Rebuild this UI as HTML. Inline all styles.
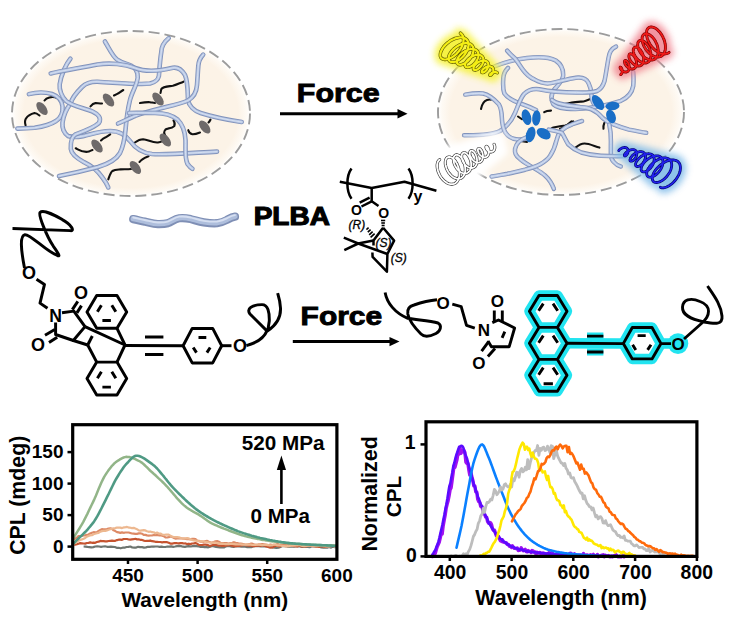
<!DOCTYPE html>
<html><head><meta charset="utf-8">
<style>
html,body{margin:0;padding:0;background:#fff;overflow:hidden;width:731px;height:621px;}
svg{display:block;}
text{font-family:"Liberation Sans",sans-serif;}
.b{font-weight:bold;}
</style></head>
<body>
<svg width="731" height="621" viewBox="0 0 731 621">
<defs>
 <radialGradient id="eg" cx="50%" cy="50%" r="50%">
  <stop offset="0" stop-color="#fcf3e6"/>
  <stop offset="0.9" stop-color="#fcf3e7"/>
  <stop offset="0.97" stop-color="#fefaf4"/>
  <stop offset="1" stop-color="#ffffff"/>
 </radialGradient>
 <filter id="blur4" x="-50%" y="-50%" width="200%" height="200%"><feGaussianBlur stdDeviation="3.5"/></filter>
 <filter id="blur06" x="-10%" y="-10%" width="120%" height="120%"><feGaussianBlur stdDeviation="0.7"/></filter>
 <filter id="blur6" x="-50%" y="-50%" width="200%" height="200%"><feGaussianBlur stdDeviation="6"/></filter>
</defs>

<!-- ============ TOP ELLIPSES ============ -->
<ellipse cx="131" cy="113.5" rx="119" ry="82.5" fill="url(#eg)"/>
<ellipse cx="131" cy="113.5" rx="119" ry="82.5" fill="none" stroke="#9c9c9c" stroke-width="1.9" stroke-dasharray="11 5" filter="url(#blur06)"/>
<ellipse cx="561" cy="112" rx="123" ry="83" fill="url(#eg)"/>
<ellipse cx="561" cy="112" rx="123" ry="83" fill="none" stroke="#9c9c9c" stroke-width="1.9" stroke-dasharray="11 5" filter="url(#blur06)"/>
<g>
 <g fill="none" stroke-linecap="round" stroke-linejoin="round">
  <g stroke="#111" stroke-width="2.1">
   <path d="M57.6,98.2 C54,96.5 51,97 49.4,97.4 C47,98 45.5,99 44.5,100.5 M39.5,115.5 C37,113.5 35.5,113 34.6,113 C31,114 28,115.5 26.4,117.9 C24.8,120 24.8,123 25.6,125.3"/>
   <path d="M90.5,106.4 C92,104.5 94,103.2 95.4,103.1 C97,103 99,103.5 102,103.5 M114,95.5 C116,94.5 117,94 118.4,93.3 C120,92.2 121.5,91 123.3,90"/>
   <path d="M75.7,148.3 C79,150 83,153 88.8,151.6 C90,151 91,150.5 92.5,150 M101,140.5 C102.5,139 104,138 105.2,137.6 C107,136.5 108.5,135.5 110.2,134.3"/>
   <path d="M140,103 C143,102.5 147,102 150,102.2 C152,102.5 153.5,103 155,103 M160.5,93 C161,91 161,89.8 161.3,89.1 C163,86.5 168,86.5 172.8,85.8 C176,85 180,83 183.5,81.7"/>
   <path d="M134.9,142.5 C137,141 140,139.3 143.1,139.3 C148,139.5 152,143 157.9,142.5 C160,142.2 161.5,141.8 162,141 M165.3,136 C164.5,134 163.5,132.5 164.5,131 C165,129.6 166.5,128.8 167.8,128.6 C170,128.2 173,127.5 174.3,126.1 C175,124.5 174.5,122 173.5,120.4"/>
   <path d="M188.3,130.2 C189,132.5 190.5,134 192.4,134.3 C195,134.5 197.5,133.5 200,132.5 M208.5,122.5 C209.5,121.5 210,120.5 210.5,119.6"/>
   <path d="M108.3,179.3 C109.5,176 110.5,172.5 112.4,171 C115,169.3 118,169.6 120.6,169.4 C124,169.2 127,169.4 131,169 M139.5,162 C140.5,161 141,160.3 142,159.6 C144,158 146.5,157 148.5,156.3"/>
  </g>
  <g fill="#6e6a6a" stroke="none">
   <ellipse cx="42" cy="108.5" rx="4.2" ry="7.6" transform="rotate(-38 42 108.5)"/>
   <ellipse cx="108.5" cy="100" rx="4.2" ry="7.6" transform="rotate(-38 108.5 100)"/>
   <ellipse cx="97" cy="146" rx="4.2" ry="7.6" transform="rotate(-38 97 146)"/>
   <ellipse cx="158" cy="99" rx="4.2" ry="7.6" transform="rotate(-38 158 99)"/>
   <ellipse cx="165.3" cy="140" rx="4.2" ry="7.6" transform="rotate(-38 165.3 140)"/>
   <ellipse cx="204.7" cy="127" rx="4.2" ry="7.6" transform="rotate(-38 204.7 127)"/>
   <ellipse cx="135.4" cy="167.5" rx="4.2" ry="7.6" transform="rotate(-38 135.4 167.5)"/>
  </g>
  <g fill="none" stroke-linecap="round" stroke-linejoin="round"><path d="M28.9,94.1 C35,92.5 45,92 52,94 C58,96 62,101 62.5,106.4 C63,112 61,118 56,121 C50,125 40,127 34.6,127.8 C28,128.5 22,128.6 17.4,128.6" stroke="#8092bb" stroke-width="4.6"/><path d="M28.9,94.1 C35,92.5 45,92 52,94 C58,96 62,101 62.5,106.4 C63,112 61,118 56,121 C50,125 40,127 34.6,127.8 C28,128.5 22,128.6 17.4,128.6" stroke="#b8c7e4" stroke-width="2.8"/><path d="M28.9,94.1 C35,92.5 45,92 52,94 C58,96 62,101 62.5,106.4 C63,112 61,118 56,121 C50,125 40,127 34.6,127.8 C28,128.5 22,128.6 17.4,128.6" stroke="#dde6f5" stroke-width="0.8"/><path d="M168.7,38.2 C164,42 161.5,46 161.3,52 C160,60 159.5,68 158.9,76 C158,80 156,82 150,83.5 C140,85 120,83 97.5,81.7 C90,81.5 86,83 82,87 C76,93 72,98 70.8,103.1 C67,108 63.5,115 62.5,122.8 C62,128 64,133 68,136 C73,138 78,137 83.9,136 C92,134 100,131 110,131 C120,131 125,135 130,141 C135,148 142,153 152,154 C165,155 190,153 217,151.6" stroke="#8092bb" stroke-width="4.6"/><path d="M168.7,38.2 C164,42 161.5,46 161.3,52 C160,60 159.5,68 158.9,76 C158,80 156,82 150,83.5 C140,85 120,83 97.5,81.7 C90,81.5 86,83 82,87 C76,93 72,98 70.8,103.1 C67,108 63.5,115 62.5,122.8 C62,128 64,133 68,136 C73,138 78,137 83.9,136 C92,134 100,131 110,131 C120,131 125,135 130,141 C135,148 142,153 152,154 C165,155 190,153 217,151.6" stroke="#b8c7e4" stroke-width="2.8"/><path d="M168.7,38.2 C164,42 161.5,46 161.3,52 C160,60 159.5,68 158.9,76 C158,80 156,82 150,83.5 C140,85 120,83 97.5,81.7 C90,81.5 86,83 82,87 C76,93 72,98 70.8,103.1 C67,108 63.5,115 62.5,122.8 C62,128 64,133 68,136 C73,138 78,137 83.9,136 C92,134 100,131 110,131 C120,131 125,135 130,141 C135,148 142,153 152,154 C165,155 190,153 217,151.6" stroke="#dde6f5" stroke-width="0.8"/><path d="M70.4,58.7 C66,64 61,75 59.7,84.2 C59,90 62,97 66,101 C72,106 84,108 92.1,111.3 C98,114 102,118 99,122.8 C95,127 82,132 75.7,134.3 C71,137 70.5,143 70.8,149.1 C71.5,155 78,159 84,162.2 C92,166 98,171 102.5,177.6 C105,181 107,184 108.3,187.5" stroke="#8092bb" stroke-width="4.6"/><path d="M70.4,58.7 C66,64 61,75 59.7,84.2 C59,90 62,97 66,101 C72,106 84,108 92.1,111.3 C98,114 102,118 99,122.8 C95,127 82,132 75.7,134.3 C71,137 70.5,143 70.8,149.1 C71.5,155 78,159 84,162.2 C92,166 98,171 102.5,177.6 C105,181 107,184 108.3,187.5" stroke="#b8c7e4" stroke-width="2.8"/><path d="M70.4,58.7 C66,64 61,75 59.7,84.2 C59,90 62,97 66,101 C72,106 84,108 92.1,111.3 C98,114 102,118 99,122.8 C95,127 82,132 75.7,134.3 C71,137 70.5,143 70.8,149.1 C71.5,155 78,159 84,162.2 C92,166 98,171 102.5,177.6 C105,181 107,184 108.3,187.5" stroke="#dde6f5" stroke-width="0.8"/><path d="M104.9,41.5 C110,50 113,57 117.2,59.6 C122,63 127,63.7 131,65.5 C136,68 138,72 137.7,77.6 C137,85 132,92 130,100 C128,108 126.5,118 125.5,130 C124.7,138 123.5,146 120,153 C116,160 108,164 98,167 C85,170.5 72,173.5 59,176" stroke="#8092bb" stroke-width="4.6"/><path d="M104.9,41.5 C110,50 113,57 117.2,59.6 C122,63 127,63.7 131,65.5 C136,68 138,72 137.7,77.6 C137,85 132,92 130,100 C128,108 126.5,118 125.5,130 C124.7,138 123.5,146 120,153 C116,160 108,164 98,167 C85,170.5 72,173.5 59,176" stroke="#b8c7e4" stroke-width="2.8"/><path d="M104.9,41.5 C110,50 113,57 117.2,59.6 C122,63 127,63.7 131,65.5 C136,68 138,72 137.7,77.6 C137,85 132,92 130,100 C128,108 126.5,118 125.5,130 C124.7,138 123.5,146 120,153 C116,160 108,164 98,167 C85,170.5 72,173.5 59,176" stroke="#dde6f5" stroke-width="0.8"/><path d="M50.7,73.5 C60,71 80,68 97.5,64.5 C110,62.5 125,64 135,68 C145,72 160,71 172.8,67.8 C178,67 182,70 185,75 C188,82 187.6,92 188,100 C189,106 194,111 200.6,113 C210,116 225,119.5 241.7,122" stroke="#8092bb" stroke-width="4.6"/><path d="M50.7,73.5 C60,71 80,68 97.5,64.5 C110,62.5 125,64 135,68 C145,72 160,71 172.8,67.8 C178,67 182,70 185,75 C188,82 187.6,92 188,100 C189,106 194,111 200.6,113 C210,116 225,119.5 241.7,122" stroke="#b8c7e4" stroke-width="2.8"/><path d="M50.7,73.5 C60,71 80,68 97.5,64.5 C110,62.5 125,64 135,68 C145,72 160,71 172.8,67.8 C178,67 182,70 185,75 C188,82 187.6,92 188,100 C189,106 194,111 200.6,113 C210,116 225,119.5 241.7,122" stroke="#dde6f5" stroke-width="0.8"/><path d="M203.2,54.6 C200,58 198.5,62 198.3,66 C197.8,72 197.5,79 197,85 C196.5,92 194,97 188,100.5 C180,104 170,106 162,108 C152,110.5 142,113 135,116 C130,118 124,121 118,123.5" stroke="#8092bb" stroke-width="4.6"/><path d="M203.2,54.6 C200,58 198.5,62 198.3,66 C197.8,72 197.5,79 197,85 C196.5,92 194,97 188,100.5 C180,104 170,106 162,108 C152,110.5 142,113 135,116 C130,118 124,121 118,123.5" stroke="#b8c7e4" stroke-width="2.8"/><path d="M203.2,54.6 C200,58 198.5,62 198.3,66 C197.8,72 197.5,79 197,85 C196.5,92 194,97 188,100.5 C180,104 170,106 162,108 C152,110.5 142,113 135,116 C130,118 124,121 118,123.5" stroke="#dde6f5" stroke-width="0.8"/><path d="M129,113 C135,112.5 146,113 155,113 C163,113 172,115 177.6,119.6 C182,124 185,130 185.5,140 C185.8,150 184.5,158 187.5,163.9 C189,166 191,168 192.4,168.8" stroke="#8092bb" stroke-width="4.6"/><path d="M129,113 C135,112.5 146,113 155,113 C163,113 172,115 177.6,119.6 C182,124 185,130 185.5,140 C185.8,150 184.5,158 187.5,163.9 C189,166 191,168 192.4,168.8" stroke="#b8c7e4" stroke-width="2.8"/><path d="M129,113 C135,112.5 146,113 155,113 C163,113 172,115 177.6,119.6 C182,124 185,130 185.5,140 C185.8,150 184.5,158 187.5,163.9 C189,166 191,168 192.4,168.8" stroke="#dde6f5" stroke-width="0.8"/></g>
 </g>
</g>

<g>
 <g fill="none" stroke-linecap="round" stroke-linejoin="round">
  <g stroke="#111" stroke-width="2.1">
   <path d="M481,109 C482,104 484,101 487,100 C488.5,99.5 490,99.5 491,99.6"/>
   <path d="M554,101.6 C558,103.5 561,104.5 565,104 C570,103 576,101.5 581,101.6 C586,101.8 590,99 593,97.5"/>
   <path d="M544.2,112.2 C546,111 548,110.6 551,110.6"/>
   <path d="M518,116.5 C519.5,117.5 521,118.5 522,119.2"/>
   <path d="M552,127.9 C556,127 560,126 565.1,125.5 C568,125 571,123 573.3,121.3"/>
   <path d="M575.6,147.6 C578,145.5 581,143.5 584.6,143.5 C589,143.5 594,146 599.4,147.6"/>
   <path d="M604.3,123 C603.5,125 603.2,127 603.5,128.7"/>
   <path d="M571.5,121.3 C569,123 567.5,124.5 566.6,126.3 C564,127.5 562,128.2 560,128.7"/>
   <path d="M520.8,141 C523,141.5 525,141.8 527,142"/>
  </g>
 </g>
<g fill="none" stroke-linecap="round" stroke-linejoin="round"><path d="M494.9,66.3 C505,62 515,59.5 527,58 C540,56.5 550,57.5 555.7,60.5 C561,64 563.5,70 563.1,76.1 C562.5,81 559,84 555,88.5 C551.5,93 550.5,99 553.2,104 C556,107.5 565,109 575.4,109 C590,108.5 605,106 620.9,100.8 C628,97.5 632,93 633.2,86 C633.8,80 633.5,76 633.2,72" stroke="#8092bb" stroke-width="4.5"/><path d="M494.9,66.3 C505,62 515,59.5 527,58 C540,56.5 550,57.5 555.7,60.5 C561,64 563.5,70 563.1,76.1 C562.5,81 559,84 555,88.5 C551.5,93 550.5,99 553.2,104 C556,107.5 565,109 575.4,109 C590,108.5 605,106 620.9,100.8 C628,97.5 632,93 633.2,86 C633.8,80 633.5,76 633.2,72" stroke="#b8c7e4" stroke-width="2.8"/><path d="M494.9,66.3 C505,62 515,59.5 527,58 C540,56.5 550,57.5 555.7,60.5 C561,64 563.5,70 563.1,76.1 C562.5,81 559,84 555,88.5 C551.5,93 550.5,99 553.2,104 C556,107.5 565,109 575.4,109 C590,108.5 605,106 620.9,100.8 C628,97.5 632,93 633.2,86 C633.8,80 633.5,76 633.2,72" stroke="#dde6f5" stroke-width="0.8"/><path d="M507.2,50.7 C510,54 512,56 514.6,58 C518,62 520,66 522.8,69.6 C526,74 530,77.5 534.3,79.4 C538,81.5 543,83.5 547.5,83.5 C552,83.5 556,81.8 560.6,81 C566,80 572,78 578,77.6 C583,77.3 586.5,79 588.5,83 C590.5,87 591.3,91 591.3,94.2 C591.5,98 592,101 594,104" stroke="#8092bb" stroke-width="4.5"/><path d="M507.2,50.7 C510,54 512,56 514.6,58 C518,62 520,66 522.8,69.6 C526,74 530,77.5 534.3,79.4 C538,81.5 543,83.5 547.5,83.5 C552,83.5 556,81.8 560.6,81 C566,80 572,78 578,77.6 C583,77.3 586.5,79 588.5,83 C590.5,87 591.3,91 591.3,94.2 C591.5,98 592,101 594,104" stroke="#b8c7e4" stroke-width="2.8"/><path d="M507.2,50.7 C510,54 512,56 514.6,58 C518,62 520,66 522.8,69.6 C526,74 530,77.5 534.3,79.4 C538,81.5 543,83.5 547.5,83.5 C552,83.5 556,81.8 560.6,81 C566,80 572,78 578,77.6 C583,77.3 586.5,79 588.5,83 C590.5,87 591.3,91 591.3,94.2 C591.5,98 592,101 594,104" stroke="#dde6f5" stroke-width="0.8"/><path d="M508,67.9 C505,71 503.5,74 503.3,78 C503,83 502.5,88 504.3,93.3 C507,97.5 511,100 519.6,103.2 C526,105.5 532,108 536,110" stroke="#8092bb" stroke-width="4.5"/><path d="M508,67.9 C505,71 503.5,74 503.3,78 C503,83 502.5,88 504.3,93.3 C507,97.5 511,100 519.6,103.2 C526,105.5 532,108 536,110" stroke="#b8c7e4" stroke-width="2.8"/><path d="M508,67.9 C505,71 503.5,74 503.3,78 C503,83 502.5,88 504.3,93.3 C507,97.5 511,100 519.6,103.2 C526,105.5 532,108 536,110" stroke="#dde6f5" stroke-width="0.8"/><path d="M616,46.6 C611,49 609.5,52 608.5,58 C607,66 606,74 604.5,81 C603,86 601,89 597,91 C592,92.5 584,92.8 576.6,92.5 C565,92.5 550,91.5 539.3,89.3 C533,88.5 528,90 524,94 C520,99 518,106 515,113 C512,120 508,126 500,131 C492,135 480,135.5 464.1,135.3" stroke="#8092bb" stroke-width="4.5"/><path d="M616,46.6 C611,49 609.5,52 608.5,58 C607,66 606,74 604.5,81 C603,86 601,89 597,91 C592,92.5 584,92.8 576.6,92.5 C565,92.5 550,91.5 539.3,89.3 C533,88.5 528,90 524,94 C520,99 518,106 515,113 C512,120 508,126 500,131 C492,135 480,135.5 464.1,135.3" stroke="#b8c7e4" stroke-width="2.8"/><path d="M616,46.6 C611,49 609.5,52 608.5,58 C607,66 606,74 604.5,81 C603,86 601,89 597,91 C592,92.5 584,92.8 576.6,92.5 C565,92.5 550,91.5 539.3,89.3 C533,88.5 528,90 524,94 C520,99 518,106 515,113 C512,120 508,126 500,131 C492,135 480,135.5 464.1,135.3" stroke="#dde6f5" stroke-width="0.8"/><path d="M465.3,94.6 C472,93.5 478,93 483,93.5 C488,94.5 494,99 498.8,104.2 C501,108 501.6,112 501.8,117 C502,122 502.5,127 505,132 C508,137 512,139 518,139.5 C522,139.7 526,139 530,137.5" stroke="#8092bb" stroke-width="4.5"/><path d="M465.3,94.6 C472,93.5 478,93 483,93.5 C488,94.5 494,99 498.8,104.2 C501,108 501.6,112 501.8,117 C502,122 502.5,127 505,132 C508,137 512,139 518,139.5 C522,139.7 526,139 530,137.5" stroke="#b8c7e4" stroke-width="2.8"/><path d="M465.3,94.6 C472,93.5 478,93 483,93.5 C488,94.5 494,99 498.8,104.2 C501,108 501.6,112 501.8,117 C502,122 502.5,127 505,132 C508,137 512,139 518,139.5 C522,139.7 526,139 530,137.5" stroke="#dde6f5" stroke-width="0.8"/><path d="M527,137 C520,139.5 516,143 515,149.2 C514.5,153 516,156 519.7,158.7 C523,162 528,164.5 532,166.9 C537,170 541,172 545,175.5 C549,179 552,184 553.9,188.8" stroke="#8092bb" stroke-width="4.5"/><path d="M527,137 C520,139.5 516,143 515,149.2 C514.5,153 516,156 519.7,158.7 C523,162 528,164.5 532,166.9 C537,170 541,172 545,175.5 C549,179 552,184 553.9,188.8" stroke="#b8c7e4" stroke-width="2.8"/><path d="M527,137 C520,139.5 516,143 515,149.2 C514.5,153 516,156 519.7,158.7 C523,162 528,164.5 532,166.9 C537,170 541,172 545,175.5 C549,179 552,184 553.9,188.8" stroke="#dde6f5" stroke-width="0.8"/><path d="M491.6,176.5 C498,175.5 503,174.5 507.4,173.8 C514,172.5 520,171 525.1,169.7 C531,168 536,166.5 540.2,164.2 C545,161.5 548,159 550,156 C553,151.5 555,147 556.6,140 C558,133 563,127.5 571.7,124.6 C575,123.3 578,122 582,121" stroke="#8092bb" stroke-width="4.5"/><path d="M491.6,176.5 C498,175.5 503,174.5 507.4,173.8 C514,172.5 520,171 525.1,169.7 C531,168 536,166.5 540.2,164.2 C545,161.5 548,159 550,156 C553,151.5 555,147 556.6,140 C558,133 563,127.5 571.7,124.6 C575,123.3 578,122 582,121" stroke="#b8c7e4" stroke-width="2.8"/><path d="M491.6,176.5 C498,175.5 503,174.5 507.4,173.8 C514,172.5 520,171 525.1,169.7 C531,168 536,166.5 540.2,164.2 C545,161.5 548,159 550,156 C553,151.5 555,147 556.6,140 C558,133 563,127.5 571.7,124.6 C575,123.3 578,122 582,121" stroke="#dde6f5" stroke-width="0.8"/><path d="M552,100 C554,101.5 556,102.7 558.5,103.3 C565,105 572,106 580,107 C588,107.5 595,109 602.7,118 C607,122 610,123 614.2,124.6 C620,127 625,128.5 629,129.6 C636,131 641,132 646.2,132.8" stroke="#8092bb" stroke-width="4.5"/><path d="M552,100 C554,101.5 556,102.7 558.5,103.3 C565,105 572,106 580,107 C588,107.5 595,109 602.7,118 C607,122 610,123 614.2,124.6 C620,127 625,128.5 629,129.6 C636,131 641,132 646.2,132.8" stroke="#b8c7e4" stroke-width="2.8"/><path d="M552,100 C554,101.5 556,102.7 558.5,103.3 C565,105 572,106 580,107 C588,107.5 595,109 602.7,118 C607,122 610,123 614.2,124.6 C620,127 625,128.5 629,129.6 C636,131 641,132 646.2,132.8" stroke="#dde6f5" stroke-width="0.8"/><path d="M609.3,124.6 C610.5,130 611,135 610.9,141 C610.9,146 610.8,150 610.9,154.2 C611,158 612,160.5 614.2,162.4 C616,164.5 618,165.8 620.8,166.5" stroke="#8092bb" stroke-width="4.5"/><path d="M609.3,124.6 C610.5,130 611,135 610.9,141 C610.9,146 610.8,150 610.9,154.2 C611,158 612,160.5 614.2,162.4 C616,164.5 618,165.8 620.8,166.5" stroke="#b8c7e4" stroke-width="2.8"/><path d="M609.3,124.6 C610.5,130 611,135 610.9,141 C610.9,146 610.8,150 610.9,154.2 C611,158 612,160.5 614.2,162.4 C616,164.5 618,165.8 620.8,166.5" stroke="#dde6f5" stroke-width="0.8"/><path d="M548.7,129.6 C553,130.5 558,131.5 561.8,132.8 C564,136 565.5,140 568.2,144.3 C572,148 576,150.5 581.3,152.5 C588,154.5 594,155.5 601,155.8 C610,156.2 620,156.5 630.6,155.8" stroke="#8092bb" stroke-width="4.5"/><path d="M548.7,129.6 C553,130.5 558,131.5 561.8,132.8 C564,136 565.5,140 568.2,144.3 C572,148 576,150.5 581.3,152.5 C588,154.5 594,155.5 601,155.8 C610,156.2 620,156.5 630.6,155.8" stroke="#b8c7e4" stroke-width="2.8"/><path d="M548.7,129.6 C553,130.5 558,131.5 561.8,132.8 C564,136 565.5,140 568.2,144.3 C572,148 576,150.5 581.3,152.5 C588,154.5 594,155.5 601,155.8 C610,156.2 620,156.5 630.6,155.8" stroke="#dde6f5" stroke-width="0.8"/></g><g fill="#1a6ec6">
<ellipse cx="526.5" cy="117.2" rx="4.6" ry="8" transform="rotate(-15 526.5 117.2)"/>
<ellipse cx="536.4" cy="118" rx="4.2" ry="7.8" transform="rotate(5 536.4 118)"/>
<ellipse cx="530.6" cy="134.5" rx="4.6" ry="8" transform="rotate(15 530.6 134.5)"/>
<ellipse cx="543.7" cy="133.7" rx="7.6" ry="5" transform="rotate(30 543.7 133.7)"/>
<ellipse cx="598" cy="102.5" rx="4.6" ry="8.5" transform="rotate(-35 598 102.5)"/>
<ellipse cx="612.5" cy="106" rx="7" ry="4.3" transform="rotate(-5 612.5 106)"/>
<ellipse cx="611" cy="116.5" rx="4.6" ry="7" transform="rotate(-20 611 116.5)"/>
</g>
</g>

<g opacity="0.95" filter="url(#blur4)"><path d="M502.5,71.4 L458.0,26.9 L436.3,61.0 L495.5,82.3Z" fill="#f6f23a"/><path d="M497.3,72.8L497.1,72.7L496.9,72.6L496.7,72.4L496.5,72.3L496.2,72.3L495.9,72.2L495.7,72.1L495.4,72.1L495.1,72.1L494.8,72.1L494.5,72.1L494.2,72.2L493.9,72.2L493.6,72.3L493.3,72.4L493.0,72.5L492.7,72.6L492.4,72.7L492.1,72.8L491.8,73.0L491.6,73.1L491.3,73.3L491.1,73.5L490.9,73.6L490.7,73.8L490.5,74.0L490.3,74.1L490.2,74.3L490.1,74.5L490.0,74.6L489.9,74.7L489.9,74.9L489.9,75.0L489.8,75.1L489.9,75.2L489.9,75.2L490.0,75.3L490.0,75.3L490.1,75.3L490.3,75.3L490.4,75.2L490.5,75.2L490.7,75.1L490.9,75.0L491.1,74.8L491.2,74.7L491.4,74.5L491.6,74.3L491.8,74.0L492.0,73.8L492.2,73.5L492.4,73.3L492.6,73.0L492.7,72.6L492.9,72.3L493.0,72.0L493.1,71.6L493.2,71.3L493.3,70.9L493.3,70.6L493.4,70.2L493.4,69.9L493.3,69.5L493.3,69.2L493.2,68.9L493.1,68.5L493.0,68.2L492.8,68.0L492.6,67.7L492.4,67.4L492.1,67.2L491.8,67.0L491.5,66.8L491.2,66.7L490.9,66.6L490.5,66.5L490.1,66.4L489.7,66.4L489.3,66.4L488.8,66.4L488.4,66.4L487.9,66.5L487.5,66.6L487.0,66.8L486.6,66.9L486.1,67.1L485.7,67.3L485.3,67.6L484.9,67.8L484.5,68.1L484.1,68.4L483.7,68.6L483.4,68.9L483.1,69.2L482.8,69.6L482.5,69.9L482.3,70.2L482.1,70.5L481.9,70.8L481.8,71.0L481.7,71.3L481.7,71.5L481.7,71.8L481.7,72.0L481.7,72.2L481.8,72.3L481.9,72.4L482.1,72.5L482.3,72.6L482.5,72.6L482.7,72.6L482.9,72.6L483.2,72.5L483.5,72.4L483.8,72.3L484.1,72.1L484.5,71.9L484.8,71.7L485.2,71.4L485.5,71.1L485.8,70.7L486.2,70.4L486.5,70.0L486.8,69.6L487.1,69.1L487.3,68.7L487.6,68.2L487.8,67.7L488.0,67.2L488.1,66.7L488.2,66.2L488.3,65.7L488.4,65.3L488.4,64.8L488.3,64.3L488.3,63.9L488.2,63.4L488.0,63.0L487.8,62.6L487.6,62.3L487.3,61.9L487.0,61.6L486.6,61.4L486.2,61.1L485.8,61.0L485.3,60.8L484.8,60.7L484.3,60.6L483.8,60.6L483.2,60.6L482.7,60.7L482.1,60.8L481.5,60.9L480.9,61.1L480.3,61.3L479.7,61.5L479.1,61.8L478.5,62.1L477.9,62.5L477.4,62.8L476.9,63.2L476.4,63.6L475.9,64.1L475.5,64.5L475.1,64.9L474.7,65.4L474.4,65.8L474.1,66.3L473.9,66.7L473.7,67.1L473.6,67.5L473.5,67.9L473.4,68.3L473.4,68.6L473.5,68.9L473.6,69.2L473.7,69.5L473.9,69.7L474.1,69.8L474.4,69.9L474.7,70.0L475.0,70.0L475.4,70.0L475.8,69.9L476.2,69.8L476.7,69.7L477.2,69.4L477.6,69.2L478.1,68.9L478.6,68.5L479.1,68.1L479.6,67.7L480.0,67.3L480.5,66.8L480.9,66.2L481.3,65.7L481.7,65.1L482.1,64.5L482.4,63.9L482.7,63.2L482.9,62.6L483.1,62.0L483.3,61.3L483.4,60.7L483.4,60.1L483.4,59.5L483.3,58.9L483.2,58.4L483.1,57.8L482.8,57.3L482.6,56.9L482.2,56.5L481.8,56.1L481.4,55.8L480.9,55.5L480.4,55.2L479.9,55.0L479.3,54.9L478.6,54.8L478.0,54.8L477.3,54.8L476.6,54.9L475.8,55.1L475.1,55.2L474.3,55.5L473.6,55.8L472.9,56.1L472.1,56.5L471.4,56.9L470.7,57.3L470.0,57.8L469.4,58.3L468.7,58.9L468.2,59.4L467.6,60.0L467.1,60.6L466.7,61.1L466.3,61.7L466.0,62.3L465.7,62.9L465.5,63.4L465.3,64.0L465.2,64.5L465.1,65.0L465.2,65.4L465.2,65.8L465.4,66.2L465.6,66.5L465.8,66.8L466.1,67.0L466.5,67.2L466.9,67.3L467.3,67.4L467.8,67.4L468.3,67.3L468.9,67.2L469.5,67.0L470.1,66.8L470.7,66.5L471.3,66.1L472.0,65.7L472.6,65.3L473.2,64.8L473.8,64.2L474.4,63.6L475.0,63.0L475.6,62.3L476.1,61.6L476.5,60.9L477.0,60.1L477.4,59.3L477.7,58.6L478.0,57.8L478.2,57.0L478.3,56.3L478.4,55.5L478.4,54.8L478.4,54.1L478.3,53.4L478.1,52.7L477.9,52.1L477.6,51.6L477.2,51.1L476.8,50.6L476.3,50.2L475.7,49.8L475.1,49.5L474.4,49.3L473.7,49.1L473.0,49.0L472.2,49.0L471.4,49.0L470.5,49.1L469.7,49.3L468.8,49.5L467.9,49.8L467.0,50.2L466.1,50.6L465.2,51.0L464.4,51.6L463.5,52.1L462.7,52.7L461.9,53.3L461.2,54.0L460.5,54.7L459.8,55.4L459.2,56.1L458.7,56.8L458.2,57.5L457.8,58.3L457.5,59.0L457.2,59.7L457.0,60.3L456.9,61.0L456.9,61.6L456.9,62.2L457.0,62.7L457.1,63.2L457.4,63.6L457.7,63.9L458.1,64.2L458.5,64.5L459.0,64.6L459.6,64.7L460.2,64.8L460.8,64.7L461.5,64.6L462.2,64.4L462.9,64.2L463.7,63.8L464.5,63.4L465.2,63.0L466.0,62.4L466.8,61.9L467.6,61.2L468.3,60.5L469.0,59.8L469.7,59.0L470.3,58.2L470.9,57.3L471.5,56.4L472.0,55.5L472.4,54.6L472.8,53.7L473.0,52.8L473.3,51.9L473.4,51.0L473.5,50.1L473.5,49.3L473.4,48.5L473.2,47.7L473.0,47.0L472.6,46.3L472.2,45.7L471.7,45.1L471.2,44.6L470.5,44.2L469.9,43.9L469.1,43.6L468.3,43.4L467.4,43.3L466.5,43.2L465.6,43.2L464.6,43.4L463.6,43.5L462.6,43.8L461.5,44.1L460.5,44.6L459.4,45.0L458.4,45.6L457.4,46.2L456.4,46.8L455.5,47.5L454.6,48.3L453.7,49.1L452.9,49.9L452.1,50.7L451.4,51.6L450.8,52.4L450.2,53.3L449.7,54.1L449.3,55.0L449.0,55.8L448.8,56.6L448.6,57.4L448.6,58.1L448.6,58.8L448.7,59.5L448.9,60.1L449.2,60.6L449.5,61.0L450.0,61.4L450.5,61.7L451.1,61.9L451.7,62.1L452.4,62.2L453.2,62.1L454.0,62.0L454.8,61.8L455.7,61.6L456.6,61.2L457.5,60.8L458.4,60.2L459.4,59.7L460.3,59.0L461.2,58.3L462.1,57.5L462.9,56.6L463.8,55.7L464.5,54.8L465.3,53.8L465.9,52.8L466.5,51.8L467.1,50.7L467.5,49.7L467.9,48.6L468.2,47.6L468.4,46.5L468.5,45.5L468.5,44.6L468.5,43.6L468.3,42.7L468.0,41.9L467.7,41.1L467.3,40.4L466.7,39.7L466.1,39.1L465.4,38.6L464.7,38.2L463.8,37.9L462.9,37.6L461.9,37.5L460.9,37.4L459.8,37.4L458.7,37.6L457.6,37.8L456.4,38.1L455.2,38.4L454.1,38.9L452.9,39.4L451.7,40.0L450.5,40.7L449.4,41.5L448.3,42.3L447.3,43.1L446.3,44.0L445.3,45.0L444.4,45.9L443.6,46.9L442.9,47.9L442.2,48.9L441.7,49.9L441.2,50.9L440.8,51.9L440.5,52.9L440.4,53.8L440.3,54.6L440.3,55.4L440.4,56.2L440.6,56.9L440.9,57.5L441.3,58.1L441.8,58.5L442.4,58.9L443.1,59.2L443.8,59.4L444.6,59.5L445.5,59.5L446.4,59.4L447.4,59.2L448.4,59.0L449.4,58.6L450.5,58.1L451.5,57.6L452.6,56.9L453.7,56.2L454.7,55.4L455.8,54.5L456.8,53.6L457.7,52.6L458.7,51.5L459.5,50.4L460.3,49.3L461.0,48.1L461.7,46.9L462.2,45.7L462.7,44.5L463.1,43.3L463.3,42.2L463.5,41.0L463.6,39.9L463.5,38.8L463.4,37.8L463.1,36.8L462.8,35.9L462.3,35.1L461.8,34.4L461.1,33.7L460.4,33.1" fill="none" stroke="#f6f23a" stroke-width="11"/></g>
<g opacity="0.8" filter="url(#blur4)"><path d="M620.4,80.1 L675.0,52.7 L648.7,21.2 L612.1,70.1Z" fill="#f07a88"/><path d="M620.7,74.6L620.9,74.5L621.1,74.3L621.2,74.1L621.4,74.0L621.5,73.7L621.7,73.5L621.8,73.3L621.9,73.0L622.0,72.8L622.1,72.5L622.1,72.2L622.2,71.9L622.2,71.6L622.2,71.3L622.2,71.0L622.2,70.7L622.2,70.4L622.1,70.1L622.1,69.8L622.0,69.5L621.9,69.2L621.8,68.9L621.7,68.7L621.6,68.4L621.5,68.2L621.4,68.0L621.2,67.8L621.1,67.6L621.0,67.5L620.9,67.4L620.7,67.3L620.6,67.2L620.5,67.1L620.4,67.1L620.3,67.1L620.3,67.1L620.2,67.2L620.1,67.2L620.1,67.3L620.1,67.5L620.1,67.6L620.1,67.8L620.2,67.9L620.2,68.1L620.3,68.3L620.4,68.6L620.5,68.8L620.7,69.0L620.8,69.3L621.0,69.5L621.2,69.8L621.5,70.0L621.7,70.3L622.0,70.5L622.2,70.8L622.5,71.0L622.8,71.2L623.2,71.4L623.5,71.5L623.8,71.7L624.2,71.8L624.5,71.9L624.9,72.0L625.2,72.0L625.6,72.1L625.9,72.0L626.3,72.0L626.6,71.9L626.9,71.8L627.2,71.7L627.5,71.5L627.8,71.3L628.0,71.1L628.3,70.8L628.5,70.5L628.7,70.2L628.9,69.8L629.0,69.5L629.1,69.1L629.2,68.7L629.3,68.2L629.3,67.8L629.3,67.3L629.3,66.9L629.3,66.4L629.2,65.9L629.1,65.5L629.0,65.0L628.9,64.6L628.7,64.1L628.6,63.7L628.4,63.3L628.2,62.9L627.9,62.5L627.7,62.1L627.5,61.8L627.2,61.5L627.0,61.3L626.7,61.0L626.5,60.8L626.2,60.7L626.0,60.6L625.8,60.5L625.5,60.5L625.3,60.5L625.2,60.5L625.0,60.6L624.8,60.7L624.7,60.8L624.6,61.0L624.6,61.3L624.5,61.5L624.5,61.8L624.5,62.1L624.6,62.4L624.7,62.8L624.8,63.2L624.9,63.6L625.1,64.0L625.3,64.4L625.6,64.8L625.8,65.2L626.1,65.6L626.4,66.0L626.8,66.4L627.2,66.8L627.6,67.1L628.0,67.5L628.4,67.8L628.9,68.1L629.3,68.3L629.8,68.5L630.3,68.7L630.8,68.9L631.2,69.0L631.7,69.0L632.2,69.0L632.6,69.0L633.1,68.9L633.5,68.8L633.9,68.6L634.3,68.4L634.6,68.2L635.0,67.9L635.3,67.5L635.6,67.1L635.8,66.7L636.0,66.2L636.2,65.7L636.3,65.2L636.4,64.6L636.5,64.1L636.5,63.5L636.5,62.9L636.5,62.2L636.4,61.6L636.3,61.0L636.1,60.4L635.9,59.7L635.7,59.1L635.5,58.5L635.2,57.9L634.9,57.4L634.6,56.9L634.2,56.4L633.9,55.9L633.5,55.5L633.1,55.1L632.8,54.8L632.4,54.5L632.0,54.2L631.7,54.0L631.3,53.9L630.9,53.8L630.6,53.8L630.3,53.8L630.0,53.9L629.8,54.0L629.5,54.2L629.3,54.4L629.2,54.7L629.1,55.0L629.0,55.4L628.9,55.8L628.9,56.2L628.9,56.7L629.0,57.2L629.1,57.7L629.3,58.2L629.5,58.8L629.8,59.4L630.0,59.9L630.4,60.5L630.7,61.1L631.2,61.7L631.6,62.2L632.1,62.7L632.6,63.2L633.1,63.7L633.6,64.1L634.2,64.6L634.8,64.9L635.4,65.2L636.0,65.5L636.6,65.7L637.2,65.9L637.8,66.0L638.4,66.0L638.9,66.0L639.5,65.9L640.0,65.8L640.5,65.6L641.0,65.4L641.5,65.1L641.9,64.7L642.3,64.3L642.6,63.8L642.9,63.3L643.2,62.7L643.4,62.1L643.5,61.4L643.7,60.7L643.7,60.0L643.7,59.2L643.7,58.5L643.6,57.7L643.5,56.9L643.3,56.1L643.1,55.3L642.9,54.5L642.6,53.8L642.2,53.0L641.9,52.3L641.5,51.6L641.0,50.9L640.6,50.3L640.1,49.7L639.6,49.2L639.1,48.7L638.6,48.3L638.1,47.9L637.6,47.6L637.1,47.4L636.7,47.2L636.2,47.1L635.8,47.1L635.3,47.1L635.0,47.2L634.6,47.4L634.3,47.6L634.0,47.9L633.8,48.2L633.6,48.7L633.4,49.1L633.3,49.6L633.3,50.2L633.3,50.8L633.4,51.5L633.5,52.1L633.7,52.8L633.9,53.5L634.2,54.3L634.5,55.0L634.9,55.7L635.3,56.5L635.8,57.2L636.3,57.9L636.9,58.6L637.5,59.2L638.1,59.9L638.8,60.4L639.4,61.0L640.1,61.4L640.9,61.9L641.6,62.2L642.3,62.5L643.0,62.8L643.8,62.9L644.5,63.0L645.2,63.0L645.8,63.0L646.5,62.8L647.1,62.6L647.7,62.3L648.2,62.0L648.8,61.6L649.2,61.1L649.6,60.5L650.0,59.9L650.3,59.2L650.6,58.5L650.7,57.7L650.9,56.9L651.0,56.0L651.0,55.1L650.9,54.2L650.8,53.2L650.7,52.3L650.4,51.3L650.2,50.4L649.9,49.4L649.5,48.5L649.1,47.6L648.6,46.7L648.1,45.9L647.6,45.1L647.0,44.3L646.4,43.6L645.8,43.0L645.2,42.4L644.6,41.9L644.0,41.4L643.3,41.1L642.7,40.8L642.1,40.6L641.5,40.4L641.0,40.4L640.4,40.4L639.9,40.5L639.5,40.7L639.1,41.0L638.7,41.4L638.4,41.8L638.1,42.3L637.9,42.8L637.8,43.5L637.7,44.1L637.7,44.9L637.7,45.7L637.8,46.5L638.0,47.3L638.3,48.2L638.6,49.1L638.9,50.0L639.4,50.9L639.9,51.8L640.4,52.7L641.0,53.5L641.7,54.4L642.3,55.2L643.1,55.9L643.8,56.7L644.6,57.3L645.4,57.9L646.3,58.4L647.1,58.9L648.0,59.3L648.8,59.6L649.7,59.8L650.5,60.0L651.3,60.0L652.1,60.0L652.9,59.9L653.6,59.7L654.3,59.4L655.0,59.0L655.6,58.5L656.1,57.9L656.6,57.3L657.0,56.6L657.4,55.8L657.7,55.0L657.9,54.1L658.1,53.1L658.2,52.1L658.2,51.1L658.2,50.0L658.0,48.9L657.8,47.8L657.6,46.7L657.3,45.5L656.9,44.4L656.4,43.3L655.9,42.3L655.4,41.2L654.8,40.2L654.2,39.3L653.5,38.4L652.8,37.6L652.1,36.8L651.3,36.1L650.6,35.5L649.8,35.0L649.1,34.5L648.3,34.2L647.6,33.9L646.9,33.7L646.2,33.7L645.6,33.7L645.0,33.8L644.4,34.0L643.9,34.4L643.4,34.8L643.0,35.3L642.7,35.8L642.4,36.5L642.2,37.2L642.1,38.0L642.1,38.9L642.1,39.8L642.2,40.7L642.4,41.7L642.6,42.7L643.0,43.8L643.4,44.9L643.8,45.9L644.4,47.0L645.0,48.0L645.6,49.1L646.4,50.1L647.1,51.0L648.0,51.9L648.8,52.8L649.7,53.6L650.7,54.3L651.6,55.0L652.6,55.5L653.6,56.0L654.5,56.4L655.5,56.7L656.5,56.9L657.4,57.0L658.3,57.0L659.2,56.9L660.1,56.7L660.9,56.4L661.6,56.0L662.3,55.4L663.0,54.8L663.5,54.1L664.1,53.3L664.5,52.5L664.8,51.5L665.1,50.5L665.3,49.4L665.4,48.3L665.4,47.1L665.4,45.9L665.3,44.6L665.0,43.4L664.8,42.1L664.4,40.8L664.0,39.5L663.4,38.3L662.9,37.0L662.2,35.8L661.6,34.7L660.8,33.6L660.1,32.5L659.3,31.6L658.4,30.7L657.6,29.9L656.7,29.2L655.8,28.5L654.9,28.0L654.1,27.6L653.2,27.3L652.4,27.1L651.6,27.0L650.8,27.0L650.1,27.1L649.4,27.3L648.8,27.7L648.2,28.1L647.7,28.7L647.3,29.3L647.0,30.1L646.7,30.9L646.6,31.8L646.5,32.8L646.5,33.8L646.5,34.9L646.7,36.0L647.0,37.2L647.3,38.4L647.7,39.6L648.2,40.9L648.8,42.1L649.5,43.3L650.2,44.5L651.0,45.7L651.9,46.8L652.8,47.9L653.8,48.9L654.8,49.8L655.8,50.7L656.9,51.4L658.0,52.1L659.1,52.7L660.2,53.2L661.3,53.6L662.4,53.8L663.5,54.0L664.5,54.0L665.5,53.9L666.5,53.7L667.4,53.4L668.3,53.0L669.1,52.4" fill="none" stroke="#f07a88" stroke-width="11"/></g>
<g opacity="0.85" filter="url(#blur4)"><path d="M613.9,152.6 L663.4,193.5 L681.8,157.9 L619.8,141.1Z" fill="#7ab8e8"/><path d="M618.8,150.7L618.8,150.7L618.8,150.7L618.8,150.7L618.8,150.6L618.8,150.5L618.8,150.5L618.9,150.4L618.9,150.3L619.0,150.2L619.1,150.0L619.3,149.9L619.4,149.7L619.6,149.6L619.8,149.4L619.9,149.3L620.2,149.1L620.4,148.9L620.6,148.8L620.9,148.6L621.2,148.5L621.5,148.3L621.8,148.2L622.1,148.0L622.4,147.9L622.7,147.8L623.1,147.7L623.4,147.6L623.7,147.6L624.1,147.5L624.4,147.5L624.8,147.5L625.1,147.5L625.4,147.6L625.7,147.6L626.0,147.7L626.3,147.8L626.6,148.0L626.8,148.1L627.0,148.3L627.2,148.5L627.4,148.7L627.6,149.0L627.8,149.2L627.9,149.5L628.0,149.8L628.1,150.1L628.1,150.4L628.1,150.7L628.1,151.0L628.1,151.4L628.1,151.7L628.0,152.1L627.9,152.4L627.8,152.7L627.7,153.1L627.5,153.4L627.4,153.7L627.2,154.0L627.0,154.3L626.8,154.6L626.6,154.8L626.4,155.0L626.2,155.2L626.0,155.4L625.8,155.6L625.6,155.7L625.4,155.8L625.2,155.9L625.1,155.9L624.9,155.9L624.8,155.9L624.7,155.9L624.6,155.8L624.5,155.7L624.4,155.6L624.4,155.5L624.4,155.3L624.4,155.1L624.5,154.9L624.6,154.6L624.7,154.4L624.8,154.1L625.0,153.8L625.2,153.5L625.5,153.2L625.7,152.9L626.0,152.6L626.3,152.3L626.7,152.0L627.1,151.7L627.5,151.4L627.9,151.1L628.3,150.9L628.7,150.6L629.2,150.4L629.7,150.2L630.1,150.0L630.6,149.9L631.1,149.8L631.6,149.7L632.0,149.6L632.5,149.6L633.0,149.6L633.4,149.6L633.8,149.7L634.2,149.8L634.6,150.0L635.0,150.1L635.3,150.4L635.6,150.6L635.9,150.9L636.1,151.2L636.3,151.5L636.5,151.9L636.6,152.3L636.7,152.7L636.8,153.1L636.8,153.6L636.8,154.0L636.7,154.5L636.7,155.0L636.5,155.5L636.4,156.0L636.2,156.4L636.0,156.9L635.8,157.4L635.5,157.8L635.2,158.3L634.9,158.7L634.6,159.1L634.3,159.4L633.9,159.8L633.6,160.1L633.3,160.4L632.9,160.6L632.6,160.8L632.2,161.0L631.9,161.1L631.6,161.2L631.3,161.2L631.0,161.2L630.8,161.2L630.6,161.1L630.4,161.0L630.2,160.8L630.1,160.7L630.0,160.4L630.0,160.2L630.0,159.9L630.0,159.5L630.1,159.2L630.2,158.8L630.4,158.4L630.6,158.0L630.8,157.5L631.1,157.1L631.5,156.7L631.8,156.2L632.2,155.8L632.7,155.3L633.1,154.9L633.7,154.5L634.2,154.1L634.7,153.7L635.3,153.3L635.9,153.0L636.5,152.7L637.1,152.4L637.7,152.2L638.3,152.0L639.0,151.8L639.6,151.7L640.2,151.7L640.8,151.7L641.3,151.7L641.9,151.8L642.4,151.9L642.9,152.1L643.3,152.3L643.7,152.6L644.1,152.9L644.4,153.2L644.7,153.6L645.0,154.1L645.2,154.5L645.3,155.0L645.4,155.6L645.5,156.1L645.5,156.7L645.5,157.3L645.4,157.9L645.2,158.5L645.0,159.1L644.8,159.8L644.6,160.4L644.3,161.0L643.9,161.6L643.5,162.2L643.1,162.7L642.7,163.3L642.3,163.8L641.8,164.3L641.3,164.7L640.8,165.1L640.4,165.5L639.9,165.8L639.4,166.0L638.9,166.2L638.5,166.4L638.0,166.5L637.6,166.5L637.2,166.5L636.9,166.5L636.6,166.4L636.3,166.2L636.0,166.0L635.8,165.7L635.7,165.4L635.6,165.1L635.6,164.7L635.6,164.3L635.6,163.8L635.7,163.3L635.9,162.8L636.1,162.2L636.4,161.6L636.8,161.1L637.2,160.5L637.6,159.9L638.1,159.3L638.6,158.7L639.2,158.1L639.8,157.6L640.4,157.0L641.1,156.5L641.8,156.0L642.5,155.6L643.3,155.2L644.0,154.8L644.8,154.5L645.5,154.3L646.3,154.0L647.0,153.9L647.8,153.8L648.5,153.7L649.2,153.8L649.8,153.8L650.5,154.0L651.1,154.2L651.6,154.4L652.1,154.7L652.6,155.1L653.0,155.5L653.3,156.0L653.6,156.5L653.9,157.1L654.0,157.7L654.2,158.3L654.2,159.0L654.2,159.7L654.1,160.5L654.0,161.2L653.8,162.0L653.6,162.7L653.3,163.5L653.0,164.3L652.6,165.0L652.1,165.8L651.6,166.5L651.1,167.2L650.6,167.8L650.0,168.5L649.4,169.0L648.8,169.6L648.2,170.1L647.5,170.5L646.9,170.9L646.3,171.2L645.7,171.5L645.1,171.7L644.5,171.8L644.0,171.9L643.5,171.9L643.0,171.8L642.6,171.7L642.2,171.5L641.9,171.2L641.6,170.9L641.4,170.5L641.2,170.1L641.1,169.6L641.1,169.0L641.2,168.5L641.3,167.8L641.4,167.2L641.7,166.5L642.0,165.8L642.4,165.1L642.8,164.4L643.3,163.6L643.9,162.9L644.5,162.2L645.1,161.5L645.9,160.8L646.6,160.1L647.4,159.4L648.2,158.8L649.1,158.3L649.9,157.8L650.8,157.3L651.7,156.9L652.6,156.6L653.5,156.3L654.4,156.1L655.3,155.9L656.1,155.8L657.0,155.8L657.7,155.9L658.5,156.0L659.2,156.2L659.9,156.5L660.5,156.9L661.0,157.3L661.5,157.8L661.9,158.3L662.3,158.9L662.5,159.6L662.8,160.3L662.9,161.1L663.0,161.9L662.9,162.7L662.9,163.5L662.7,164.4L662.5,165.3L662.2,166.2L661.8,167.1L661.4,168.1L660.9,169.0L660.4,169.8L659.8,170.7L659.2,171.5L658.5,172.3L657.8,173.1L657.1,173.8L656.3,174.4L655.6,175.0L654.8,175.5L654.0,176.0L653.3,176.4L652.5,176.7L651.8,176.9L651.1,177.1L650.4,177.2L649.8,177.2L649.2,177.1L648.7,177.0L648.2,176.7L647.8,176.4L647.4,176.1L647.1,175.6L646.9,175.1L646.8,174.5L646.7,173.9L646.7,173.2L646.8,172.5L647.0,171.7L647.2,170.9L647.5,170.1L647.9,169.2L648.4,168.3L649.0,167.5L649.6,166.6L650.3,165.7L651.0,164.9L651.9,164.0L652.7,163.2L653.6,162.4L654.6,161.7L655.5,161.0L656.5,160.4L657.6,159.8L658.6,159.3L659.6,158.9L660.7,158.5L661.7,158.3L662.7,158.0L663.7,157.9L664.7,157.9L665.6,157.9L666.5,158.1L667.3,158.3L668.1,158.6L668.8,159.0L669.4,159.4L670.0,160.0L670.5,160.6L670.9,161.3L671.2,162.0L671.5,162.8L671.6,163.7L671.7,164.6L671.7,165.6L671.6,166.6L671.4,167.6L671.2,168.6L670.8,169.7L670.4,170.7L669.9,171.8L669.4,172.8L668.7,173.8L668.0,174.8L667.3,175.8L666.5,176.7L665.7,177.6L664.9,178.4L664.0,179.2L663.1,179.9L662.2,180.5L661.3,181.0L660.3,181.5L659.5,181.9L658.6,182.2L657.7,182.4L656.9,182.5L656.2,182.5L655.5,182.4L654.8,182.3L654.2,182.0L653.7,181.7L653.2,181.3L652.9,180.8L652.6,180.2L652.4,179.5L652.3,178.8L652.2,178.0L652.3,177.2L652.5,176.3L652.7,175.4L653.1,174.4L653.5,173.4L654.0,172.4L654.6,171.4L655.3,170.4L656.1,169.3L656.9,168.3L657.8,167.4L658.8,166.4L659.8,165.5L660.8,164.6L661.9,163.8L663.1,163.1L664.2,162.4L665.4,161.8L666.6,161.3L667.8,160.8L668.9,160.5L670.1,160.2L671.2,160.0L672.3,160.0L673.4,160.0L674.4,160.1L675.3,160.3L676.2,160.6L677.0,161.0L677.8,161.5L678.4,162.1L679.0,162.8L679.5,163.6L679.9,164.4L680.1,165.3L680.3,166.3L680.4,167.3L680.4,168.4L680.3,169.5L680.2,170.6L679.9,171.8L679.5,173.0L679.0,174.2L678.5,175.4L677.8,176.6L677.1,177.7L676.3,178.9L675.5,180.0L674.6,181.0L673.7,182.0L672.7,183.0L671.7,183.9L670.6,184.7L669.6,185.4L668.5,186.0L667.5,186.6L666.5,187.0L665.4,187.4L664.5,187.6L663.5,187.8L662.6,187.8L661.8,187.8L661.0,187.6L660.3,187.3" fill="none" stroke="#7ab8e8" stroke-width="11"/></g>
<g opacity="1.0" filter="url(#blur4)"><path d="M497.1,133.5 L431.0,155.2 L452.2,194.9 L507.0,152.0Z" fill="#ffffff"/><path d="M494.0,144.2L494.0,144.2L494.0,144.2L494.0,144.2L494.1,144.2L494.1,144.3L494.2,144.4L494.2,144.5L494.3,144.6L494.3,144.7L494.4,144.8L494.5,145.0L494.5,145.2L494.6,145.4L494.6,145.6L494.7,145.9L494.7,146.1L494.8,146.4L494.8,146.7L494.8,146.9L494.8,147.2L494.8,147.5L494.8,147.9L494.7,148.2L494.7,148.5L494.6,148.8L494.5,149.1L494.4,149.4L494.3,149.7L494.2,150.0L494.0,150.2L493.9,150.5L493.7,150.7L493.5,150.9L493.3,151.1L493.0,151.3L492.8,151.5L492.5,151.6L492.3,151.7L492.0,151.8L491.7,151.9L491.4,151.9L491.1,151.9L490.8,151.9L490.5,151.9L490.2,151.8L489.9,151.7L489.6,151.6L489.3,151.5L489.0,151.3L488.7,151.1L488.4,150.9L488.1,150.7L487.8,150.5L487.6,150.3L487.4,150.0L487.1,149.7L486.9,149.5L486.7,149.2L486.6,148.9L486.4,148.6L486.3,148.4L486.2,148.1L486.1,147.9L486.1,147.6L486.0,147.4L486.0,147.2L486.0,147.0L486.0,146.8L486.1,146.7L486.1,146.5L486.2,146.4L486.3,146.4L486.4,146.3L486.5,146.3L486.6,146.4L486.8,146.4L486.9,146.5L487.1,146.6L487.2,146.8L487.4,147.0L487.6,147.2L487.7,147.4L487.9,147.7L488.0,148.0L488.2,148.3L488.3,148.7L488.5,149.0L488.6,149.4L488.7,149.8L488.7,150.3L488.8,150.7L488.8,151.1L488.9,151.6L488.9,152.0L488.8,152.5L488.8,152.9L488.7,153.4L488.6,153.8L488.5,154.2L488.3,154.6L488.1,155.0L487.9,155.4L487.7,155.7L487.4,156.0L487.2,156.3L486.9,156.6L486.6,156.8L486.2,156.9L485.9,157.1L485.5,157.2L485.1,157.3L484.7,157.3L484.3,157.3L483.9,157.2L483.5,157.2L483.1,157.0L482.7,156.9L482.3,156.7L481.9,156.5L481.5,156.2L481.1,155.9L480.7,155.6L480.4,155.3L480.0,154.9L479.7,154.5L479.4,154.1L479.1,153.7L478.9,153.3L478.7,152.9L478.5,152.5L478.3,152.1L478.2,151.7L478.0,151.3L478.0,150.9L477.9,150.5L477.9,150.2L477.9,149.8L477.9,149.5L478.0,149.3L478.1,149.0L478.2,148.9L478.4,148.7L478.5,148.6L478.7,148.5L478.9,148.5L479.1,148.5L479.4,148.5L479.6,148.6L479.9,148.8L480.2,148.9L480.4,149.2L480.7,149.4L480.9,149.8L481.2,150.1L481.5,150.5L481.7,150.9L481.9,151.4L482.1,151.9L482.3,152.4L482.5,152.9L482.6,153.5L482.8,154.1L482.8,154.7L482.9,155.2L482.9,155.8L482.9,156.4L482.9,157.0L482.8,157.6L482.7,158.2L482.6,158.7L482.4,159.2L482.2,159.7L482.0,160.2L481.7,160.7L481.4,161.1L481.1,161.4L480.7,161.7L480.4,162.0L479.9,162.2L479.5,162.4L479.1,162.6L478.6,162.6L478.1,162.7L477.6,162.7L477.1,162.6L476.6,162.5L476.1,162.3L475.6,162.1L475.0,161.8L474.5,161.5L474.1,161.2L473.6,160.8L473.1,160.3L472.7,159.9L472.3,159.4L471.9,158.9L471.5,158.4L471.2,157.8L470.9,157.3L470.6,156.7L470.4,156.1L470.2,155.6L470.0,155.0L469.9,154.5L469.8,154.0L469.8,153.5L469.8,153.0L469.8,152.6L469.9,152.2L470.0,151.8L470.1,151.5L470.3,151.2L470.5,151.0L470.8,150.8L471.0,150.7L471.3,150.6L471.6,150.6L471.9,150.6L472.3,150.7L472.6,150.9L473.0,151.1L473.4,151.4L473.7,151.7L474.1,152.1L474.5,152.5L474.8,153.0L475.1,153.5L475.5,154.1L475.8,154.7L476.0,155.3L476.3,156.0L476.5,156.7L476.7,157.4L476.8,158.1L476.9,158.8L477.0,159.6L477.1,160.3L477.0,161.0L477.0,161.7L476.9,162.5L476.8,163.1L476.6,163.8L476.4,164.4L476.1,165.0L475.8,165.5L475.5,166.0L475.1,166.5L474.6,166.9L474.2,167.2L473.7,167.5L473.2,167.7L472.7,167.9L472.1,168.0L471.5,168.1L470.9,168.0L470.3,167.9L469.7,167.8L469.1,167.6L468.5,167.3L467.9,167.0L467.3,166.6L466.7,166.2L466.1,165.7L465.6,165.1L465.0,164.6L464.5,164.0L464.1,163.3L463.6,162.7L463.2,162.0L462.9,161.3L462.6,160.6L462.3,159.9L462.1,159.2L461.9,158.5L461.7,157.8L461.7,157.2L461.6,156.5L461.6,155.9L461.7,155.4L461.8,154.8L461.9,154.4L462.1,154.0L462.3,153.6L462.6,153.3L462.9,153.0L463.3,152.9L463.6,152.8L464.0,152.7L464.4,152.7L464.9,152.8L465.3,153.0L465.8,153.2L466.3,153.5L466.7,153.9L467.2,154.3L467.7,154.8L468.1,155.4L468.5,156.0L468.9,156.7L469.3,157.4L469.7,158.1L470.0,158.9L470.3,159.7L470.6,160.6L470.8,161.4L471.0,162.3L471.1,163.2L471.1,164.1L471.2,165.0L471.1,165.8L471.1,166.7L470.9,167.5L470.7,168.3L470.5,169.0L470.2,169.7L469.9,170.4L469.5,171.0L469.1,171.5L468.6,172.0L468.1,172.4L467.5,172.8L466.9,173.1L466.3,173.3L465.7,173.4L465.0,173.4L464.3,173.4L463.6,173.3L462.9,173.1L462.2,172.9L461.5,172.6L460.7,172.2L460.0,171.7L459.4,171.2L458.7,170.6L458.0,170.0L457.4,169.3L456.8,168.6L456.3,167.8L455.8,167.0L455.3,166.2L454.9,165.4L454.5,164.5L454.2,163.7L454.0,162.9L453.7,162.0L453.6,161.2L453.5,160.4L453.4,159.6L453.5,158.9L453.5,158.2L453.7,157.6L453.8,157.0L454.1,156.5L454.4,156.0L454.7,155.6L455.1,155.3L455.5,155.1L455.9,154.9L456.4,154.8L456.9,154.8L457.4,154.9L458.0,155.1L458.5,155.3L459.1,155.7L459.7,156.1L460.2,156.6L460.8,157.1L461.3,157.8L461.9,158.4L462.4,159.2L462.9,160.0L463.3,160.9L463.7,161.8L464.1,162.7L464.4,163.7L464.7,164.7L464.9,165.7L465.1,166.7L465.2,167.8L465.3,168.8L465.3,169.8L465.2,170.8L465.1,171.7L464.9,172.7L464.7,173.5L464.4,174.4L464.0,175.1L463.6,175.9L463.1,176.5L462.6,177.1L462.0,177.6L461.4,178.0L460.7,178.3L460.0,178.6L459.3,178.7L458.5,178.8L457.7,178.8L456.9,178.7L456.1,178.5L455.3,178.2L454.5,177.9L453.7,177.4L452.9,176.9L452.1,176.3L451.3,175.6L450.6,174.9L449.9,174.1L449.2,173.3L448.6,172.4L448.0,171.5L447.4,170.5L447.0,169.6L446.5,168.6L446.2,167.6L445.9,166.6L445.6,165.6L445.4,164.7L445.3,163.7L445.3,162.8L445.3,162.0L445.4,161.1L445.5,160.4L445.7,159.7L446.0,159.1L446.3,158.5L446.7,158.0L447.1,157.6L447.6,157.3L448.1,157.1L448.7,157.0L449.3,157.0L449.9,157.0L450.5,157.2L451.2,157.4L451.9,157.8L452.5,158.2L453.2,158.8L453.9,159.4L454.5,160.1L455.2,160.8L455.8,161.7L456.3,162.6L456.9,163.6L457.4,164.6L457.8,165.7L458.2,166.8L458.6,167.9L458.9,169.0L459.1,170.2L459.3,171.4L459.4,172.6L459.4,173.7L459.4,174.8L459.3,175.9L459.1,177.0L458.8,178.0L458.5,179.0L458.1,179.9L457.7,180.7L457.2,181.4L456.6,182.1L456.0,182.7L455.3,183.2L454.5,183.6L453.8,183.9L453.0,184.1L452.1,184.2L451.2,184.2L450.3,184.1L449.4,183.9L448.5,183.6L447.6,183.2L446.7,182.7L445.8,182.1L444.9,181.5L444.0,180.7L443.2,179.9L442.4,179.0L441.6,178.1L440.9,177.1L440.2,176.0L439.6,175.0L439.1,173.8L438.6,172.7L438.1,171.6L437.8,170.4L437.5,169.3L437.3,168.2L437.2,167.1L437.1,166.1L437.1,165.1L437.2,164.1L437.4,163.3L437.6,162.4L437.9,161.7L438.3,161.0L438.7,160.5L439.2,160.0L439.7,159.6" fill="none" stroke="#ffffff" stroke-width="18"/></g>
<g filter="url(#blur4)"><path d="M497.1,133.5 L431.0,155.2 L452.2,194.9 L507.0,152.0Z" fill="#fff"/><path d="M494.0,144.2L494.0,144.2L494.0,144.2L494.0,144.2L494.1,144.2L494.1,144.3L494.2,144.4L494.2,144.5L494.3,144.6L494.3,144.7L494.4,144.8L494.5,145.0L494.5,145.2L494.6,145.4L494.6,145.6L494.7,145.9L494.7,146.1L494.8,146.4L494.8,146.7L494.8,146.9L494.8,147.2L494.8,147.5L494.8,147.9L494.7,148.2L494.7,148.5L494.6,148.8L494.5,149.1L494.4,149.4L494.3,149.7L494.2,150.0L494.0,150.2L493.9,150.5L493.7,150.7L493.5,150.9L493.3,151.1L493.0,151.3L492.8,151.5L492.5,151.6L492.3,151.7L492.0,151.8L491.7,151.9L491.4,151.9L491.1,151.9L490.8,151.9L490.5,151.9L490.2,151.8L489.9,151.7L489.6,151.6L489.3,151.5L489.0,151.3L488.7,151.1L488.4,150.9L488.1,150.7L487.8,150.5L487.6,150.3L487.4,150.0L487.1,149.7L486.9,149.5L486.7,149.2L486.6,148.9L486.4,148.6L486.3,148.4L486.2,148.1L486.1,147.9L486.1,147.6L486.0,147.4L486.0,147.2L486.0,147.0L486.0,146.8L486.1,146.7L486.1,146.5L486.2,146.4L486.3,146.4L486.4,146.3L486.5,146.3L486.6,146.4L486.8,146.4L486.9,146.5L487.1,146.6L487.2,146.8L487.4,147.0L487.6,147.2L487.7,147.4L487.9,147.7L488.0,148.0L488.2,148.3L488.3,148.7L488.5,149.0L488.6,149.4L488.7,149.8L488.7,150.3L488.8,150.7L488.8,151.1L488.9,151.6L488.9,152.0L488.8,152.5L488.8,152.9L488.7,153.4L488.6,153.8L488.5,154.2L488.3,154.6L488.1,155.0L487.9,155.4L487.7,155.7L487.4,156.0L487.2,156.3L486.9,156.6L486.6,156.8L486.2,156.9L485.9,157.1L485.5,157.2L485.1,157.3L484.7,157.3L484.3,157.3L483.9,157.2L483.5,157.2L483.1,157.0L482.7,156.9L482.3,156.7L481.9,156.5L481.5,156.2L481.1,155.9L480.7,155.6L480.4,155.3L480.0,154.9L479.7,154.5L479.4,154.1L479.1,153.7L478.9,153.3L478.7,152.9L478.5,152.5L478.3,152.1L478.2,151.7L478.0,151.3L478.0,150.9L477.9,150.5L477.9,150.2L477.9,149.8L477.9,149.5L478.0,149.3L478.1,149.0L478.2,148.9L478.4,148.7L478.5,148.6L478.7,148.5L478.9,148.5L479.1,148.5L479.4,148.5L479.6,148.6L479.9,148.8L480.2,148.9L480.4,149.2L480.7,149.4L480.9,149.8L481.2,150.1L481.5,150.5L481.7,150.9L481.9,151.4L482.1,151.9L482.3,152.4L482.5,152.9L482.6,153.5L482.8,154.1L482.8,154.7L482.9,155.2L482.9,155.8L482.9,156.4L482.9,157.0L482.8,157.6L482.7,158.2L482.6,158.7L482.4,159.2L482.2,159.7L482.0,160.2L481.7,160.7L481.4,161.1L481.1,161.4L480.7,161.7L480.4,162.0L479.9,162.2L479.5,162.4L479.1,162.6L478.6,162.6L478.1,162.7L477.6,162.7L477.1,162.6L476.6,162.5L476.1,162.3L475.6,162.1L475.0,161.8L474.5,161.5L474.1,161.2L473.6,160.8L473.1,160.3L472.7,159.9L472.3,159.4L471.9,158.9L471.5,158.4L471.2,157.8L470.9,157.3L470.6,156.7L470.4,156.1L470.2,155.6L470.0,155.0L469.9,154.5L469.8,154.0L469.8,153.5L469.8,153.0L469.8,152.6L469.9,152.2L470.0,151.8L470.1,151.5L470.3,151.2L470.5,151.0L470.8,150.8L471.0,150.7L471.3,150.6L471.6,150.6L471.9,150.6L472.3,150.7L472.6,150.9L473.0,151.1L473.4,151.4L473.7,151.7L474.1,152.1L474.5,152.5L474.8,153.0L475.1,153.5L475.5,154.1L475.8,154.7L476.0,155.3L476.3,156.0L476.5,156.7L476.7,157.4L476.8,158.1L476.9,158.8L477.0,159.6L477.1,160.3L477.0,161.0L477.0,161.7L476.9,162.5L476.8,163.1L476.6,163.8L476.4,164.4L476.1,165.0L475.8,165.5L475.5,166.0L475.1,166.5L474.6,166.9L474.2,167.2L473.7,167.5L473.2,167.7L472.7,167.9L472.1,168.0L471.5,168.1L470.9,168.0L470.3,167.9L469.7,167.8L469.1,167.6L468.5,167.3L467.9,167.0L467.3,166.6L466.7,166.2L466.1,165.7L465.6,165.1L465.0,164.6L464.5,164.0L464.1,163.3L463.6,162.7L463.2,162.0L462.9,161.3L462.6,160.6L462.3,159.9L462.1,159.2L461.9,158.5L461.7,157.8L461.7,157.2L461.6,156.5L461.6,155.9L461.7,155.4L461.8,154.8L461.9,154.4L462.1,154.0L462.3,153.6L462.6,153.3L462.9,153.0L463.3,152.9L463.6,152.8L464.0,152.7L464.4,152.7L464.9,152.8L465.3,153.0L465.8,153.2L466.3,153.5L466.7,153.9L467.2,154.3L467.7,154.8L468.1,155.4L468.5,156.0L468.9,156.7L469.3,157.4L469.7,158.1L470.0,158.9L470.3,159.7L470.6,160.6L470.8,161.4L471.0,162.3L471.1,163.2L471.1,164.1L471.2,165.0L471.1,165.8L471.1,166.7L470.9,167.5L470.7,168.3L470.5,169.0L470.2,169.7L469.9,170.4L469.5,171.0L469.1,171.5L468.6,172.0L468.1,172.4L467.5,172.8L466.9,173.1L466.3,173.3L465.7,173.4L465.0,173.4L464.3,173.4L463.6,173.3L462.9,173.1L462.2,172.9L461.5,172.6L460.7,172.2L460.0,171.7L459.4,171.2L458.7,170.6L458.0,170.0L457.4,169.3L456.8,168.6L456.3,167.8L455.8,167.0L455.3,166.2L454.9,165.4L454.5,164.5L454.2,163.7L454.0,162.9L453.7,162.0L453.6,161.2L453.5,160.4L453.4,159.6L453.5,158.9L453.5,158.2L453.7,157.6L453.8,157.0L454.1,156.5L454.4,156.0L454.7,155.6L455.1,155.3L455.5,155.1L455.9,154.9L456.4,154.8L456.9,154.8L457.4,154.9L458.0,155.1L458.5,155.3L459.1,155.7L459.7,156.1L460.2,156.6L460.8,157.1L461.3,157.8L461.9,158.4L462.4,159.2L462.9,160.0L463.3,160.9L463.7,161.8L464.1,162.7L464.4,163.7L464.7,164.7L464.9,165.7L465.1,166.7L465.2,167.8L465.3,168.8L465.3,169.8L465.2,170.8L465.1,171.7L464.9,172.7L464.7,173.5L464.4,174.4L464.0,175.1L463.6,175.9L463.1,176.5L462.6,177.1L462.0,177.6L461.4,178.0L460.7,178.3L460.0,178.6L459.3,178.7L458.5,178.8L457.7,178.8L456.9,178.7L456.1,178.5L455.3,178.2L454.5,177.9L453.7,177.4L452.9,176.9L452.1,176.3L451.3,175.6L450.6,174.9L449.9,174.1L449.2,173.3L448.6,172.4L448.0,171.5L447.4,170.5L447.0,169.6L446.5,168.6L446.2,167.6L445.9,166.6L445.6,165.6L445.4,164.7L445.3,163.7L445.3,162.8L445.3,162.0L445.4,161.1L445.5,160.4L445.7,159.7L446.0,159.1L446.3,158.5L446.7,158.0L447.1,157.6L447.6,157.3L448.1,157.1L448.7,157.0L449.3,157.0L449.9,157.0L450.5,157.2L451.2,157.4L451.9,157.8L452.5,158.2L453.2,158.8L453.9,159.4L454.5,160.1L455.2,160.8L455.8,161.7L456.3,162.6L456.9,163.6L457.4,164.6L457.8,165.7L458.2,166.8L458.6,167.9L458.9,169.0L459.1,170.2L459.3,171.4L459.4,172.6L459.4,173.7L459.4,174.8L459.3,175.9L459.1,177.0L458.8,178.0L458.5,179.0L458.1,179.9L457.7,180.7L457.2,181.4L456.6,182.1L456.0,182.7L455.3,183.2L454.5,183.6L453.8,183.9L453.0,184.1L452.1,184.2L451.2,184.2L450.3,184.1L449.4,183.9L448.5,183.6L447.6,183.2L446.7,182.7L445.8,182.1L444.9,181.5L444.0,180.7L443.2,179.9L442.4,179.0L441.6,178.1L440.9,177.1L440.2,176.0L439.6,175.0L439.1,173.8L438.6,172.7L438.1,171.6L437.8,170.4L437.5,169.3L437.3,168.2L437.2,167.1L437.1,166.1L437.1,165.1L437.2,164.1L437.4,163.3L437.6,162.4L437.9,161.7L438.3,161.0L438.7,160.5L439.2,160.0L439.7,159.6" fill="none" stroke="#fff" stroke-width="18"/></g>
<path d="M497.3,72.8L497.1,72.7L496.9,72.6L496.7,72.4L496.5,72.3L496.2,72.3L495.9,72.2L495.7,72.1L495.4,72.1L495.1,72.1L494.8,72.1L494.5,72.1L494.2,72.2L493.9,72.2L493.6,72.3L493.3,72.4L493.0,72.5L492.7,72.6L492.4,72.7L492.1,72.8L491.8,73.0L491.6,73.1L491.3,73.3L491.1,73.5L490.9,73.6L490.7,73.8L490.5,74.0L490.3,74.1L490.2,74.3L490.1,74.5L490.0,74.6L489.9,74.7L489.9,74.9L489.9,75.0L489.8,75.1L489.9,75.2L489.9,75.2L490.0,75.3L490.0,75.3L490.1,75.3L490.3,75.3L490.4,75.2L490.5,75.2L490.7,75.1L490.9,75.0L491.1,74.8L491.2,74.7L491.4,74.5L491.6,74.3L491.8,74.0L492.0,73.8L492.2,73.5L492.4,73.3L492.6,73.0L492.7,72.6L492.9,72.3L493.0,72.0L493.1,71.6L493.2,71.3L493.3,70.9L493.3,70.6L493.4,70.2L493.4,69.9L493.3,69.5L493.3,69.2L493.2,68.9L493.1,68.5L493.0,68.2L492.8,68.0L492.6,67.7L492.4,67.4L492.1,67.2L491.8,67.0L491.5,66.8L491.2,66.7L490.9,66.6L490.5,66.5L490.1,66.4L489.7,66.4L489.3,66.4L488.8,66.4L488.4,66.4L487.9,66.5L487.5,66.6L487.0,66.8L486.6,66.9L486.1,67.1L485.7,67.3L485.3,67.6L484.9,67.8L484.5,68.1L484.1,68.4L483.7,68.6L483.4,68.9L483.1,69.2L482.8,69.6L482.5,69.9L482.3,70.2L482.1,70.5L481.9,70.8L481.8,71.0L481.7,71.3L481.7,71.5L481.7,71.8L481.7,72.0L481.7,72.2L481.8,72.3L481.9,72.4L482.1,72.5L482.3,72.6L482.5,72.6L482.7,72.6L482.9,72.6L483.2,72.5L483.5,72.4L483.8,72.3L484.1,72.1L484.5,71.9L484.8,71.7L485.2,71.4L485.5,71.1L485.8,70.7L486.2,70.4L486.5,70.0L486.8,69.6L487.1,69.1L487.3,68.7L487.6,68.2L487.8,67.7L488.0,67.2L488.1,66.7L488.2,66.2L488.3,65.7L488.4,65.3L488.4,64.8L488.3,64.3L488.3,63.9L488.2,63.4L488.0,63.0L487.8,62.6L487.6,62.3L487.3,61.9L487.0,61.6L486.6,61.4L486.2,61.1L485.8,61.0L485.3,60.8L484.8,60.7L484.3,60.6L483.8,60.6L483.2,60.6L482.7,60.7L482.1,60.8L481.5,60.9L480.9,61.1L480.3,61.3L479.7,61.5L479.1,61.8L478.5,62.1L477.9,62.5L477.4,62.8L476.9,63.2L476.4,63.6L475.9,64.1L475.5,64.5L475.1,64.9L474.7,65.4L474.4,65.8L474.1,66.3L473.9,66.7L473.7,67.1L473.6,67.5L473.5,67.9L473.4,68.3L473.4,68.6L473.5,68.9L473.6,69.2L473.7,69.5L473.9,69.7L474.1,69.8L474.4,69.9L474.7,70.0L475.0,70.0L475.4,70.0L475.8,69.9L476.2,69.8L476.7,69.7L477.2,69.4L477.6,69.2L478.1,68.9L478.6,68.5L479.1,68.1L479.6,67.7L480.0,67.3L480.5,66.8L480.9,66.2L481.3,65.7L481.7,65.1L482.1,64.5L482.4,63.9L482.7,63.2L482.9,62.6L483.1,62.0L483.3,61.3L483.4,60.7L483.4,60.1L483.4,59.5L483.3,58.9L483.2,58.4L483.1,57.8L482.8,57.3L482.6,56.9L482.2,56.5L481.8,56.1L481.4,55.8L480.9,55.5L480.4,55.2L479.9,55.0L479.3,54.9L478.6,54.8L478.0,54.8L477.3,54.8L476.6,54.9L475.8,55.1L475.1,55.2L474.3,55.5L473.6,55.8L472.9,56.1L472.1,56.5L471.4,56.9L470.7,57.3L470.0,57.8L469.4,58.3L468.7,58.9L468.2,59.4L467.6,60.0L467.1,60.6L466.7,61.1L466.3,61.7L466.0,62.3L465.7,62.9L465.5,63.4L465.3,64.0L465.2,64.5L465.1,65.0L465.2,65.4L465.2,65.8L465.4,66.2L465.6,66.5L465.8,66.8L466.1,67.0L466.5,67.2L466.9,67.3L467.3,67.4L467.8,67.4L468.3,67.3L468.9,67.2L469.5,67.0L470.1,66.8L470.7,66.5L471.3,66.1L472.0,65.7L472.6,65.3L473.2,64.8L473.8,64.2L474.4,63.6L475.0,63.0L475.6,62.3L476.1,61.6L476.5,60.9L477.0,60.1L477.4,59.3L477.7,58.6L478.0,57.8L478.2,57.0L478.3,56.3L478.4,55.5L478.4,54.8L478.4,54.1L478.3,53.4L478.1,52.7L477.9,52.1L477.6,51.6L477.2,51.1L476.8,50.6L476.3,50.2L475.7,49.8L475.1,49.5L474.4,49.3L473.7,49.1L473.0,49.0L472.2,49.0L471.4,49.0L470.5,49.1L469.7,49.3L468.8,49.5L467.9,49.8L467.0,50.2L466.1,50.6L465.2,51.0L464.4,51.6L463.5,52.1L462.7,52.7L461.9,53.3L461.2,54.0L460.5,54.7L459.8,55.4L459.2,56.1L458.7,56.8L458.2,57.5L457.8,58.3L457.5,59.0L457.2,59.7L457.0,60.3L456.9,61.0L456.9,61.6L456.9,62.2L457.0,62.7L457.1,63.2L457.4,63.6L457.7,63.9L458.1,64.2L458.5,64.5L459.0,64.6L459.6,64.7L460.2,64.8L460.8,64.7L461.5,64.6L462.2,64.4L462.9,64.2L463.7,63.8L464.5,63.4L465.2,63.0L466.0,62.4L466.8,61.9L467.6,61.2L468.3,60.5L469.0,59.8L469.7,59.0L470.3,58.2L470.9,57.3L471.5,56.4L472.0,55.5L472.4,54.6L472.8,53.7L473.0,52.8L473.3,51.9L473.4,51.0L473.5,50.1L473.5,49.3L473.4,48.5L473.2,47.7L473.0,47.0L472.6,46.3L472.2,45.7L471.7,45.1L471.2,44.6L470.5,44.2L469.9,43.9L469.1,43.6L468.3,43.4L467.4,43.3L466.5,43.2L465.6,43.2L464.6,43.4L463.6,43.5L462.6,43.8L461.5,44.1L460.5,44.6L459.4,45.0L458.4,45.6L457.4,46.2L456.4,46.8L455.5,47.5L454.6,48.3L453.7,49.1L452.9,49.9L452.1,50.7L451.4,51.6L450.8,52.4L450.2,53.3L449.7,54.1L449.3,55.0L449.0,55.8L448.8,56.6L448.6,57.4L448.6,58.1L448.6,58.8L448.7,59.5L448.9,60.1L449.2,60.6L449.5,61.0L450.0,61.4L450.5,61.7L451.1,61.9L451.7,62.1L452.4,62.2L453.2,62.1L454.0,62.0L454.8,61.8L455.7,61.6L456.6,61.2L457.5,60.8L458.4,60.2L459.4,59.7L460.3,59.0L461.2,58.3L462.1,57.5L462.9,56.6L463.8,55.7L464.5,54.8L465.3,53.8L465.9,52.8L466.5,51.8L467.1,50.7L467.5,49.7L467.9,48.6L468.2,47.6L468.4,46.5L468.5,45.5L468.5,44.6L468.5,43.6L468.3,42.7L468.0,41.9L467.7,41.1L467.3,40.4L466.7,39.7L466.1,39.1L465.4,38.6L464.7,38.2L463.8,37.9L462.9,37.6L461.9,37.5L460.9,37.4L459.8,37.4L458.7,37.6L457.6,37.8L456.4,38.1L455.2,38.4L454.1,38.9L452.9,39.4L451.7,40.0L450.5,40.7L449.4,41.5L448.3,42.3L447.3,43.1L446.3,44.0L445.3,45.0L444.4,45.9L443.6,46.9L442.9,47.9L442.2,48.9L441.7,49.9L441.2,50.9L440.8,51.9L440.5,52.9L440.4,53.8L440.3,54.6L440.3,55.4L440.4,56.2L440.6,56.9L440.9,57.5L441.3,58.1L441.8,58.5L442.4,58.9L443.1,59.2L443.8,59.4L444.6,59.5L445.5,59.5L446.4,59.4L447.4,59.2L448.4,59.0L449.4,58.6L450.5,58.1L451.5,57.6L452.6,56.9L453.7,56.2L454.7,55.4L455.8,54.5L456.8,53.6L457.7,52.6L458.7,51.5L459.5,50.4L460.3,49.3L461.0,48.1L461.7,46.9L462.2,45.7L462.7,44.5L463.1,43.3L463.3,42.2L463.5,41.0L463.6,39.9L463.5,38.8L463.4,37.8L463.1,36.8L462.8,35.9L462.3,35.1L461.8,34.4L461.1,33.7L460.4,33.1" fill="none" stroke="#5a5400" stroke-width="3.4" stroke-linejoin="round" stroke-linecap="round"/>
<path d="M497.3,72.8L497.1,72.7L496.9,72.6L496.7,72.4L496.5,72.3L496.2,72.3L495.9,72.2L495.7,72.1L495.4,72.1L495.1,72.1L494.8,72.1L494.5,72.1L494.2,72.2L493.9,72.2L493.6,72.3L493.3,72.4L493.0,72.5L492.7,72.6L492.4,72.7L492.1,72.8L491.8,73.0L491.6,73.1L491.3,73.3L491.1,73.5L490.9,73.6L490.7,73.8L490.5,74.0L490.3,74.1L490.2,74.3L490.1,74.5L490.0,74.6L489.9,74.7L489.9,74.9L489.9,75.0L489.8,75.1L489.9,75.2L489.9,75.2L490.0,75.3L490.0,75.3L490.1,75.3L490.3,75.3L490.4,75.2L490.5,75.2L490.7,75.1L490.9,75.0L491.1,74.8L491.2,74.7L491.4,74.5L491.6,74.3L491.8,74.0L492.0,73.8L492.2,73.5L492.4,73.3L492.6,73.0L492.7,72.6L492.9,72.3L493.0,72.0L493.1,71.6L493.2,71.3L493.3,70.9L493.3,70.6L493.4,70.2L493.4,69.9L493.3,69.5L493.3,69.2L493.2,68.9L493.1,68.5L493.0,68.2L492.8,68.0L492.6,67.7L492.4,67.4L492.1,67.2L491.8,67.0L491.5,66.8L491.2,66.7L490.9,66.6L490.5,66.5L490.1,66.4L489.7,66.4L489.3,66.4L488.8,66.4L488.4,66.4L487.9,66.5L487.5,66.6L487.0,66.8L486.6,66.9L486.1,67.1L485.7,67.3L485.3,67.6L484.9,67.8L484.5,68.1L484.1,68.4L483.7,68.6L483.4,68.9L483.1,69.2L482.8,69.6L482.5,69.9L482.3,70.2L482.1,70.5L481.9,70.8L481.8,71.0L481.7,71.3L481.7,71.5L481.7,71.8L481.7,72.0L481.7,72.2L481.8,72.3L481.9,72.4L482.1,72.5L482.3,72.6L482.5,72.6L482.7,72.6L482.9,72.6L483.2,72.5L483.5,72.4L483.8,72.3L484.1,72.1L484.5,71.9L484.8,71.7L485.2,71.4L485.5,71.1L485.8,70.7L486.2,70.4L486.5,70.0L486.8,69.6L487.1,69.1L487.3,68.7L487.6,68.2L487.8,67.7L488.0,67.2L488.1,66.7L488.2,66.2L488.3,65.7L488.4,65.3L488.4,64.8L488.3,64.3L488.3,63.9L488.2,63.4L488.0,63.0L487.8,62.6L487.6,62.3L487.3,61.9L487.0,61.6L486.6,61.4L486.2,61.1L485.8,61.0L485.3,60.8L484.8,60.7L484.3,60.6L483.8,60.6L483.2,60.6L482.7,60.7L482.1,60.8L481.5,60.9L480.9,61.1L480.3,61.3L479.7,61.5L479.1,61.8L478.5,62.1L477.9,62.5L477.4,62.8L476.9,63.2L476.4,63.6L475.9,64.1L475.5,64.5L475.1,64.9L474.7,65.4L474.4,65.8L474.1,66.3L473.9,66.7L473.7,67.1L473.6,67.5L473.5,67.9L473.4,68.3L473.4,68.6L473.5,68.9L473.6,69.2L473.7,69.5L473.9,69.7L474.1,69.8L474.4,69.9L474.7,70.0L475.0,70.0L475.4,70.0L475.8,69.9L476.2,69.8L476.7,69.7L477.2,69.4L477.6,69.2L478.1,68.9L478.6,68.5L479.1,68.1L479.6,67.7L480.0,67.3L480.5,66.8L480.9,66.2L481.3,65.7L481.7,65.1L482.1,64.5L482.4,63.9L482.7,63.2L482.9,62.6L483.1,62.0L483.3,61.3L483.4,60.7L483.4,60.1L483.4,59.5L483.3,58.9L483.2,58.4L483.1,57.8L482.8,57.3L482.6,56.9L482.2,56.5L481.8,56.1L481.4,55.8L480.9,55.5L480.4,55.2L479.9,55.0L479.3,54.9L478.6,54.8L478.0,54.8L477.3,54.8L476.6,54.9L475.8,55.1L475.1,55.2L474.3,55.5L473.6,55.8L472.9,56.1L472.1,56.5L471.4,56.9L470.7,57.3L470.0,57.8L469.4,58.3L468.7,58.9L468.2,59.4L467.6,60.0L467.1,60.6L466.7,61.1L466.3,61.7L466.0,62.3L465.7,62.9L465.5,63.4L465.3,64.0L465.2,64.5L465.1,65.0L465.2,65.4L465.2,65.8L465.4,66.2L465.6,66.5L465.8,66.8L466.1,67.0L466.5,67.2L466.9,67.3L467.3,67.4L467.8,67.4L468.3,67.3L468.9,67.2L469.5,67.0L470.1,66.8L470.7,66.5L471.3,66.1L472.0,65.7L472.6,65.3L473.2,64.8L473.8,64.2L474.4,63.6L475.0,63.0L475.6,62.3L476.1,61.6L476.5,60.9L477.0,60.1L477.4,59.3L477.7,58.6L478.0,57.8L478.2,57.0L478.3,56.3L478.4,55.5L478.4,54.8L478.4,54.1L478.3,53.4L478.1,52.7L477.9,52.1L477.6,51.6L477.2,51.1L476.8,50.6L476.3,50.2L475.7,49.8L475.1,49.5L474.4,49.3L473.7,49.1L473.0,49.0L472.2,49.0L471.4,49.0L470.5,49.1L469.7,49.3L468.8,49.5L467.9,49.8L467.0,50.2L466.1,50.6L465.2,51.0L464.4,51.6L463.5,52.1L462.7,52.7L461.9,53.3L461.2,54.0L460.5,54.7L459.8,55.4L459.2,56.1L458.7,56.8L458.2,57.5L457.8,58.3L457.5,59.0L457.2,59.7L457.0,60.3L456.9,61.0L456.9,61.6L456.9,62.2L457.0,62.7L457.1,63.2L457.4,63.6L457.7,63.9L458.1,64.2L458.5,64.5L459.0,64.6L459.6,64.7L460.2,64.8L460.8,64.7L461.5,64.6L462.2,64.4L462.9,64.2L463.7,63.8L464.5,63.4L465.2,63.0L466.0,62.4L466.8,61.9L467.6,61.2L468.3,60.5L469.0,59.8L469.7,59.0L470.3,58.2L470.9,57.3L471.5,56.4L472.0,55.5L472.4,54.6L472.8,53.7L473.0,52.8L473.3,51.9L473.4,51.0L473.5,50.1L473.5,49.3L473.4,48.5L473.2,47.7L473.0,47.0L472.6,46.3L472.2,45.7L471.7,45.1L471.2,44.6L470.5,44.2L469.9,43.9L469.1,43.6L468.3,43.4L467.4,43.3L466.5,43.2L465.6,43.2L464.6,43.4L463.6,43.5L462.6,43.8L461.5,44.1L460.5,44.6L459.4,45.0L458.4,45.6L457.4,46.2L456.4,46.8L455.5,47.5L454.6,48.3L453.7,49.1L452.9,49.9L452.1,50.7L451.4,51.6L450.8,52.4L450.2,53.3L449.7,54.1L449.3,55.0L449.0,55.8L448.8,56.6L448.6,57.4L448.6,58.1L448.6,58.8L448.7,59.5L448.9,60.1L449.2,60.6L449.5,61.0L450.0,61.4L450.5,61.7L451.1,61.9L451.7,62.1L452.4,62.2L453.2,62.1L454.0,62.0L454.8,61.8L455.7,61.6L456.6,61.2L457.5,60.8L458.4,60.2L459.4,59.7L460.3,59.0L461.2,58.3L462.1,57.5L462.9,56.6L463.8,55.7L464.5,54.8L465.3,53.8L465.9,52.8L466.5,51.8L467.1,50.7L467.5,49.7L467.9,48.6L468.2,47.6L468.4,46.5L468.5,45.5L468.5,44.6L468.5,43.6L468.3,42.7L468.0,41.9L467.7,41.1L467.3,40.4L466.7,39.7L466.1,39.1L465.4,38.6L464.7,38.2L463.8,37.9L462.9,37.6L461.9,37.5L460.9,37.4L459.8,37.4L458.7,37.6L457.6,37.8L456.4,38.1L455.2,38.4L454.1,38.9L452.9,39.4L451.7,40.0L450.5,40.7L449.4,41.5L448.3,42.3L447.3,43.1L446.3,44.0L445.3,45.0L444.4,45.9L443.6,46.9L442.9,47.9L442.2,48.9L441.7,49.9L441.2,50.9L440.8,51.9L440.5,52.9L440.4,53.8L440.3,54.6L440.3,55.4L440.4,56.2L440.6,56.9L440.9,57.5L441.3,58.1L441.8,58.5L442.4,58.9L443.1,59.2L443.8,59.4L444.6,59.5L445.5,59.5L446.4,59.4L447.4,59.2L448.4,59.0L449.4,58.6L450.5,58.1L451.5,57.6L452.6,56.9L453.7,56.2L454.7,55.4L455.8,54.5L456.8,53.6L457.7,52.6L458.7,51.5L459.5,50.4L460.3,49.3L461.0,48.1L461.7,46.9L462.2,45.7L462.7,44.5L463.1,43.3L463.3,42.2L463.5,41.0L463.6,39.9L463.5,38.8L463.4,37.8L463.1,36.8L462.8,35.9L462.3,35.1L461.8,34.4L461.1,33.7L460.4,33.1" fill="none" stroke="#f4ee14" stroke-width="2.2" stroke-linejoin="round" stroke-linecap="round"/>
<path d="M620.7,74.6L620.9,74.5L621.1,74.3L621.2,74.1L621.4,74.0L621.5,73.7L621.7,73.5L621.8,73.3L621.9,73.0L622.0,72.8L622.1,72.5L622.1,72.2L622.2,71.9L622.2,71.6L622.2,71.3L622.2,71.0L622.2,70.7L622.2,70.4L622.1,70.1L622.1,69.8L622.0,69.5L621.9,69.2L621.8,68.9L621.7,68.7L621.6,68.4L621.5,68.2L621.4,68.0L621.2,67.8L621.1,67.6L621.0,67.5L620.9,67.4L620.7,67.3L620.6,67.2L620.5,67.1L620.4,67.1L620.3,67.1L620.3,67.1L620.2,67.2L620.1,67.2L620.1,67.3L620.1,67.5L620.1,67.6L620.1,67.8L620.2,67.9L620.2,68.1L620.3,68.3L620.4,68.6L620.5,68.8L620.7,69.0L620.8,69.3L621.0,69.5L621.2,69.8L621.5,70.0L621.7,70.3L622.0,70.5L622.2,70.8L622.5,71.0L622.8,71.2L623.2,71.4L623.5,71.5L623.8,71.7L624.2,71.8L624.5,71.9L624.9,72.0L625.2,72.0L625.6,72.1L625.9,72.0L626.3,72.0L626.6,71.9L626.9,71.8L627.2,71.7L627.5,71.5L627.8,71.3L628.0,71.1L628.3,70.8L628.5,70.5L628.7,70.2L628.9,69.8L629.0,69.5L629.1,69.1L629.2,68.7L629.3,68.2L629.3,67.8L629.3,67.3L629.3,66.9L629.3,66.4L629.2,65.9L629.1,65.5L629.0,65.0L628.9,64.6L628.7,64.1L628.6,63.7L628.4,63.3L628.2,62.9L627.9,62.5L627.7,62.1L627.5,61.8L627.2,61.5L627.0,61.3L626.7,61.0L626.5,60.8L626.2,60.7L626.0,60.6L625.8,60.5L625.5,60.5L625.3,60.5L625.2,60.5L625.0,60.6L624.8,60.7L624.7,60.8L624.6,61.0L624.6,61.3L624.5,61.5L624.5,61.8L624.5,62.1L624.6,62.4L624.7,62.8L624.8,63.2L624.9,63.6L625.1,64.0L625.3,64.4L625.6,64.8L625.8,65.2L626.1,65.6L626.4,66.0L626.8,66.4L627.2,66.8L627.6,67.1L628.0,67.5L628.4,67.8L628.9,68.1L629.3,68.3L629.8,68.5L630.3,68.7L630.8,68.9L631.2,69.0L631.7,69.0L632.2,69.0L632.6,69.0L633.1,68.9L633.5,68.8L633.9,68.6L634.3,68.4L634.6,68.2L635.0,67.9L635.3,67.5L635.6,67.1L635.8,66.7L636.0,66.2L636.2,65.7L636.3,65.2L636.4,64.6L636.5,64.1L636.5,63.5L636.5,62.9L636.5,62.2L636.4,61.6L636.3,61.0L636.1,60.4L635.9,59.7L635.7,59.1L635.5,58.5L635.2,57.9L634.9,57.4L634.6,56.9L634.2,56.4L633.9,55.9L633.5,55.5L633.1,55.1L632.8,54.8L632.4,54.5L632.0,54.2L631.7,54.0L631.3,53.9L630.9,53.8L630.6,53.8L630.3,53.8L630.0,53.9L629.8,54.0L629.5,54.2L629.3,54.4L629.2,54.7L629.1,55.0L629.0,55.4L628.9,55.8L628.9,56.2L628.9,56.7L629.0,57.2L629.1,57.7L629.3,58.2L629.5,58.8L629.8,59.4L630.0,59.9L630.4,60.5L630.7,61.1L631.2,61.7L631.6,62.2L632.1,62.7L632.6,63.2L633.1,63.7L633.6,64.1L634.2,64.6L634.8,64.9L635.4,65.2L636.0,65.5L636.6,65.7L637.2,65.9L637.8,66.0L638.4,66.0L638.9,66.0L639.5,65.9L640.0,65.8L640.5,65.6L641.0,65.4L641.5,65.1L641.9,64.7L642.3,64.3L642.6,63.8L642.9,63.3L643.2,62.7L643.4,62.1L643.5,61.4L643.7,60.7L643.7,60.0L643.7,59.2L643.7,58.5L643.6,57.7L643.5,56.9L643.3,56.1L643.1,55.3L642.9,54.5L642.6,53.8L642.2,53.0L641.9,52.3L641.5,51.6L641.0,50.9L640.6,50.3L640.1,49.7L639.6,49.2L639.1,48.7L638.6,48.3L638.1,47.9L637.6,47.6L637.1,47.4L636.7,47.2L636.2,47.1L635.8,47.1L635.3,47.1L635.0,47.2L634.6,47.4L634.3,47.6L634.0,47.9L633.8,48.2L633.6,48.7L633.4,49.1L633.3,49.6L633.3,50.2L633.3,50.8L633.4,51.5L633.5,52.1L633.7,52.8L633.9,53.5L634.2,54.3L634.5,55.0L634.9,55.7L635.3,56.5L635.8,57.2L636.3,57.9L636.9,58.6L637.5,59.2L638.1,59.9L638.8,60.4L639.4,61.0L640.1,61.4L640.9,61.9L641.6,62.2L642.3,62.5L643.0,62.8L643.8,62.9L644.5,63.0L645.2,63.0L645.8,63.0L646.5,62.8L647.1,62.6L647.7,62.3L648.2,62.0L648.8,61.6L649.2,61.1L649.6,60.5L650.0,59.9L650.3,59.2L650.6,58.5L650.7,57.7L650.9,56.9L651.0,56.0L651.0,55.1L650.9,54.2L650.8,53.2L650.7,52.3L650.4,51.3L650.2,50.4L649.9,49.4L649.5,48.5L649.1,47.6L648.6,46.7L648.1,45.9L647.6,45.1L647.0,44.3L646.4,43.6L645.8,43.0L645.2,42.4L644.6,41.9L644.0,41.4L643.3,41.1L642.7,40.8L642.1,40.6L641.5,40.4L641.0,40.4L640.4,40.4L639.9,40.5L639.5,40.7L639.1,41.0L638.7,41.4L638.4,41.8L638.1,42.3L637.9,42.8L637.8,43.5L637.7,44.1L637.7,44.9L637.7,45.7L637.8,46.5L638.0,47.3L638.3,48.2L638.6,49.1L638.9,50.0L639.4,50.9L639.9,51.8L640.4,52.7L641.0,53.5L641.7,54.4L642.3,55.2L643.1,55.9L643.8,56.7L644.6,57.3L645.4,57.9L646.3,58.4L647.1,58.9L648.0,59.3L648.8,59.6L649.7,59.8L650.5,60.0L651.3,60.0L652.1,60.0L652.9,59.9L653.6,59.7L654.3,59.4L655.0,59.0L655.6,58.5L656.1,57.9L656.6,57.3L657.0,56.6L657.4,55.8L657.7,55.0L657.9,54.1L658.1,53.1L658.2,52.1L658.2,51.1L658.2,50.0L658.0,48.9L657.8,47.8L657.6,46.7L657.3,45.5L656.9,44.4L656.4,43.3L655.9,42.3L655.4,41.2L654.8,40.2L654.2,39.3L653.5,38.4L652.8,37.6L652.1,36.8L651.3,36.1L650.6,35.5L649.8,35.0L649.1,34.5L648.3,34.2L647.6,33.9L646.9,33.7L646.2,33.7L645.6,33.7L645.0,33.8L644.4,34.0L643.9,34.4L643.4,34.8L643.0,35.3L642.7,35.8L642.4,36.5L642.2,37.2L642.1,38.0L642.1,38.9L642.1,39.8L642.2,40.7L642.4,41.7L642.6,42.7L643.0,43.8L643.4,44.9L643.8,45.9L644.4,47.0L645.0,48.0L645.6,49.1L646.4,50.1L647.1,51.0L648.0,51.9L648.8,52.8L649.7,53.6L650.7,54.3L651.6,55.0L652.6,55.5L653.6,56.0L654.5,56.4L655.5,56.7L656.5,56.9L657.4,57.0L658.3,57.0L659.2,56.9L660.1,56.7L660.9,56.4L661.6,56.0L662.3,55.4L663.0,54.8L663.5,54.1L664.1,53.3L664.5,52.5L664.8,51.5L665.1,50.5L665.3,49.4L665.4,48.3L665.4,47.1L665.4,45.9L665.3,44.6L665.0,43.4L664.8,42.1L664.4,40.8L664.0,39.5L663.4,38.3L662.9,37.0L662.2,35.8L661.6,34.7L660.8,33.6L660.1,32.5L659.3,31.6L658.4,30.7L657.6,29.9L656.7,29.2L655.8,28.5L654.9,28.0L654.1,27.6L653.2,27.3L652.4,27.1L651.6,27.0L650.8,27.0L650.1,27.1L649.4,27.3L648.8,27.7L648.2,28.1L647.7,28.7L647.3,29.3L647.0,30.1L646.7,30.9L646.6,31.8L646.5,32.8L646.5,33.8L646.5,34.9L646.7,36.0L647.0,37.2L647.3,38.4L647.7,39.6L648.2,40.9L648.8,42.1L649.5,43.3L650.2,44.5L651.0,45.7L651.9,46.8L652.8,47.9L653.8,48.9L654.8,49.8L655.8,50.7L656.9,51.4L658.0,52.1L659.1,52.7L660.2,53.2L661.3,53.6L662.4,53.8L663.5,54.0L664.5,54.0L665.5,53.9L666.5,53.7L667.4,53.4L668.3,53.0L669.1,52.4" fill="none" stroke="#7a0000" stroke-width="2.9" stroke-linejoin="round" stroke-linecap="round"/>
<path d="M620.7,74.6L620.9,74.5L621.1,74.3L621.2,74.1L621.4,74.0L621.5,73.7L621.7,73.5L621.8,73.3L621.9,73.0L622.0,72.8L622.1,72.5L622.1,72.2L622.2,71.9L622.2,71.6L622.2,71.3L622.2,71.0L622.2,70.7L622.2,70.4L622.1,70.1L622.1,69.8L622.0,69.5L621.9,69.2L621.8,68.9L621.7,68.7L621.6,68.4L621.5,68.2L621.4,68.0L621.2,67.8L621.1,67.6L621.0,67.5L620.9,67.4L620.7,67.3L620.6,67.2L620.5,67.1L620.4,67.1L620.3,67.1L620.3,67.1L620.2,67.2L620.1,67.2L620.1,67.3L620.1,67.5L620.1,67.6L620.1,67.8L620.2,67.9L620.2,68.1L620.3,68.3L620.4,68.6L620.5,68.8L620.7,69.0L620.8,69.3L621.0,69.5L621.2,69.8L621.5,70.0L621.7,70.3L622.0,70.5L622.2,70.8L622.5,71.0L622.8,71.2L623.2,71.4L623.5,71.5L623.8,71.7L624.2,71.8L624.5,71.9L624.9,72.0L625.2,72.0L625.6,72.1L625.9,72.0L626.3,72.0L626.6,71.9L626.9,71.8L627.2,71.7L627.5,71.5L627.8,71.3L628.0,71.1L628.3,70.8L628.5,70.5L628.7,70.2L628.9,69.8L629.0,69.5L629.1,69.1L629.2,68.7L629.3,68.2L629.3,67.8L629.3,67.3L629.3,66.9L629.3,66.4L629.2,65.9L629.1,65.5L629.0,65.0L628.9,64.6L628.7,64.1L628.6,63.7L628.4,63.3L628.2,62.9L627.9,62.5L627.7,62.1L627.5,61.8L627.2,61.5L627.0,61.3L626.7,61.0L626.5,60.8L626.2,60.7L626.0,60.6L625.8,60.5L625.5,60.5L625.3,60.5L625.2,60.5L625.0,60.6L624.8,60.7L624.7,60.8L624.6,61.0L624.6,61.3L624.5,61.5L624.5,61.8L624.5,62.1L624.6,62.4L624.7,62.8L624.8,63.2L624.9,63.6L625.1,64.0L625.3,64.4L625.6,64.8L625.8,65.2L626.1,65.6L626.4,66.0L626.8,66.4L627.2,66.8L627.6,67.1L628.0,67.5L628.4,67.8L628.9,68.1L629.3,68.3L629.8,68.5L630.3,68.7L630.8,68.9L631.2,69.0L631.7,69.0L632.2,69.0L632.6,69.0L633.1,68.9L633.5,68.8L633.9,68.6L634.3,68.4L634.6,68.2L635.0,67.9L635.3,67.5L635.6,67.1L635.8,66.7L636.0,66.2L636.2,65.7L636.3,65.2L636.4,64.6L636.5,64.1L636.5,63.5L636.5,62.9L636.5,62.2L636.4,61.6L636.3,61.0L636.1,60.4L635.9,59.7L635.7,59.1L635.5,58.5L635.2,57.9L634.9,57.4L634.6,56.9L634.2,56.4L633.9,55.9L633.5,55.5L633.1,55.1L632.8,54.8L632.4,54.5L632.0,54.2L631.7,54.0L631.3,53.9L630.9,53.8L630.6,53.8L630.3,53.8L630.0,53.9L629.8,54.0L629.5,54.2L629.3,54.4L629.2,54.7L629.1,55.0L629.0,55.4L628.9,55.8L628.9,56.2L628.9,56.7L629.0,57.2L629.1,57.7L629.3,58.2L629.5,58.8L629.8,59.4L630.0,59.9L630.4,60.5L630.7,61.1L631.2,61.7L631.6,62.2L632.1,62.7L632.6,63.2L633.1,63.7L633.6,64.1L634.2,64.6L634.8,64.9L635.4,65.2L636.0,65.5L636.6,65.7L637.2,65.9L637.8,66.0L638.4,66.0L638.9,66.0L639.5,65.9L640.0,65.8L640.5,65.6L641.0,65.4L641.5,65.1L641.9,64.7L642.3,64.3L642.6,63.8L642.9,63.3L643.2,62.7L643.4,62.1L643.5,61.4L643.7,60.7L643.7,60.0L643.7,59.2L643.7,58.5L643.6,57.7L643.5,56.9L643.3,56.1L643.1,55.3L642.9,54.5L642.6,53.8L642.2,53.0L641.9,52.3L641.5,51.6L641.0,50.9L640.6,50.3L640.1,49.7L639.6,49.2L639.1,48.7L638.6,48.3L638.1,47.9L637.6,47.6L637.1,47.4L636.7,47.2L636.2,47.1L635.8,47.1L635.3,47.1L635.0,47.2L634.6,47.4L634.3,47.6L634.0,47.9L633.8,48.2L633.6,48.7L633.4,49.1L633.3,49.6L633.3,50.2L633.3,50.8L633.4,51.5L633.5,52.1L633.7,52.8L633.9,53.5L634.2,54.3L634.5,55.0L634.9,55.7L635.3,56.5L635.8,57.2L636.3,57.9L636.9,58.6L637.5,59.2L638.1,59.9L638.8,60.4L639.4,61.0L640.1,61.4L640.9,61.9L641.6,62.2L642.3,62.5L643.0,62.8L643.8,62.9L644.5,63.0L645.2,63.0L645.8,63.0L646.5,62.8L647.1,62.6L647.7,62.3L648.2,62.0L648.8,61.6L649.2,61.1L649.6,60.5L650.0,59.9L650.3,59.2L650.6,58.5L650.7,57.7L650.9,56.9L651.0,56.0L651.0,55.1L650.9,54.2L650.8,53.2L650.7,52.3L650.4,51.3L650.2,50.4L649.9,49.4L649.5,48.5L649.1,47.6L648.6,46.7L648.1,45.9L647.6,45.1L647.0,44.3L646.4,43.6L645.8,43.0L645.2,42.4L644.6,41.9L644.0,41.4L643.3,41.1L642.7,40.8L642.1,40.6L641.5,40.4L641.0,40.4L640.4,40.4L639.9,40.5L639.5,40.7L639.1,41.0L638.7,41.4L638.4,41.8L638.1,42.3L637.9,42.8L637.8,43.5L637.7,44.1L637.7,44.9L637.7,45.7L637.8,46.5L638.0,47.3L638.3,48.2L638.6,49.1L638.9,50.0L639.4,50.9L639.9,51.8L640.4,52.7L641.0,53.5L641.7,54.4L642.3,55.2L643.1,55.9L643.8,56.7L644.6,57.3L645.4,57.9L646.3,58.4L647.1,58.9L648.0,59.3L648.8,59.6L649.7,59.8L650.5,60.0L651.3,60.0L652.1,60.0L652.9,59.9L653.6,59.7L654.3,59.4L655.0,59.0L655.6,58.5L656.1,57.9L656.6,57.3L657.0,56.6L657.4,55.8L657.7,55.0L657.9,54.1L658.1,53.1L658.2,52.1L658.2,51.1L658.2,50.0L658.0,48.9L657.8,47.8L657.6,46.7L657.3,45.5L656.9,44.4L656.4,43.3L655.9,42.3L655.4,41.2L654.8,40.2L654.2,39.3L653.5,38.4L652.8,37.6L652.1,36.8L651.3,36.1L650.6,35.5L649.8,35.0L649.1,34.5L648.3,34.2L647.6,33.9L646.9,33.7L646.2,33.7L645.6,33.7L645.0,33.8L644.4,34.0L643.9,34.4L643.4,34.8L643.0,35.3L642.7,35.8L642.4,36.5L642.2,37.2L642.1,38.0L642.1,38.9L642.1,39.8L642.2,40.7L642.4,41.7L642.6,42.7L643.0,43.8L643.4,44.9L643.8,45.9L644.4,47.0L645.0,48.0L645.6,49.1L646.4,50.1L647.1,51.0L648.0,51.9L648.8,52.8L649.7,53.6L650.7,54.3L651.6,55.0L652.6,55.5L653.6,56.0L654.5,56.4L655.5,56.7L656.5,56.9L657.4,57.0L658.3,57.0L659.2,56.9L660.1,56.7L660.9,56.4L661.6,56.0L662.3,55.4L663.0,54.8L663.5,54.1L664.1,53.3L664.5,52.5L664.8,51.5L665.1,50.5L665.3,49.4L665.4,48.3L665.4,47.1L665.4,45.9L665.3,44.6L665.0,43.4L664.8,42.1L664.4,40.8L664.0,39.5L663.4,38.3L662.9,37.0L662.2,35.8L661.6,34.7L660.8,33.6L660.1,32.5L659.3,31.6L658.4,30.7L657.6,29.9L656.7,29.2L655.8,28.5L654.9,28.0L654.1,27.6L653.2,27.3L652.4,27.1L651.6,27.0L650.8,27.0L650.1,27.1L649.4,27.3L648.8,27.7L648.2,28.1L647.7,28.7L647.3,29.3L647.0,30.1L646.7,30.9L646.6,31.8L646.5,32.8L646.5,33.8L646.5,34.9L646.7,36.0L647.0,37.2L647.3,38.4L647.7,39.6L648.2,40.9L648.8,42.1L649.5,43.3L650.2,44.5L651.0,45.7L651.9,46.8L652.8,47.9L653.8,48.9L654.8,49.8L655.8,50.7L656.9,51.4L658.0,52.1L659.1,52.7L660.2,53.2L661.3,53.6L662.4,53.8L663.5,54.0L664.5,54.0L665.5,53.9L666.5,53.7L667.4,53.4L668.3,53.0L669.1,52.4" fill="none" stroke="#f01a1a" stroke-width="1.7" stroke-linejoin="round" stroke-linecap="round"/>
<path d="M618.8,150.7L618.8,150.7L618.8,150.7L618.8,150.7L618.8,150.6L618.8,150.5L618.8,150.5L618.9,150.4L618.9,150.3L619.0,150.2L619.1,150.0L619.3,149.9L619.4,149.7L619.6,149.6L619.8,149.4L619.9,149.3L620.2,149.1L620.4,148.9L620.6,148.8L620.9,148.6L621.2,148.5L621.5,148.3L621.8,148.2L622.1,148.0L622.4,147.9L622.7,147.8L623.1,147.7L623.4,147.6L623.7,147.6L624.1,147.5L624.4,147.5L624.8,147.5L625.1,147.5L625.4,147.6L625.7,147.6L626.0,147.7L626.3,147.8L626.6,148.0L626.8,148.1L627.0,148.3L627.2,148.5L627.4,148.7L627.6,149.0L627.8,149.2L627.9,149.5L628.0,149.8L628.1,150.1L628.1,150.4L628.1,150.7L628.1,151.0L628.1,151.4L628.1,151.7L628.0,152.1L627.9,152.4L627.8,152.7L627.7,153.1L627.5,153.4L627.4,153.7L627.2,154.0L627.0,154.3L626.8,154.6L626.6,154.8L626.4,155.0L626.2,155.2L626.0,155.4L625.8,155.6L625.6,155.7L625.4,155.8L625.2,155.9L625.1,155.9L624.9,155.9L624.8,155.9L624.7,155.9L624.6,155.8L624.5,155.7L624.4,155.6L624.4,155.5L624.4,155.3L624.4,155.1L624.5,154.9L624.6,154.6L624.7,154.4L624.8,154.1L625.0,153.8L625.2,153.5L625.5,153.2L625.7,152.9L626.0,152.6L626.3,152.3L626.7,152.0L627.1,151.7L627.5,151.4L627.9,151.1L628.3,150.9L628.7,150.6L629.2,150.4L629.7,150.2L630.1,150.0L630.6,149.9L631.1,149.8L631.6,149.7L632.0,149.6L632.5,149.6L633.0,149.6L633.4,149.6L633.8,149.7L634.2,149.8L634.6,150.0L635.0,150.1L635.3,150.4L635.6,150.6L635.9,150.9L636.1,151.2L636.3,151.5L636.5,151.9L636.6,152.3L636.7,152.7L636.8,153.1L636.8,153.6L636.8,154.0L636.7,154.5L636.7,155.0L636.5,155.5L636.4,156.0L636.2,156.4L636.0,156.9L635.8,157.4L635.5,157.8L635.2,158.3L634.9,158.7L634.6,159.1L634.3,159.4L633.9,159.8L633.6,160.1L633.3,160.4L632.9,160.6L632.6,160.8L632.2,161.0L631.9,161.1L631.6,161.2L631.3,161.2L631.0,161.2L630.8,161.2L630.6,161.1L630.4,161.0L630.2,160.8L630.1,160.7L630.0,160.4L630.0,160.2L630.0,159.9L630.0,159.5L630.1,159.2L630.2,158.8L630.4,158.4L630.6,158.0L630.8,157.5L631.1,157.1L631.5,156.7L631.8,156.2L632.2,155.8L632.7,155.3L633.1,154.9L633.7,154.5L634.2,154.1L634.7,153.7L635.3,153.3L635.9,153.0L636.5,152.7L637.1,152.4L637.7,152.2L638.3,152.0L639.0,151.8L639.6,151.7L640.2,151.7L640.8,151.7L641.3,151.7L641.9,151.8L642.4,151.9L642.9,152.1L643.3,152.3L643.7,152.6L644.1,152.9L644.4,153.2L644.7,153.6L645.0,154.1L645.2,154.5L645.3,155.0L645.4,155.6L645.5,156.1L645.5,156.7L645.5,157.3L645.4,157.9L645.2,158.5L645.0,159.1L644.8,159.8L644.6,160.4L644.3,161.0L643.9,161.6L643.5,162.2L643.1,162.7L642.7,163.3L642.3,163.8L641.8,164.3L641.3,164.7L640.8,165.1L640.4,165.5L639.9,165.8L639.4,166.0L638.9,166.2L638.5,166.4L638.0,166.5L637.6,166.5L637.2,166.5L636.9,166.5L636.6,166.4L636.3,166.2L636.0,166.0L635.8,165.7L635.7,165.4L635.6,165.1L635.6,164.7L635.6,164.3L635.6,163.8L635.7,163.3L635.9,162.8L636.1,162.2L636.4,161.6L636.8,161.1L637.2,160.5L637.6,159.9L638.1,159.3L638.6,158.7L639.2,158.1L639.8,157.6L640.4,157.0L641.1,156.5L641.8,156.0L642.5,155.6L643.3,155.2L644.0,154.8L644.8,154.5L645.5,154.3L646.3,154.0L647.0,153.9L647.8,153.8L648.5,153.7L649.2,153.8L649.8,153.8L650.5,154.0L651.1,154.2L651.6,154.4L652.1,154.7L652.6,155.1L653.0,155.5L653.3,156.0L653.6,156.5L653.9,157.1L654.0,157.7L654.2,158.3L654.2,159.0L654.2,159.7L654.1,160.5L654.0,161.2L653.8,162.0L653.6,162.7L653.3,163.5L653.0,164.3L652.6,165.0L652.1,165.8L651.6,166.5L651.1,167.2L650.6,167.8L650.0,168.5L649.4,169.0L648.8,169.6L648.2,170.1L647.5,170.5L646.9,170.9L646.3,171.2L645.7,171.5L645.1,171.7L644.5,171.8L644.0,171.9L643.5,171.9L643.0,171.8L642.6,171.7L642.2,171.5L641.9,171.2L641.6,170.9L641.4,170.5L641.2,170.1L641.1,169.6L641.1,169.0L641.2,168.5L641.3,167.8L641.4,167.2L641.7,166.5L642.0,165.8L642.4,165.1L642.8,164.4L643.3,163.6L643.9,162.9L644.5,162.2L645.1,161.5L645.9,160.8L646.6,160.1L647.4,159.4L648.2,158.8L649.1,158.3L649.9,157.8L650.8,157.3L651.7,156.9L652.6,156.6L653.5,156.3L654.4,156.1L655.3,155.9L656.1,155.8L657.0,155.8L657.7,155.9L658.5,156.0L659.2,156.2L659.9,156.5L660.5,156.9L661.0,157.3L661.5,157.8L661.9,158.3L662.3,158.9L662.5,159.6L662.8,160.3L662.9,161.1L663.0,161.9L662.9,162.7L662.9,163.5L662.7,164.4L662.5,165.3L662.2,166.2L661.8,167.1L661.4,168.1L660.9,169.0L660.4,169.8L659.8,170.7L659.2,171.5L658.5,172.3L657.8,173.1L657.1,173.8L656.3,174.4L655.6,175.0L654.8,175.5L654.0,176.0L653.3,176.4L652.5,176.7L651.8,176.9L651.1,177.1L650.4,177.2L649.8,177.2L649.2,177.1L648.7,177.0L648.2,176.7L647.8,176.4L647.4,176.1L647.1,175.6L646.9,175.1L646.8,174.5L646.7,173.9L646.7,173.2L646.8,172.5L647.0,171.7L647.2,170.9L647.5,170.1L647.9,169.2L648.4,168.3L649.0,167.5L649.6,166.6L650.3,165.7L651.0,164.9L651.9,164.0L652.7,163.2L653.6,162.4L654.6,161.7L655.5,161.0L656.5,160.4L657.6,159.8L658.6,159.3L659.6,158.9L660.7,158.5L661.7,158.3L662.7,158.0L663.7,157.9L664.7,157.9L665.6,157.9L666.5,158.1L667.3,158.3L668.1,158.6L668.8,159.0L669.4,159.4L670.0,160.0L670.5,160.6L670.9,161.3L671.2,162.0L671.5,162.8L671.6,163.7L671.7,164.6L671.7,165.6L671.6,166.6L671.4,167.6L671.2,168.6L670.8,169.7L670.4,170.7L669.9,171.8L669.4,172.8L668.7,173.8L668.0,174.8L667.3,175.8L666.5,176.7L665.7,177.6L664.9,178.4L664.0,179.2L663.1,179.9L662.2,180.5L661.3,181.0L660.3,181.5L659.5,181.9L658.6,182.2L657.7,182.4L656.9,182.5L656.2,182.5L655.5,182.4L654.8,182.3L654.2,182.0L653.7,181.7L653.2,181.3L652.9,180.8L652.6,180.2L652.4,179.5L652.3,178.8L652.2,178.0L652.3,177.2L652.5,176.3L652.7,175.4L653.1,174.4L653.5,173.4L654.0,172.4L654.6,171.4L655.3,170.4L656.1,169.3L656.9,168.3L657.8,167.4L658.8,166.4L659.8,165.5L660.8,164.6L661.9,163.8L663.1,163.1L664.2,162.4L665.4,161.8L666.6,161.3L667.8,160.8L668.9,160.5L670.1,160.2L671.2,160.0L672.3,160.0L673.4,160.0L674.4,160.1L675.3,160.3L676.2,160.6L677.0,161.0L677.8,161.5L678.4,162.1L679.0,162.8L679.5,163.6L679.9,164.4L680.1,165.3L680.3,166.3L680.4,167.3L680.4,168.4L680.3,169.5L680.2,170.6L679.9,171.8L679.5,173.0L679.0,174.2L678.5,175.4L677.8,176.6L677.1,177.7L676.3,178.9L675.5,180.0L674.6,181.0L673.7,182.0L672.7,183.0L671.7,183.9L670.6,184.7L669.6,185.4L668.5,186.0L667.5,186.6L666.5,187.0L665.4,187.4L664.5,187.6L663.5,187.8L662.6,187.8L661.8,187.8L661.0,187.6L660.3,187.3" fill="none" stroke="#00006a" stroke-width="2.8" stroke-linejoin="round" stroke-linecap="round"/>
<path d="M618.8,150.7L618.8,150.7L618.8,150.7L618.8,150.7L618.8,150.6L618.8,150.5L618.8,150.5L618.9,150.4L618.9,150.3L619.0,150.2L619.1,150.0L619.3,149.9L619.4,149.7L619.6,149.6L619.8,149.4L619.9,149.3L620.2,149.1L620.4,148.9L620.6,148.8L620.9,148.6L621.2,148.5L621.5,148.3L621.8,148.2L622.1,148.0L622.4,147.9L622.7,147.8L623.1,147.7L623.4,147.6L623.7,147.6L624.1,147.5L624.4,147.5L624.8,147.5L625.1,147.5L625.4,147.6L625.7,147.6L626.0,147.7L626.3,147.8L626.6,148.0L626.8,148.1L627.0,148.3L627.2,148.5L627.4,148.7L627.6,149.0L627.8,149.2L627.9,149.5L628.0,149.8L628.1,150.1L628.1,150.4L628.1,150.7L628.1,151.0L628.1,151.4L628.1,151.7L628.0,152.1L627.9,152.4L627.8,152.7L627.7,153.1L627.5,153.4L627.4,153.7L627.2,154.0L627.0,154.3L626.8,154.6L626.6,154.8L626.4,155.0L626.2,155.2L626.0,155.4L625.8,155.6L625.6,155.7L625.4,155.8L625.2,155.9L625.1,155.9L624.9,155.9L624.8,155.9L624.7,155.9L624.6,155.8L624.5,155.7L624.4,155.6L624.4,155.5L624.4,155.3L624.4,155.1L624.5,154.9L624.6,154.6L624.7,154.4L624.8,154.1L625.0,153.8L625.2,153.5L625.5,153.2L625.7,152.9L626.0,152.6L626.3,152.3L626.7,152.0L627.1,151.7L627.5,151.4L627.9,151.1L628.3,150.9L628.7,150.6L629.2,150.4L629.7,150.2L630.1,150.0L630.6,149.9L631.1,149.8L631.6,149.7L632.0,149.6L632.5,149.6L633.0,149.6L633.4,149.6L633.8,149.7L634.2,149.8L634.6,150.0L635.0,150.1L635.3,150.4L635.6,150.6L635.9,150.9L636.1,151.2L636.3,151.5L636.5,151.9L636.6,152.3L636.7,152.7L636.8,153.1L636.8,153.6L636.8,154.0L636.7,154.5L636.7,155.0L636.5,155.5L636.4,156.0L636.2,156.4L636.0,156.9L635.8,157.4L635.5,157.8L635.2,158.3L634.9,158.7L634.6,159.1L634.3,159.4L633.9,159.8L633.6,160.1L633.3,160.4L632.9,160.6L632.6,160.8L632.2,161.0L631.9,161.1L631.6,161.2L631.3,161.2L631.0,161.2L630.8,161.2L630.6,161.1L630.4,161.0L630.2,160.8L630.1,160.7L630.0,160.4L630.0,160.2L630.0,159.9L630.0,159.5L630.1,159.2L630.2,158.8L630.4,158.4L630.6,158.0L630.8,157.5L631.1,157.1L631.5,156.7L631.8,156.2L632.2,155.8L632.7,155.3L633.1,154.9L633.7,154.5L634.2,154.1L634.7,153.7L635.3,153.3L635.9,153.0L636.5,152.7L637.1,152.4L637.7,152.2L638.3,152.0L639.0,151.8L639.6,151.7L640.2,151.7L640.8,151.7L641.3,151.7L641.9,151.8L642.4,151.9L642.9,152.1L643.3,152.3L643.7,152.6L644.1,152.9L644.4,153.2L644.7,153.6L645.0,154.1L645.2,154.5L645.3,155.0L645.4,155.6L645.5,156.1L645.5,156.7L645.5,157.3L645.4,157.9L645.2,158.5L645.0,159.1L644.8,159.8L644.6,160.4L644.3,161.0L643.9,161.6L643.5,162.2L643.1,162.7L642.7,163.3L642.3,163.8L641.8,164.3L641.3,164.7L640.8,165.1L640.4,165.5L639.9,165.8L639.4,166.0L638.9,166.2L638.5,166.4L638.0,166.5L637.6,166.5L637.2,166.5L636.9,166.5L636.6,166.4L636.3,166.2L636.0,166.0L635.8,165.7L635.7,165.4L635.6,165.1L635.6,164.7L635.6,164.3L635.6,163.8L635.7,163.3L635.9,162.8L636.1,162.2L636.4,161.6L636.8,161.1L637.2,160.5L637.6,159.9L638.1,159.3L638.6,158.7L639.2,158.1L639.8,157.6L640.4,157.0L641.1,156.5L641.8,156.0L642.5,155.6L643.3,155.2L644.0,154.8L644.8,154.5L645.5,154.3L646.3,154.0L647.0,153.9L647.8,153.8L648.5,153.7L649.2,153.8L649.8,153.8L650.5,154.0L651.1,154.2L651.6,154.4L652.1,154.7L652.6,155.1L653.0,155.5L653.3,156.0L653.6,156.5L653.9,157.1L654.0,157.7L654.2,158.3L654.2,159.0L654.2,159.7L654.1,160.5L654.0,161.2L653.8,162.0L653.6,162.7L653.3,163.5L653.0,164.3L652.6,165.0L652.1,165.8L651.6,166.5L651.1,167.2L650.6,167.8L650.0,168.5L649.4,169.0L648.8,169.6L648.2,170.1L647.5,170.5L646.9,170.9L646.3,171.2L645.7,171.5L645.1,171.7L644.5,171.8L644.0,171.9L643.5,171.9L643.0,171.8L642.6,171.7L642.2,171.5L641.9,171.2L641.6,170.9L641.4,170.5L641.2,170.1L641.1,169.6L641.1,169.0L641.2,168.5L641.3,167.8L641.4,167.2L641.7,166.5L642.0,165.8L642.4,165.1L642.8,164.4L643.3,163.6L643.9,162.9L644.5,162.2L645.1,161.5L645.9,160.8L646.6,160.1L647.4,159.4L648.2,158.8L649.1,158.3L649.9,157.8L650.8,157.3L651.7,156.9L652.6,156.6L653.5,156.3L654.4,156.1L655.3,155.9L656.1,155.8L657.0,155.8L657.7,155.9L658.5,156.0L659.2,156.2L659.9,156.5L660.5,156.9L661.0,157.3L661.5,157.8L661.9,158.3L662.3,158.9L662.5,159.6L662.8,160.3L662.9,161.1L663.0,161.9L662.9,162.7L662.9,163.5L662.7,164.4L662.5,165.3L662.2,166.2L661.8,167.1L661.4,168.1L660.9,169.0L660.4,169.8L659.8,170.7L659.2,171.5L658.5,172.3L657.8,173.1L657.1,173.8L656.3,174.4L655.6,175.0L654.8,175.5L654.0,176.0L653.3,176.4L652.5,176.7L651.8,176.9L651.1,177.1L650.4,177.2L649.8,177.2L649.2,177.1L648.7,177.0L648.2,176.7L647.8,176.4L647.4,176.1L647.1,175.6L646.9,175.1L646.8,174.5L646.7,173.9L646.7,173.2L646.8,172.5L647.0,171.7L647.2,170.9L647.5,170.1L647.9,169.2L648.4,168.3L649.0,167.5L649.6,166.6L650.3,165.7L651.0,164.9L651.9,164.0L652.7,163.2L653.6,162.4L654.6,161.7L655.5,161.0L656.5,160.4L657.6,159.8L658.6,159.3L659.6,158.9L660.7,158.5L661.7,158.3L662.7,158.0L663.7,157.9L664.7,157.9L665.6,157.9L666.5,158.1L667.3,158.3L668.1,158.6L668.8,159.0L669.4,159.4L670.0,160.0L670.5,160.6L670.9,161.3L671.2,162.0L671.5,162.8L671.6,163.7L671.7,164.6L671.7,165.6L671.6,166.6L671.4,167.6L671.2,168.6L670.8,169.7L670.4,170.7L669.9,171.8L669.4,172.8L668.7,173.8L668.0,174.8L667.3,175.8L666.5,176.7L665.7,177.6L664.9,178.4L664.0,179.2L663.1,179.9L662.2,180.5L661.3,181.0L660.3,181.5L659.5,181.9L658.6,182.2L657.7,182.4L656.9,182.5L656.2,182.5L655.5,182.4L654.8,182.3L654.2,182.0L653.7,181.7L653.2,181.3L652.9,180.8L652.6,180.2L652.4,179.5L652.3,178.8L652.2,178.0L652.3,177.2L652.5,176.3L652.7,175.4L653.1,174.4L653.5,173.4L654.0,172.4L654.6,171.4L655.3,170.4L656.1,169.3L656.9,168.3L657.8,167.4L658.8,166.4L659.8,165.5L660.8,164.6L661.9,163.8L663.1,163.1L664.2,162.4L665.4,161.8L666.6,161.3L667.8,160.8L668.9,160.5L670.1,160.2L671.2,160.0L672.3,160.0L673.4,160.0L674.4,160.1L675.3,160.3L676.2,160.6L677.0,161.0L677.8,161.5L678.4,162.1L679.0,162.8L679.5,163.6L679.9,164.4L680.1,165.3L680.3,166.3L680.4,167.3L680.4,168.4L680.3,169.5L680.2,170.6L679.9,171.8L679.5,173.0L679.0,174.2L678.5,175.4L677.8,176.6L677.1,177.7L676.3,178.9L675.5,180.0L674.6,181.0L673.7,182.0L672.7,183.0L671.7,183.9L670.6,184.7L669.6,185.4L668.5,186.0L667.5,186.6L666.5,187.0L665.4,187.4L664.5,187.6L663.5,187.8L662.6,187.8L661.8,187.8L661.0,187.6L660.3,187.3" fill="none" stroke="#2222ee" stroke-width="1.6" stroke-linejoin="round" stroke-linecap="round"/>
<path d="M494.0,144.2L494.0,144.2L494.0,144.2L494.0,144.2L494.1,144.2L494.1,144.3L494.2,144.4L494.2,144.5L494.3,144.6L494.3,144.7L494.4,144.8L494.5,145.0L494.5,145.2L494.6,145.4L494.6,145.6L494.7,145.9L494.7,146.1L494.8,146.4L494.8,146.7L494.8,146.9L494.8,147.2L494.8,147.5L494.8,147.9L494.7,148.2L494.7,148.5L494.6,148.8L494.5,149.1L494.4,149.4L494.3,149.7L494.2,150.0L494.0,150.2L493.9,150.5L493.7,150.7L493.5,150.9L493.3,151.1L493.0,151.3L492.8,151.5L492.5,151.6L492.3,151.7L492.0,151.8L491.7,151.9L491.4,151.9L491.1,151.9L490.8,151.9L490.5,151.9L490.2,151.8L489.9,151.7L489.6,151.6L489.3,151.5L489.0,151.3L488.7,151.1L488.4,150.9L488.1,150.7L487.8,150.5L487.6,150.3L487.4,150.0L487.1,149.7L486.9,149.5L486.7,149.2L486.6,148.9L486.4,148.6L486.3,148.4L486.2,148.1L486.1,147.9L486.1,147.6L486.0,147.4L486.0,147.2L486.0,147.0L486.0,146.8L486.1,146.7L486.1,146.5L486.2,146.4L486.3,146.4L486.4,146.3L486.5,146.3L486.6,146.4L486.8,146.4L486.9,146.5L487.1,146.6L487.2,146.8L487.4,147.0L487.6,147.2L487.7,147.4L487.9,147.7L488.0,148.0L488.2,148.3L488.3,148.7L488.5,149.0L488.6,149.4L488.7,149.8L488.7,150.3L488.8,150.7L488.8,151.1L488.9,151.6L488.9,152.0L488.8,152.5L488.8,152.9L488.7,153.4L488.6,153.8L488.5,154.2L488.3,154.6L488.1,155.0L487.9,155.4L487.7,155.7L487.4,156.0L487.2,156.3L486.9,156.6L486.6,156.8L486.2,156.9L485.9,157.1L485.5,157.2L485.1,157.3L484.7,157.3L484.3,157.3L483.9,157.2L483.5,157.2L483.1,157.0L482.7,156.9L482.3,156.7L481.9,156.5L481.5,156.2L481.1,155.9L480.7,155.6L480.4,155.3L480.0,154.9L479.7,154.5L479.4,154.1L479.1,153.7L478.9,153.3L478.7,152.9L478.5,152.5L478.3,152.1L478.2,151.7L478.0,151.3L478.0,150.9L477.9,150.5L477.9,150.2L477.9,149.8L477.9,149.5L478.0,149.3L478.1,149.0L478.2,148.9L478.4,148.7L478.5,148.6L478.7,148.5L478.9,148.5L479.1,148.5L479.4,148.5L479.6,148.6L479.9,148.8L480.2,148.9L480.4,149.2L480.7,149.4L480.9,149.8L481.2,150.1L481.5,150.5L481.7,150.9L481.9,151.4L482.1,151.9L482.3,152.4L482.5,152.9L482.6,153.5L482.8,154.1L482.8,154.7L482.9,155.2L482.9,155.8L482.9,156.4L482.9,157.0L482.8,157.6L482.7,158.2L482.6,158.7L482.4,159.2L482.2,159.7L482.0,160.2L481.7,160.7L481.4,161.1L481.1,161.4L480.7,161.7L480.4,162.0L479.9,162.2L479.5,162.4L479.1,162.6L478.6,162.6L478.1,162.7L477.6,162.7L477.1,162.6L476.6,162.5L476.1,162.3L475.6,162.1L475.0,161.8L474.5,161.5L474.1,161.2L473.6,160.8L473.1,160.3L472.7,159.9L472.3,159.4L471.9,158.9L471.5,158.4L471.2,157.8L470.9,157.3L470.6,156.7L470.4,156.1L470.2,155.6L470.0,155.0L469.9,154.5L469.8,154.0L469.8,153.5L469.8,153.0L469.8,152.6L469.9,152.2L470.0,151.8L470.1,151.5L470.3,151.2L470.5,151.0L470.8,150.8L471.0,150.7L471.3,150.6L471.6,150.6L471.9,150.6L472.3,150.7L472.6,150.9L473.0,151.1L473.4,151.4L473.7,151.7L474.1,152.1L474.5,152.5L474.8,153.0L475.1,153.5L475.5,154.1L475.8,154.7L476.0,155.3L476.3,156.0L476.5,156.7L476.7,157.4L476.8,158.1L476.9,158.8L477.0,159.6L477.1,160.3L477.0,161.0L477.0,161.7L476.9,162.5L476.8,163.1L476.6,163.8L476.4,164.4L476.1,165.0L475.8,165.5L475.5,166.0L475.1,166.5L474.6,166.9L474.2,167.2L473.7,167.5L473.2,167.7L472.7,167.9L472.1,168.0L471.5,168.1L470.9,168.0L470.3,167.9L469.7,167.8L469.1,167.6L468.5,167.3L467.9,167.0L467.3,166.6L466.7,166.2L466.1,165.7L465.6,165.1L465.0,164.6L464.5,164.0L464.1,163.3L463.6,162.7L463.2,162.0L462.9,161.3L462.6,160.6L462.3,159.9L462.1,159.2L461.9,158.5L461.7,157.8L461.7,157.2L461.6,156.5L461.6,155.9L461.7,155.4L461.8,154.8L461.9,154.4L462.1,154.0L462.3,153.6L462.6,153.3L462.9,153.0L463.3,152.9L463.6,152.8L464.0,152.7L464.4,152.7L464.9,152.8L465.3,153.0L465.8,153.2L466.3,153.5L466.7,153.9L467.2,154.3L467.7,154.8L468.1,155.4L468.5,156.0L468.9,156.7L469.3,157.4L469.7,158.1L470.0,158.9L470.3,159.7L470.6,160.6L470.8,161.4L471.0,162.3L471.1,163.2L471.1,164.1L471.2,165.0L471.1,165.8L471.1,166.7L470.9,167.5L470.7,168.3L470.5,169.0L470.2,169.7L469.9,170.4L469.5,171.0L469.1,171.5L468.6,172.0L468.1,172.4L467.5,172.8L466.9,173.1L466.3,173.3L465.7,173.4L465.0,173.4L464.3,173.4L463.6,173.3L462.9,173.1L462.2,172.9L461.5,172.6L460.7,172.2L460.0,171.7L459.4,171.2L458.7,170.6L458.0,170.0L457.4,169.3L456.8,168.6L456.3,167.8L455.8,167.0L455.3,166.2L454.9,165.4L454.5,164.5L454.2,163.7L454.0,162.9L453.7,162.0L453.6,161.2L453.5,160.4L453.4,159.6L453.5,158.9L453.5,158.2L453.7,157.6L453.8,157.0L454.1,156.5L454.4,156.0L454.7,155.6L455.1,155.3L455.5,155.1L455.9,154.9L456.4,154.8L456.9,154.8L457.4,154.9L458.0,155.1L458.5,155.3L459.1,155.7L459.7,156.1L460.2,156.6L460.8,157.1L461.3,157.8L461.9,158.4L462.4,159.2L462.9,160.0L463.3,160.9L463.7,161.8L464.1,162.7L464.4,163.7L464.7,164.7L464.9,165.7L465.1,166.7L465.2,167.8L465.3,168.8L465.3,169.8L465.2,170.8L465.1,171.7L464.9,172.7L464.7,173.5L464.4,174.4L464.0,175.1L463.6,175.9L463.1,176.5L462.6,177.1L462.0,177.6L461.4,178.0L460.7,178.3L460.0,178.6L459.3,178.7L458.5,178.8L457.7,178.8L456.9,178.7L456.1,178.5L455.3,178.2L454.5,177.9L453.7,177.4L452.9,176.9L452.1,176.3L451.3,175.6L450.6,174.9L449.9,174.1L449.2,173.3L448.6,172.4L448.0,171.5L447.4,170.5L447.0,169.6L446.5,168.6L446.2,167.6L445.9,166.6L445.6,165.6L445.4,164.7L445.3,163.7L445.3,162.8L445.3,162.0L445.4,161.1L445.5,160.4L445.7,159.7L446.0,159.1L446.3,158.5L446.7,158.0L447.1,157.6L447.6,157.3L448.1,157.1L448.7,157.0L449.3,157.0L449.9,157.0L450.5,157.2L451.2,157.4L451.9,157.8L452.5,158.2L453.2,158.8L453.9,159.4L454.5,160.1L455.2,160.8L455.8,161.7L456.3,162.6L456.9,163.6L457.4,164.6L457.8,165.7L458.2,166.8L458.6,167.9L458.9,169.0L459.1,170.2L459.3,171.4L459.4,172.6L459.4,173.7L459.4,174.8L459.3,175.9L459.1,177.0L458.8,178.0L458.5,179.0L458.1,179.9L457.7,180.7L457.2,181.4L456.6,182.1L456.0,182.7L455.3,183.2L454.5,183.6L453.8,183.9L453.0,184.1L452.1,184.2L451.2,184.2L450.3,184.1L449.4,183.9L448.5,183.6L447.6,183.2L446.7,182.7L445.8,182.1L444.9,181.5L444.0,180.7L443.2,179.9L442.4,179.0L441.6,178.1L440.9,177.1L440.2,176.0L439.6,175.0L439.1,173.8L438.6,172.7L438.1,171.6L437.8,170.4L437.5,169.3L437.3,168.2L437.2,167.1L437.1,166.1L437.1,165.1L437.2,164.1L437.4,163.3L437.6,162.4L437.9,161.7L438.3,161.0L438.7,160.5L439.2,160.0L439.7,159.6" fill="none" stroke="#303030" stroke-width="3.0" stroke-linejoin="round" stroke-linecap="round"/>
<path d="M494.0,144.2L494.0,144.2L494.0,144.2L494.0,144.2L494.1,144.2L494.1,144.3L494.2,144.4L494.2,144.5L494.3,144.6L494.3,144.7L494.4,144.8L494.5,145.0L494.5,145.2L494.6,145.4L494.6,145.6L494.7,145.9L494.7,146.1L494.8,146.4L494.8,146.7L494.8,146.9L494.8,147.2L494.8,147.5L494.8,147.9L494.7,148.2L494.7,148.5L494.6,148.8L494.5,149.1L494.4,149.4L494.3,149.7L494.2,150.0L494.0,150.2L493.9,150.5L493.7,150.7L493.5,150.9L493.3,151.1L493.0,151.3L492.8,151.5L492.5,151.6L492.3,151.7L492.0,151.8L491.7,151.9L491.4,151.9L491.1,151.9L490.8,151.9L490.5,151.9L490.2,151.8L489.9,151.7L489.6,151.6L489.3,151.5L489.0,151.3L488.7,151.1L488.4,150.9L488.1,150.7L487.8,150.5L487.6,150.3L487.4,150.0L487.1,149.7L486.9,149.5L486.7,149.2L486.6,148.9L486.4,148.6L486.3,148.4L486.2,148.1L486.1,147.9L486.1,147.6L486.0,147.4L486.0,147.2L486.0,147.0L486.0,146.8L486.1,146.7L486.1,146.5L486.2,146.4L486.3,146.4L486.4,146.3L486.5,146.3L486.6,146.4L486.8,146.4L486.9,146.5L487.1,146.6L487.2,146.8L487.4,147.0L487.6,147.2L487.7,147.4L487.9,147.7L488.0,148.0L488.2,148.3L488.3,148.7L488.5,149.0L488.6,149.4L488.7,149.8L488.7,150.3L488.8,150.7L488.8,151.1L488.9,151.6L488.9,152.0L488.8,152.5L488.8,152.9L488.7,153.4L488.6,153.8L488.5,154.2L488.3,154.6L488.1,155.0L487.9,155.4L487.7,155.7L487.4,156.0L487.2,156.3L486.9,156.6L486.6,156.8L486.2,156.9L485.9,157.1L485.5,157.2L485.1,157.3L484.7,157.3L484.3,157.3L483.9,157.2L483.5,157.2L483.1,157.0L482.7,156.9L482.3,156.7L481.9,156.5L481.5,156.2L481.1,155.9L480.7,155.6L480.4,155.3L480.0,154.9L479.7,154.5L479.4,154.1L479.1,153.7L478.9,153.3L478.7,152.9L478.5,152.5L478.3,152.1L478.2,151.7L478.0,151.3L478.0,150.9L477.9,150.5L477.9,150.2L477.9,149.8L477.9,149.5L478.0,149.3L478.1,149.0L478.2,148.9L478.4,148.7L478.5,148.6L478.7,148.5L478.9,148.5L479.1,148.5L479.4,148.5L479.6,148.6L479.9,148.8L480.2,148.9L480.4,149.2L480.7,149.4L480.9,149.8L481.2,150.1L481.5,150.5L481.7,150.9L481.9,151.4L482.1,151.9L482.3,152.4L482.5,152.9L482.6,153.5L482.8,154.1L482.8,154.7L482.9,155.2L482.9,155.8L482.9,156.4L482.9,157.0L482.8,157.6L482.7,158.2L482.6,158.7L482.4,159.2L482.2,159.7L482.0,160.2L481.7,160.7L481.4,161.1L481.1,161.4L480.7,161.7L480.4,162.0L479.9,162.2L479.5,162.4L479.1,162.6L478.6,162.6L478.1,162.7L477.6,162.7L477.1,162.6L476.6,162.5L476.1,162.3L475.6,162.1L475.0,161.8L474.5,161.5L474.1,161.2L473.6,160.8L473.1,160.3L472.7,159.9L472.3,159.4L471.9,158.9L471.5,158.4L471.2,157.8L470.9,157.3L470.6,156.7L470.4,156.1L470.2,155.6L470.0,155.0L469.9,154.5L469.8,154.0L469.8,153.5L469.8,153.0L469.8,152.6L469.9,152.2L470.0,151.8L470.1,151.5L470.3,151.2L470.5,151.0L470.8,150.8L471.0,150.7L471.3,150.6L471.6,150.6L471.9,150.6L472.3,150.7L472.6,150.9L473.0,151.1L473.4,151.4L473.7,151.7L474.1,152.1L474.5,152.5L474.8,153.0L475.1,153.5L475.5,154.1L475.8,154.7L476.0,155.3L476.3,156.0L476.5,156.7L476.7,157.4L476.8,158.1L476.9,158.8L477.0,159.6L477.1,160.3L477.0,161.0L477.0,161.7L476.9,162.5L476.8,163.1L476.6,163.8L476.4,164.4L476.1,165.0L475.8,165.5L475.5,166.0L475.1,166.5L474.6,166.9L474.2,167.2L473.7,167.5L473.2,167.7L472.7,167.9L472.1,168.0L471.5,168.1L470.9,168.0L470.3,167.9L469.7,167.8L469.1,167.6L468.5,167.3L467.9,167.0L467.3,166.6L466.7,166.2L466.1,165.7L465.6,165.1L465.0,164.6L464.5,164.0L464.1,163.3L463.6,162.7L463.2,162.0L462.9,161.3L462.6,160.6L462.3,159.9L462.1,159.2L461.9,158.5L461.7,157.8L461.7,157.2L461.6,156.5L461.6,155.9L461.7,155.4L461.8,154.8L461.9,154.4L462.1,154.0L462.3,153.6L462.6,153.3L462.9,153.0L463.3,152.9L463.6,152.8L464.0,152.7L464.4,152.7L464.9,152.8L465.3,153.0L465.8,153.2L466.3,153.5L466.7,153.9L467.2,154.3L467.7,154.8L468.1,155.4L468.5,156.0L468.9,156.7L469.3,157.4L469.7,158.1L470.0,158.9L470.3,159.7L470.6,160.6L470.8,161.4L471.0,162.3L471.1,163.2L471.1,164.1L471.2,165.0L471.1,165.8L471.1,166.7L470.9,167.5L470.7,168.3L470.5,169.0L470.2,169.7L469.9,170.4L469.5,171.0L469.1,171.5L468.6,172.0L468.1,172.4L467.5,172.8L466.9,173.1L466.3,173.3L465.7,173.4L465.0,173.4L464.3,173.4L463.6,173.3L462.9,173.1L462.2,172.9L461.5,172.6L460.7,172.2L460.0,171.7L459.4,171.2L458.7,170.6L458.0,170.0L457.4,169.3L456.8,168.6L456.3,167.8L455.8,167.0L455.3,166.2L454.9,165.4L454.5,164.5L454.2,163.7L454.0,162.9L453.7,162.0L453.6,161.2L453.5,160.4L453.4,159.6L453.5,158.9L453.5,158.2L453.7,157.6L453.8,157.0L454.1,156.5L454.4,156.0L454.7,155.6L455.1,155.3L455.5,155.1L455.9,154.9L456.4,154.8L456.9,154.8L457.4,154.9L458.0,155.1L458.5,155.3L459.1,155.7L459.7,156.1L460.2,156.6L460.8,157.1L461.3,157.8L461.9,158.4L462.4,159.2L462.9,160.0L463.3,160.9L463.7,161.8L464.1,162.7L464.4,163.7L464.7,164.7L464.9,165.7L465.1,166.7L465.2,167.8L465.3,168.8L465.3,169.8L465.2,170.8L465.1,171.7L464.9,172.7L464.7,173.5L464.4,174.4L464.0,175.1L463.6,175.9L463.1,176.5L462.6,177.1L462.0,177.6L461.4,178.0L460.7,178.3L460.0,178.6L459.3,178.7L458.5,178.8L457.7,178.8L456.9,178.7L456.1,178.5L455.3,178.2L454.5,177.9L453.7,177.4L452.9,176.9L452.1,176.3L451.3,175.6L450.6,174.9L449.9,174.1L449.2,173.3L448.6,172.4L448.0,171.5L447.4,170.5L447.0,169.6L446.5,168.6L446.2,167.6L445.9,166.6L445.6,165.6L445.4,164.7L445.3,163.7L445.3,162.8L445.3,162.0L445.4,161.1L445.5,160.4L445.7,159.7L446.0,159.1L446.3,158.5L446.7,158.0L447.1,157.6L447.6,157.3L448.1,157.1L448.7,157.0L449.3,157.0L449.9,157.0L450.5,157.2L451.2,157.4L451.9,157.8L452.5,158.2L453.2,158.8L453.9,159.4L454.5,160.1L455.2,160.8L455.8,161.7L456.3,162.6L456.9,163.6L457.4,164.6L457.8,165.7L458.2,166.8L458.6,167.9L458.9,169.0L459.1,170.2L459.3,171.4L459.4,172.6L459.4,173.7L459.4,174.8L459.3,175.9L459.1,177.0L458.8,178.0L458.5,179.0L458.1,179.9L457.7,180.7L457.2,181.4L456.6,182.1L456.0,182.7L455.3,183.2L454.5,183.6L453.8,183.9L453.0,184.1L452.1,184.2L451.2,184.2L450.3,184.1L449.4,183.9L448.5,183.6L447.6,183.2L446.7,182.7L445.8,182.1L444.9,181.5L444.0,180.7L443.2,179.9L442.4,179.0L441.6,178.1L440.9,177.1L440.2,176.0L439.6,175.0L439.1,173.8L438.6,172.7L438.1,171.6L437.8,170.4L437.5,169.3L437.3,168.2L437.2,167.1L437.1,166.1L437.1,165.1L437.2,164.1L437.4,163.3L437.6,162.4L437.9,161.7L438.3,161.0L438.7,160.5L439.2,160.0L439.7,159.6" fill="none" stroke="#ffffff" stroke-width="1.8" stroke-linejoin="round" stroke-linecap="round"/>

<!-- Force arrow 1 -->
<text x="296.8" y="102.4" class="b" font-size="26" textLength="82.9" lengthAdjust="spacingAndGlyphs" stroke="#000" stroke-width="0.9">Force</text>
<line x1="280" y1="113.8" x2="400" y2="113.8" stroke="#000" stroke-width="3"/>
<path d="M407.5,113.8 L397.5,109 L397.5,118.6 Z" fill="#000"/>

<!-- PLBA -->
<g fill="none" stroke-linecap="round" stroke-linejoin="round" transform="translate(0,1)">
 <path d="M133.2,218.1 C138,219 141,220 144.7,220.6 C150,221.8 153,223 157.8,223.1 C162,223.2 165,223 167.7,222.2 C172,220.5 175,218 179.2,217.3 C183,216.8 187,217.3 190.7,218.1 C195,219.2 199,220.7 203.8,221.4 C208,222 213,222.6 217,222.2 C221,221.5 224,220.5 226.8,219 C229.5,217.5 232,216 235,215.7" stroke="#7f8fb5" stroke-width="8.2"/>
 <path d="M133.2,218.1 C138,219 141,220 144.7,220.6 C150,221.8 153,223 157.8,223.1 C162,223.2 165,223 167.7,222.2 C172,220.5 175,218 179.2,217.3 C183,216.8 187,217.3 190.7,218.1 C195,219.2 199,220.7 203.8,221.4 C208,222 213,222.6 217,222.2 C221,221.5 224,220.5 226.8,219 C229.5,217.5 232,216 235,215.7" stroke="#aebedc" stroke-width="5.2" transform="translate(0,-0.4)"/>
 <path d="M133.2,218.1 C138,219 141,220 144.7,220.6 C150,221.8 153,223 157.8,223.1 C162,223.2 165,223 167.7,222.2 C172,220.5 175,218 179.2,217.3 C183,216.8 187,217.3 190.7,218.1 C195,219.2 199,220.7 203.8,221.4 C208,222 213,222.6 217,222.2 C221,221.5 224,220.5 226.8,219 C229.5,217.5 232,216 235,215.7" stroke="#d6dff1" stroke-width="1.8" transform="translate(0,-1.6)"/>
</g>
<text x="253.7" y="225.3" class="b" font-size="25" textLength="76.2" lengthAdjust="spacingAndGlyphs" stroke="#000" stroke-width="1.1">PLBA</text>

<!-- PLBA structure -->
<g fill="none" stroke="#000" stroke-width="2.5" stroke-linejoin="round" stroke-linecap="butt">
 <path d="M339.8,181.8 L371.7,188 L404.5,181.8 L436.4,190.7"/>
 <path d="M351.5,168.5 C346,176 346,191 351.5,198.7"/>
 <path d="M408.5,168.5 C414,176 414,191 408.5,198.7"/>
 <path d="M371.7,188 L371.7,201.3 L378.5,206"/>
 <path d="M371.7,201.3 L361.5,206.5"/>
 <path d="M369.6,197.6 L359.7,202.7"/>
 <path d="M383.1,227.7 L394.1,240.6 L387.4,254 L386.9,271.7 L372.6,256.9 L372.4,252.5"/>
 <path d="M383.1,227.7 L373.5,240.6 L373.5,245.4"/>
 <path d="M343.8,237.7 L358.2,243.5 L344.3,250.2"/>
 <path d="M358.2,243.5 L373.5,240.6"/>
 <path d="M358.2,243.5 L387.4,254"/>
</g>
<g stroke="#000" stroke-width="1.6">
 <line x1="381" y1="220.5" x2="385.2" y2="220.5"/>
 <line x1="381.3" y1="223" x2="384.9" y2="223"/>
 <line x1="381.6" y1="225.5" x2="384.6" y2="225.5"/>
 <line x1="366.4" y1="229.6" x2="368.6" y2="227.6"/>
 <line x1="367.8" y1="232.2" x2="370.6" y2="229.6"/>
 <line x1="369.2" y1="234.8" x2="372.6" y2="231.6"/>
 <line x1="370.6" y1="237.4" x2="374.6" y2="233.6"/>
</g>
<text x="356.4" y="215" font-size="14" class="b" text-anchor="middle">O</text>
<text x="383.6" y="218.3" font-size="14" class="b" text-anchor="middle">O</text>
<text x="418" y="201.5" font-size="16" class="b" text-anchor="middle">y</text>
<text x="348.5" y="229.2" font-size="12" font-style="italic" stroke="#000" stroke-width="0.3">(R)</text>
<text x="375.4" y="246.5" font-size="12" font-style="italic" stroke="#000" stroke-width="0.3">(S)</text>
<text x="390.8" y="262.1" font-size="12" font-style="italic" stroke="#000" stroke-width="0.3">(S)</text>

<!-- ============ MOLECULE 1 ============ -->
<g fill="none" stroke="#000" stroke-width="2.95" stroke-linejoin="round">
 <path d="M12.5,228.5 L70.3,230.6 C75,231.5 71.6,224.7 62.3,219.6 C53.4,214.3 42.7,209.8 40,212.5 C38.3,215.1 46.3,235.6 53.4,246.3 C57.8,252.5 61.4,257.8 56.9,255.2 C46.3,251.6 30.2,233.8 24.9,234.7 C19.6,235.6 21,249.8 24.5,268"/>
 <path d="M36.5,279.2 L44.5,284.4 L40,303.1 L47.5,308.3"/>
 <path d="M62,312.8 L73.8,311.1 L85,326.6"/>
 <path d="M72.3,309.6 L77.8,301.4"/>
 <path d="M76.9,312.9 L81.5,305.6"/>
 <path d="M55.6,322.5 L55.6,334.5 L73.3,340.5"/>
 <path d="M57.2,337.2 L49,342.6"/>
 <path d="M54.8,329.5 L45,335.2"/>
 <path d="M85,326.6 L73.3,340.5 L87.7,345"/>
 <path d="M85,326.6 L125,345"/>
 <path d="M87.7,345 L92.3,336"/>
 <path d="M87.7,345 L96.7,362.1 M125,345 L117,362.1 M125,345 L117,328.3"/>
 <path d="M96.7,295.5 L117,295.5 L126.7,311.9 L117,328.3 L96.7,328.3 L87,311.9 Z"/>
 <path d="M96.7,362.1 L117,362.1 L126.7,378.6 L117,395 L96.7,395 L87,378.6 Z"/>
 <path d="M101.4,305.2 L97.4,311.8 M111.8,305.2 L115.8,311.8 M102.4,320.5 L110.9,320.5"/>
 <path d="M97.4,378.3 L101.4,371.7 M111.8,371.7 L115.8,378.3 M102.4,387.1 L110.9,387.1"/>
 <path d="M125,345.5 L183.1,345.7"/>
 <path d="M145,337 L163.4,337 M145,354.4 L163.4,354.4"/>
 <path d="M183.1,345.7 L192.2,328.4 L212.7,328.4 L221.7,345.7 L212.7,362.9 L192.2,362.9 Z"/>
 <path d="M198.5,337.5 L206.3,337.5 M193.2,347.5 L196.5,352.6 M210.2,347.5 L206.9,352.6"/>
 <path d="M221.7,345.7 L231.5,345.7"/>
 <path d="M246.4,345.7 C255.4,343.2 263.6,339.1 266.9,330.9 L250,314 C246,309 252,304.6 262,304.6 C268,304.6 269.5,312 269.3,321 L267.7,330.9 C275,326 281,318 280.5,308 C280,300 278.5,296 277.6,293.1"/>
</g>

<g font-weight="bold" text-anchor="middle" font-size="18">
<text x="29.1" y="279.3">O</text>
<text x="81" y="299.2">O</text>
<text x="38.1" y="350.8">O</text>
<text x="240" y="352.1">O</text>
<text x="55.5" y="321.7" font-size="17.6">N</text>
</g>
<!-- Force arrow 2 -->
<text x="300.6" y="325.2" class="b" font-size="26" textLength="81.6" lengthAdjust="spacingAndGlyphs" stroke="#000" stroke-width="0.9">Force</text>
<line x1="292.8" y1="341.6" x2="392" y2="341.6" stroke="#000" stroke-width="3"/>
<path d="M399.5,341.6 L389.5,337 L389.5,346.3 Z" fill="#000"/>

<!-- ============ MOLECULE 2 ============ -->
<g fill="none" stroke="#000" stroke-width="2.9" stroke-linejoin="round">
 <path d="M385.1,292.4 C387,303 395,313 407.8,318.3 C418,320 430,321 438,323 C442,325 441,331 436,333.5 C430,336.5 424,337 421,334 C415,328 409,320 407.8,314 C407,309 410,306 414,305 C420,303 430,300.5 437,299.8"/>
 <path d="M452.3,304.2 L461.2,306.7 L466.5,325.4 L474.8,328.2"/>
 <path d="M492.3,322.7 L498.5,320 L514.6,328 L509.2,346.7 L491.4,346.7 L488,341"/>
 <path d="M504.8,331.6 L502.1,337.8"/>
 <path d="M494.3,310.5 L494.3,321 M502.3,310.5 L502.3,322"/>
 <path d="M488.8,341.4 L481.6,351.2 M495,348.5 L487.9,356.5"/>
</g>

<!-- anthracene + glow -->
<g fill="none" stroke-linejoin="round">
 <g stroke="#22e4f0" stroke-width="10.5">
  <path id="anth" d="M539,295.5 L557.4,295.5 L567,311.3 L557.4,327.4 L539,327.4 L529.4,311.3 Z M539,327.4 L529.4,343.3 L539,359.4 L557.4,359.4 L567,343.3 L557.4,327.4 M539,359.4 L529.4,375.3 L539,391.3 L557.4,391.3 L567,375.3 L557.4,359.4"/>
  <path d="M567,343.3 L623.3,343.6"/>
  <path d="M623.3,343.6 L632.3,327.5 L652,327.5 L661,343.6 L652,358.9 L632.3,358.9 Z M661,343.6 L671,343.6"/>
  <path d="M587,336.1 L603.4,336.1 M587,352 L603.4,352" stroke-width="7"/>
 </g>
 <circle cx="678" cy="343.6" r="10.3" fill="#22e4f0" stroke="none"/>
 <g stroke="#000" stroke-width="2.9">
  <path d="M539,295.5 L557.4,295.5 L567,311.3 L557.4,327.4 L539,327.4 L529.4,311.3 Z M539,327.4 L529.4,343.3 L539,359.4 L557.4,359.4 L567,343.3 L557.4,327.4 M539,359.4 L529.4,375.3 L539,391.3 L557.4,391.3 L567,375.3 L557.4,359.4"/>
  <path d="M567,343.3 L623.3,343.6"/>
  <path d="M587,336.1 L603.4,336.1 M587,352 L603.4,352"/>
  <path d="M623.3,343.6 L632.3,327.5 L652,327.5 L661,343.6 L652,358.9 L632.3,358.9 Z M661,343.6 L671,343.6"/>
  <path d="M538.6,310.8 L543.3,303.6 M553,303.6 L557.7,310.8 M538.6,342.8 L543.3,335.6 M553,335.6 L557.7,342.8 M538.6,374.8 L543.3,367.6 M553,367.6 L557.7,374.8 M543.6,383.8 L552.9,383.8"/>
  <path d="M637.6,335.6 L645.7,335.6 M632.6,344.8 L635.8,349.9 M651,344.8 L647.6,349.9"/>
 </g>
 <path d="M684,339 L702,323 C710,316 712,306 700,301.5 C690,297 683,300 682.5,307 C682,315 690,319 704,322 C715,324 723,325 722,316 C721,305 715,297 707.5,286" stroke="#000" stroke-width="2.9"/>
</g>

<g font-weight="bold" text-anchor="middle" font-size="17">
<text x="443.1" y="308.5">O</text>
<text x="483.9" y="336.2">N</text>
<text x="497.3" y="306.6">O</text>
<text x="478.9" y="368.6">O</text>
<text x="678" y="350">O</text>
</g>
<!-- ============ CHART 1 ============ -->
<g>
 <path d="M83.6,546.5L85.5,546.6L87.5,546.9L89.4,547.1L91.4,547.4L93.3,547.1L95.3,546.5L97.2,546.3L99.2,546.5L101.1,546.8L103.1,546.5L105.0,546.3L107.0,546.8L108.9,546.9L110.9,546.7L112.8,546.8L114.8,547.0L116.7,547.8L118.7,547.8L120.6,548.3L122.6,547.7L124.5,547.7L126.5,547.0L128.4,546.9L130.4,546.5L132.3,547.5L134.3,547.7L136.2,547.6L138.2,546.8L140.1,547.1L142.1,547.2L144.0,547.6L146.0,547.4L147.9,546.8L149.9,546.8L151.8,546.5L153.7,546.6L155.7,546.5L157.6,546.5L159.6,546.8L161.5,546.6L163.5,547.0L165.4,547.0L167.4,546.5L169.3,546.6L171.3,546.4L173.2,546.8L175.2,546.5L177.1,546.1L179.1,545.9L181.0,546.1L183.0,546.7L184.9,546.8L186.9,546.4L188.8,546.2L190.8,546.5L192.7,546.2L194.7,545.9L196.6,546.1L198.6,546.3L200.5,546.9L202.5,546.6L204.4,547.1L206.4,547.2L208.3,547.3L210.3,546.6L212.2,546.0L214.2,546.4L216.1,546.9L218.1,547.1L220.0,547.3L222.0,547.2L223.9,547.5L225.9,546.4L227.8,546.0L229.8,546.1L231.7,546.6L233.7,546.9L235.6,546.3L237.5,546.3L239.5,546.3L241.4,546.7L243.4,546.6L245.3,546.6L247.3,547.1L249.2,547.0L251.2,547.1L253.1,546.4L255.1,546.1L257.0,546.0L259.0,546.2L260.9,546.5L262.9,546.1L264.8,546.4L266.8,546.1L268.7,546.8L270.7,546.7L272.6,547.5L274.6,547.7L276.5,548.0L278.5,547.7L280.4,546.9L282.4,546.1L284.3,546.1L286.3,546.3L288.2,547.0L290.2,546.6L292.1,546.4L294.1,546.6L296.0,546.5L298.0,546.3L299.9,546.5L301.9,546.8L303.8,547.0L305.8,547.0L307.7,546.9L309.7,547.2L311.6,546.5L313.6,546.5L315.5,546.2L317.4,546.7L319.4,546.8L321.3,547.5L323.3,547.7L325.2,547.5L327.2,547.6L329.1,546.9L331.1,547.6L333.0,546.6L335.0,547.2L336.9,546.6" stroke="#6e7570" stroke-width="2.2" fill="none" stroke-linejoin="round" opacity="1"/>
<path d="M73.5,544.4L75.2,544.7L76.9,544.3L78.5,543.7L80.2,543.1L81.9,543.3L83.6,543.5L85.2,543.6L86.9,543.0L88.6,542.9L90.2,542.4L91.9,542.8L93.6,542.6L95.2,542.8L96.9,542.0L98.6,541.7L100.3,540.9L101.9,541.1L103.6,541.1L105.3,541.3L106.9,541.3L108.6,541.0L110.3,540.8L112.0,540.6L113.6,540.9L115.3,540.8L117.0,540.1L118.6,539.7L120.3,539.6L122.0,539.8L123.6,539.0L125.3,539.0L127.0,539.0L128.7,539.5L130.3,539.6L132.0,539.3L133.7,539.2L135.3,538.8L137.0,539.4L138.7,539.4L140.4,539.8L142.0,539.9L143.7,540.6L145.4,541.0L147.0,540.8L148.7,540.9L150.4,540.6L152.0,541.2L153.7,541.4L155.4,541.8L157.1,541.8L158.7,542.0L160.4,542.0L162.1,542.4L163.7,542.2L165.4,542.1L167.1,542.2L168.7,542.8L170.4,543.6L172.1,543.6L173.8,543.2L175.4,543.0L177.1,543.2L178.8,543.3L180.4,543.1L182.1,543.1L183.8,543.5L185.5,543.4L187.1,544.1L188.8,543.7L190.5,544.1L192.1,543.5L193.8,543.3L195.5,543.0L197.1,543.7L198.8,544.8L200.5,545.0L202.2,545.0L203.8,544.6L205.5,544.6L207.2,544.9L208.8,545.5L210.5,545.8L212.2,545.3L213.8,544.8L215.5,544.9L217.2,545.2L218.9,545.6L220.5,545.7L222.2,545.8L223.9,545.9L225.5,545.7L227.2,545.5L228.9,545.0L230.6,545.4L232.2,545.7L233.9,546.1L235.6,546.1L237.2,545.9L238.9,545.9L240.6,545.5L242.2,545.5L243.9,544.7L245.6,545.3L247.3,545.1L248.9,545.8L250.6,545.4L252.3,546.1L253.9,546.2L255.6,546.0L257.3,545.6L258.9,545.5L260.6,545.8L262.3,545.5L264.0,545.5L265.6,546.1L267.3,546.7L269.0,547.3L270.6,547.6L272.3,547.5L274.0,546.6L275.7,545.6L277.3,545.8L279.0,546.5L280.7,546.2L282.3,545.8L284.0,545.5L285.7,545.9L287.3,546.0L289.0,545.7L290.7,545.6L292.4,545.5L294.0,546.1L295.7,546.1L297.4,546.4L299.0,545.8L300.7,546.3L302.4,546.2L304.0,546.5L305.7,546.5L307.4,546.0L309.1,545.6L310.7,545.3L312.4,545.6L314.1,545.9L315.7,546.6L317.4,546.7L319.1,546.9L320.8,546.1L322.4,546.5L324.1,546.6L325.8,546.7L327.4,546.0L329.1,545.8L330.8,545.8L332.4,545.7L334.1,546.0L335.8,546.0" stroke="#c5532f" stroke-width="2.2" fill="none" stroke-linejoin="round" opacity="1"/>
<path d="M73.5,539.5L75.2,538.5L76.9,537.6L78.5,536.2L80.2,536.0L81.9,535.8L83.6,535.5L85.2,535.3L86.9,534.9L88.6,534.5L90.2,533.4L91.9,532.7L93.6,532.2L95.2,532.4L96.9,532.1L98.6,531.0L100.3,530.0L101.9,529.2L103.6,529.3L105.3,529.3L106.9,529.0L108.6,528.5L110.3,528.3L112.0,528.9L113.6,530.3L115.3,531.1L117.0,532.1L118.6,532.4L120.3,532.9L122.0,532.4L123.6,532.8L125.3,532.5L127.0,532.5L128.7,532.5L130.3,533.0L132.0,533.5L133.7,533.6L135.3,533.8L137.0,533.9L138.7,533.4L140.4,533.3L142.0,533.7L143.7,534.9L145.4,534.9L147.0,535.4L148.7,535.6L150.4,535.5L152.0,535.5L153.7,535.0L155.4,535.1L157.1,534.9L158.7,535.3L160.4,535.3L162.1,535.7L163.7,536.2L165.4,537.4L167.1,537.5L168.7,537.1L170.4,536.5L172.1,537.0L173.8,537.9L175.4,538.6L177.1,538.3L178.8,538.3L180.4,538.3L182.1,538.5L183.8,538.7L185.5,538.9L187.1,539.1L188.8,539.2L190.5,539.3L192.1,538.9L193.8,538.9L195.5,539.2L197.1,540.6L198.8,540.8L200.5,541.6L202.2,541.7L203.8,541.8L205.5,541.1L207.2,540.9L208.8,541.8L210.5,542.3L212.2,542.6L213.8,542.0L215.5,541.3L217.2,541.1L218.9,541.7L220.5,542.9L222.2,543.1L223.9,543.0L225.5,543.1L227.2,543.2L228.9,543.6L230.6,543.0L232.2,542.8L233.9,542.2L235.6,542.8L237.2,543.0L238.9,543.5L240.6,543.5L242.2,543.9L243.9,544.3L245.6,544.7L247.3,544.5L248.9,544.2L250.6,543.7L252.3,543.7L253.9,544.3L255.6,544.7L257.3,545.0L258.9,544.4L260.6,544.3L262.3,544.1L264.0,544.3L265.6,544.6L267.3,545.3L269.0,545.1L270.6,544.6L272.3,545.0L274.0,544.9L275.7,544.9L277.3,543.9L279.0,544.5L280.7,544.8L282.3,545.6L284.0,544.8L285.7,544.8L287.3,543.9L289.0,545.0L290.7,544.9L292.4,546.0L294.0,545.9L295.7,545.7L297.4,545.6L299.0,545.1L300.7,545.4L302.4,545.3L304.0,545.9L305.7,546.1L307.4,545.8L309.1,545.9L310.7,546.0L312.4,546.1L314.1,546.3L315.7,546.5L317.4,546.4L319.1,545.8L320.8,545.9L322.4,545.9L324.1,546.5L325.8,546.3L327.4,546.1L329.1,546.0L330.8,545.3L332.4,545.8L334.1,545.6L335.8,546.1" stroke="#dd8a66" stroke-width="2.2" fill="none" stroke-linejoin="round" opacity="1"/>
<path d="M73.5,543.7L75.2,542.7L76.9,541.9L78.5,540.7L80.2,540.0L81.9,539.4L83.6,538.7L85.2,537.9L86.9,536.6L88.6,536.0L90.2,535.3L91.9,535.2L93.6,534.2L95.2,533.8L96.9,533.3L98.6,532.9L100.3,531.7L101.9,531.1L103.6,530.9L105.3,530.9L106.9,530.4L108.6,529.7L110.3,529.3L112.0,528.8L113.6,528.4L115.3,528.1L117.0,527.5L118.6,527.6L120.3,527.6L122.0,528.1L123.6,527.4L125.3,527.3L127.0,526.9L128.7,527.6L130.3,527.7L132.0,528.1L133.7,527.9L135.3,528.5L137.0,529.2L138.7,530.3L140.4,530.6L142.0,530.3L143.7,530.2L145.4,530.4L147.0,531.2L148.7,531.8L150.4,531.5L152.0,532.2L153.7,532.3L155.4,533.3L157.1,532.6L158.7,533.4L160.4,533.5L162.1,534.5L163.7,534.8L165.4,534.7L167.1,534.5L168.7,534.7L170.4,535.6L172.1,536.7L173.8,537.0L175.4,537.2L177.1,537.1L178.8,537.3L180.4,537.9L182.1,538.3L183.8,538.6L185.5,538.3L187.1,538.1L188.8,538.4L190.5,539.2L192.1,540.0L193.8,540.4L195.5,540.6L197.1,540.9L198.8,541.3L200.5,541.2L202.2,541.4L203.8,541.3L205.5,541.7L207.2,542.1L208.8,542.5L210.5,542.7L212.2,542.8L213.8,542.7L215.5,542.7L217.2,543.1L218.9,543.3L220.5,543.7L222.2,543.6L223.9,543.9L225.5,544.1L227.2,544.1L228.9,544.1L230.6,543.7L232.2,543.9L233.9,544.1L235.6,544.4L237.2,544.4L238.9,544.5L240.6,544.3L242.2,544.6L243.9,544.5L245.6,544.6L247.3,544.4L248.9,544.6L250.6,544.6L252.3,545.0L253.9,544.8L255.6,545.0L257.3,544.5L258.9,544.6L260.6,544.9L262.3,545.1L264.0,545.0L265.6,544.8L267.3,544.7L269.0,545.3L270.6,545.3L272.3,545.1L274.0,544.5L275.7,544.6L277.3,545.4L279.0,545.4L280.7,545.5L282.3,545.8L284.0,546.0L285.7,546.3L287.3,546.1L289.0,546.3L290.7,545.7L292.4,545.4L294.0,545.2L295.7,545.1L297.4,544.7L299.0,544.8L300.7,545.3L302.4,546.0L304.0,546.2L305.7,546.0L307.4,545.6L309.1,545.5L310.7,545.3L312.4,545.6L314.1,545.7L315.7,545.8L317.4,545.5L319.1,545.2L320.8,545.3L322.4,545.5L324.1,545.7L325.8,546.1L327.4,546.4L329.1,546.4L330.8,546.2L332.4,545.7L334.1,546.3L335.8,546.3" stroke="#edb890" stroke-width="2.2" fill="none" stroke-linejoin="round" opacity="1"/>
<path d="M73.5,537.8L74.9,535.6L76.3,533.4L77.7,531.2L79.1,529.0L80.5,526.7L81.9,524.3L83.3,521.8L84.7,519.1L86.1,516.4L87.5,513.6L88.8,510.8L90.2,507.9L91.6,505.0L93.0,502.1L94.4,499.1L95.8,495.9L97.2,492.5L98.6,489.1L100.0,485.7L101.4,482.5L102.8,479.6L104.2,476.9L105.6,474.7L106.9,472.6L108.3,470.6L109.7,468.7L111.1,466.9L112.5,465.3L113.9,463.8L115.3,462.6L116.7,461.6L118.1,460.6L119.5,459.7L120.9,458.9L122.3,458.1L123.6,457.5L125.0,457.1L126.4,456.8L127.8,456.9L129.2,457.0L130.6,457.4L132.0,457.8L133.4,458.3L134.8,458.9L136.2,459.6L137.6,460.3L139.0,461.0L140.4,461.7L141.7,462.6L143.1,463.7L144.5,465.0L145.9,466.3L147.3,467.7L148.7,469.1L150.1,470.5L151.5,471.8L152.9,473.0L154.3,474.3L155.7,475.5L157.1,476.8L158.4,478.1L159.8,479.4L161.2,480.7L162.6,482.0L164.0,483.4L165.4,484.8L166.8,486.3L168.2,487.9L169.6,489.5L171.0,491.1L172.4,492.7L173.8,494.4L175.2,496.0L176.5,497.6L177.9,499.2L179.3,500.7L180.7,502.2L182.1,503.6L183.5,504.9L184.9,506.1L186.3,507.2L187.7,508.2L189.1,509.2L190.5,510.0L191.9,510.8L193.2,511.6L194.6,512.4L196.0,513.1L197.4,513.9L198.8,514.7L200.2,515.6L201.6,516.5L203.0,517.5L204.4,518.6L205.8,519.6L207.2,520.6L208.6,521.5L210.0,522.4L211.3,523.1L212.7,523.8L214.1,524.5L215.5,525.1L216.9,525.7L218.3,526.3L219.7,526.9L221.1,527.5L222.5,528.0L223.9,528.6L225.3,529.1L226.7,529.7L228.0,530.2L229.4,530.8L230.8,531.3L232.2,531.8L233.6,532.3L235.0,532.8L236.4,533.3L237.8,533.8L239.2,534.3L240.6,534.8L242.0,535.2L243.4,535.6L244.8,536.0L246.1,536.4L247.5,536.7L248.9,537.0L250.3,537.4L251.7,537.7L253.1,538.0L254.5,538.3L255.9,538.6L257.3,538.9L258.7,539.1L260.1,539.4L261.5,539.7L262.8,539.9L264.2,540.1L265.6,540.4L267.0,540.6L268.4,540.8L269.8,541.0L271.2,541.2L272.6,541.4L274.0,541.6L275.4,541.8L276.8,541.9L278.2,542.1L279.6,542.3L280.9,542.5L282.3,542.6L283.7,542.8L285.1,542.9L286.5,543.1L287.9,543.2L289.3,543.3L290.7,543.5L292.1,543.6L293.5,543.7L294.9,543.8L296.3,543.9L297.6,544.0L299.0,544.1L300.4,544.1L301.8,544.2L303.2,544.3L304.6,544.4L306.0,544.5L307.4,544.5L308.8,544.6L310.2,544.7L311.6,544.7L313.0,544.8L314.4,544.9L315.7,544.9L317.1,545.0L318.5,545.0L319.9,545.1L321.3,545.2L322.7,545.2L324.1,545.3L325.5,545.3L326.9,545.4L328.3,545.4L329.7,545.5L331.1,545.6L332.4,545.6L333.8,545.7L335.2,545.8L336.6,545.8" stroke="#92b588" stroke-width="2.5" fill="none" stroke-linejoin="round" opacity="1"/>
<path d="M73.5,543.5L74.9,542.1L76.3,540.7L77.7,539.3L79.1,537.9L80.5,536.6L81.9,535.3L83.3,533.9L84.7,532.5L86.1,531.1L87.5,529.6L88.8,528.0L90.2,526.4L91.6,524.7L93.0,522.9L94.4,520.9L95.8,518.7L97.2,516.4L98.6,513.8L100.0,511.2L101.4,508.5L102.8,505.7L104.2,502.9L105.6,500.1L106.9,497.4L108.3,494.7L109.7,491.8L111.1,488.9L112.5,486.0L113.9,483.1L115.3,480.4L116.7,478.0L118.1,475.7L119.5,473.4L120.9,471.3L122.3,469.2L123.6,467.3L125.0,465.5L126.4,463.9L127.8,462.5L129.2,460.9L130.6,459.4L132.0,458.1L133.4,456.9L134.8,456.1L136.2,455.7L137.6,455.8L139.0,456.0L140.4,456.5L141.7,457.1L143.1,457.8L144.5,458.7L145.9,459.6L147.3,460.6L148.7,461.6L150.1,462.6L151.5,463.6L152.9,464.7L154.3,465.8L155.7,467.1L157.1,468.5L158.4,470.0L159.8,471.6L161.2,473.3L162.6,475.0L164.0,476.7L165.4,478.5L166.8,480.2L168.2,482.0L169.6,483.7L171.0,485.3L172.4,486.9L173.8,488.4L175.2,489.8L176.5,491.2L177.9,492.6L179.3,494.0L180.7,495.3L182.1,496.7L183.5,498.0L184.9,499.4L186.3,500.7L187.7,502.0L189.1,503.2L190.5,504.5L191.9,505.7L193.2,506.8L194.6,508.0L196.0,509.1L197.4,510.1L198.8,511.2L200.2,512.1L201.6,513.0L203.0,513.9L204.4,514.8L205.8,515.7L207.2,516.5L208.6,517.3L210.0,518.1L211.3,518.9L212.7,519.6L214.1,520.4L215.5,521.1L216.9,521.8L218.3,522.5L219.7,523.2L221.1,523.8L222.5,524.5L223.9,525.1L225.3,525.8L226.7,526.4L228.0,527.0L229.4,527.6L230.8,528.2L232.2,528.8L233.6,529.4L235.0,530.0L236.4,530.5L237.8,531.1L239.2,531.6L240.6,532.1L242.0,532.6L243.4,533.1L244.8,533.6L246.1,534.0L247.5,534.4L248.9,534.8L250.3,535.3L251.7,535.7L253.1,536.0L254.5,536.4L255.9,536.8L257.3,537.2L258.7,537.5L260.1,537.9L261.5,538.2L262.8,538.5L264.2,538.8L265.6,539.1L267.0,539.4L268.4,539.7L269.8,540.0L271.2,540.2L272.6,540.5L274.0,540.7L275.4,541.0L276.8,541.2L278.2,541.5L279.6,541.7L280.9,541.9L282.3,542.2L283.7,542.4L285.1,542.6L286.5,542.8L287.9,542.9L289.3,543.1L290.7,543.3L292.1,543.4L293.5,543.5L294.9,543.6L296.3,543.7L297.6,543.8L299.0,543.9L300.4,544.0L301.8,544.1L303.2,544.2L304.6,544.3L306.0,544.4L307.4,544.5L308.8,544.5L310.2,544.6L311.6,544.7L313.0,544.8L314.4,544.8L315.7,544.9L317.1,545.0L318.5,545.0L319.9,545.1L321.3,545.1L322.7,545.2L324.1,545.3L325.5,545.3L326.9,545.4L328.3,545.5L329.7,545.5L331.1,545.6L332.4,545.7L333.8,545.7L335.2,545.8L336.6,545.9" stroke="#4f9a84" stroke-width="2.6" fill="none" stroke-linejoin="round" opacity="1"/>
 <rect x="72.7" y="424.7" width="264.2" height="134.6" fill="none" stroke="#000" stroke-width="3.2"/>
 <g stroke="#000" stroke-width="2.5">
  <line x1="67.5" y1="546.6" x2="73" y2="546.6"/>
  <line x1="67.5" y1="515.1" x2="73" y2="515.1"/>
  <line x1="67.5" y1="483.6" x2="73" y2="483.6"/>
  <line x1="67.5" y1="452.1" x2="73" y2="452.1"/>
  <line x1="128" y1="559" x2="128" y2="564"/>
  <line x1="197.6" y1="559" x2="197.6" y2="564"/>
  <line x1="267.2" y1="559" x2="267.2" y2="564"/>
 </g>
 <g class="b" font-size="19" text-anchor="end">
  <text x="63.5" y="552.7">0</text>
  <text x="63.5" y="521.2">50</text>
  <text x="63.5" y="489.7">100</text>
  <text x="63.5" y="458.2">150</text>
 </g>
 <g class="b" font-size="19" text-anchor="middle">
  <text x="128.1" y="582.3">450</text>
  <text x="197.7" y="582.3">500</text>
  <text x="267.3" y="582.3">550</text>
  <text x="336.9" y="582.3">600</text>
 </g>
 <text x="121.45" y="607.4" class="b" font-size="20.8">Wavelength (nm)</text>
 <text transform="translate(25.2,554.85) rotate(-90)" class="b" font-size="21.3">CPL (mdeg)</text>
 <text x="241.7" y="449.6" class="b" font-size="20.7">520 MPa</text>
 <text x="250.5" y="523.2" class="b" font-size="20.6">0 MPa</text>
 <line x1="281.4" y1="468" x2="281.4" y2="504" stroke="#000" stroke-width="2.6"/>
 <path d="M281.4,455.5 L276.8,470 L286,470 Z" fill="#000"/>
</g>

<!-- ============ CHART 2 ============ -->
<g>
 <path d="M432.3,556.5L433.3,555.0L434.3,553.7L435.2,553.4L436.2,550.0L437.2,546.8L438.2,544.6L439.2,542.4L440.2,538.2L441.2,533.4L442.2,533.9L443.1,526.3L444.1,520.7L445.1,515.5L446.1,508.7L447.1,504.4L448.1,500.7L449.1,495.7L450.1,489.8L451.1,487.7L452.0,481.3L453.0,473.8L454.0,466.1L455.0,467.2L456.0,463.3L457.0,459.5L458.0,453.0L459.0,454.2L460.0,447.3L460.9,453.3L461.9,450.6L462.9,451.7L463.9,450.7L464.9,452.3L465.9,462.2L466.9,463.4L467.9,463.4L468.8,469.6L469.8,475.1L470.8,471.8L471.8,476.7L472.8,480.2L473.8,485.9L474.8,485.9L475.8,491.9L476.8,492.2L477.7,499.1L478.7,501.6L479.7,502.1L480.7,506.3L481.7,506.2L482.7,509.4L483.7,513.7L484.7,514.2L485.7,517.1L486.6,517.1L487.6,521.5L488.6,523.1L489.6,522.5L490.6,522.8L491.6,524.8L492.6,529.1L493.6,530.4L494.5,530.2L495.5,533.6L496.5,536.0L497.5,535.8L498.5,536.5L499.5,539.0L500.5,540.8L501.5,541.4L502.5,539.9L503.4,542.2L504.4,542.4L505.4,542.7L506.4,543.0L507.4,544.6L508.4,544.4L509.4,546.3L510.4,546.3L511.4,547.4L512.3,545.8L513.3,547.3L514.3,548.4L515.3,548.4L516.3,548.6L517.3,548.1L518.3,550.5L519.3,550.4L520.2,550.1L521.2,547.8L522.2,549.5L523.2,550.7L524.2,550.2L525.2,549.3L526.2,551.5L527.2,551.8L528.2,550.6L529.1,551.4L530.1,551.4L531.1,552.5L532.1,550.6L533.1,550.9L534.1,551.9L535.1,552.0L536.1,554.3L537.1,552.2L538.0,553.0L539.0,552.6L540.0,552.5L541.0,553.4L542.0,554.5L543.0,553.0L544.0,553.9L545.0,553.7L545.9,554.0L546.9,553.8L547.9,555.5L548.9,552.7L549.9,553.6L550.9,553.0L551.9,552.3L552.9,553.9L553.9,555.4L554.8,554.8L555.8,555.1L556.8,554.6L557.8,554.2L558.8,555.8L559.8,554.1L560.8,555.6L561.8,554.2L562.8,554.6L563.7,554.8L564.7,554.6L565.7,555.0L566.7,555.1L567.7,556.0L568.7,554.8L569.7,553.4L570.7,553.3L571.7,553.9L572.6,554.4L573.6,555.5L574.6,553.9L575.6,555.1L576.6,555.1L577.6,555.3L578.6,555.1L579.6,555.5L580.5,555.3L581.5,556.1L582.5,555.6L583.5,553.6L584.5,555.4L585.5,555.5L586.5,555.0L587.5,554.9L588.5,556.3L589.4,555.6L590.4,554.8L591.4,555.3L592.4,555.5L593.4,554.4L594.4,556.1L595.4,555.6L596.4,556.0L597.4,554.5L598.3,556.8L599.3,556.2L600.3,556.1L601.3,555.2L602.3,555.3L603.3,554.7L604.3,556.8L605.3,555.2L606.2,556.0L607.2,556.3L608.2,555.5L609.2,556.6L610.2,556.8L611.2,556.2L612.2,556.8L613.2,556.4L614.2,555.7L615.1,555.7L616.1,554.8L617.1,556.1L618.1,556.8L619.1,556.6L620.1,556.7L621.1,556.8L622.1,555.7L623.1,556.5L624.0,556.8L625.0,555.6L626.0,556.2L627.0,555.8L628.0,556.0L629.0,555.7L630.0,556.1L631.0,555.2L631.9,555.9L632.9,555.9L633.9,555.9" stroke="#a010f0" stroke-width="3.4" fill="none" stroke-linejoin="round" stroke-linecap="round" opacity="1"/>
<path d="M431.5,556.5L432.5,554.5L433.5,552.9L434.5,551.2L435.5,549.7L436.5,546.7L437.5,544.3L438.5,541.3L439.4,537.7L440.4,533.2L441.4,529.0L442.4,524.8L443.4,519.6L444.4,514.8L445.4,509.0L446.4,504.2L447.4,498.5L448.3,492.6L449.3,486.5L450.3,483.4L451.3,477.6L452.3,472.4L453.3,466.1L454.3,463.0L455.3,458.7L456.3,455.0L457.2,452.5L458.2,449.5L459.2,446.7L460.2,446.6L461.2,445.7L462.2,445.9L463.2,447.5L464.2,450.2L465.1,454.1L466.1,456.2L467.1,458.8L468.1,462.7L469.1,466.7L470.1,470.8L471.1,473.3L472.1,477.8L473.1,481.8L474.0,485.1L475.0,487.1L476.0,491.1L477.0,493.5L478.0,497.2L479.0,499.2L480.0,502.6L481.0,505.0L482.0,506.2L482.9,509.4L483.9,512.4L484.9,514.5L485.9,516.4L486.9,518.2L487.9,520.9L488.9,523.3L489.9,524.5L490.8,526.1L491.8,527.7L492.8,528.8L493.8,530.7L494.8,532.0L495.8,534.0L496.8,534.6L497.8,535.4L498.8,536.8L499.7,538.0L500.7,538.9L501.7,539.3L502.7,540.9L503.7,541.5L504.7,542.1L505.7,542.7L506.7,543.8L507.7,544.2L508.6,545.0L509.6,545.4L510.6,546.0L511.6,546.7L512.6,546.8L513.6,547.0L514.6,547.9L515.6,548.1L516.5,548.2L517.5,549.0L518.5,549.0L519.5,549.7L520.5,549.5L521.5,549.5L522.5,549.8L523.5,550.6L524.5,550.6L525.4,551.0L526.4,551.2L527.4,551.1L528.4,551.9L529.4,551.5L530.4,551.9L531.4,551.7L532.4,552.1L533.4,552.4L534.3,552.3L535.3,552.3L536.3,552.5L537.3,552.5L538.3,552.9L539.3,553.3L540.3,552.7L541.3,552.9L542.2,553.1L543.2,553.2L544.2,553.0L545.2,553.5L546.2,553.6L547.2,553.5L548.2,553.3L549.2,553.9L550.2,553.4L551.1,553.9L552.1,554.1L553.1,553.6L554.1,554.0L555.1,554.3L556.1,554.1L557.1,553.9L558.1,553.9L559.1,554.3L560.0,554.2L561.0,554.2L562.0,554.5L563.0,554.4L564.0,554.5L565.0,554.6L566.0,554.7L567.0,554.6L568.0,554.7L568.9,554.8L569.9,554.8L570.9,554.6L571.9,554.8L572.9,554.7L573.9,554.7L574.9,554.8L575.9,554.5L576.8,555.2L577.8,554.9L578.8,555.2L579.8,554.8L580.8,554.8L581.8,555.6L582.8,555.5L583.8,555.1L584.8,555.2L585.7,555.2L586.7,555.4L587.7,555.3L588.7,555.3L589.7,555.5L590.7,555.3L591.7,556.0L592.7,555.4L593.7,555.8L594.6,555.4L595.6,555.7L596.6,555.8L597.6,555.6L598.6,555.9L599.6,555.9L600.6,556.0L601.6,555.7L602.5,555.7L603.5,555.6L604.5,555.8L605.5,555.6L606.5,555.8L607.5,555.9L608.5,555.7L609.5,555.7L610.5,556.0L611.4,555.9L612.4,555.9L613.4,555.9L614.4,556.1L615.4,555.7L616.4,556.0L617.4,555.9L618.4,556.2L619.4,555.9L620.3,555.9L621.3,556.1L622.3,555.6L623.3,556.0L624.3,555.7L625.3,555.9L626.3,556.2L627.3,556.2L628.2,556.0L629.2,556.1L630.2,556.1L631.2,556.2L632.2,556.5L633.2,556.2" stroke="#5a0aff" stroke-width="2.6" fill="none" stroke-linejoin="round" stroke-linecap="round" opacity="1"/>
<path d="M456.5,547.7L457.5,543.4L458.5,539.1L459.5,534.9L460.5,530.5L461.5,526.0L462.4,521.2L463.4,516.0L464.4,510.5L465.4,504.9L466.4,499.2L467.4,493.7L468.4,488.6L469.4,483.3L470.3,478.0L471.3,472.8L472.3,468.0L473.3,463.7L474.3,460.3L475.3,457.4L476.3,454.5L477.3,451.8L478.3,449.3L479.2,447.2L480.2,445.6L481.2,444.7L482.2,444.4L483.2,445.2L484.2,446.8L485.2,449.0L486.2,451.4L487.2,454.0L488.1,456.2L489.1,458.6L490.1,461.1L491.1,463.7L492.1,466.4L493.1,469.2L494.1,472.0L495.1,474.7L496.0,477.3L497.0,479.9L498.0,482.4L499.0,485.0L500.0,487.6L501.0,490.1L502.0,492.7L503.0,495.3L504.0,497.8L504.9,500.3L505.9,502.8L506.9,505.2L507.9,507.5L508.9,509.7L509.9,511.8L510.9,513.8L511.9,515.7L512.9,517.4L513.8,519.2L514.8,520.8L515.8,522.4L516.8,524.0L517.8,525.5L518.8,526.9L519.8,528.3L520.8,529.6L521.7,530.8L522.7,532.0L523.7,533.2L524.7,534.3L525.7,535.3L526.7,536.3L527.7,537.3L528.7,538.3L529.7,539.2L530.6,540.0L531.6,540.8L532.6,541.6L533.6,542.2L534.6,542.9L535.6,543.5L536.6,544.2L537.6,544.8L538.6,545.3L539.5,545.9L540.5,546.4L541.5,546.9L542.5,547.4L543.5,547.9L544.5,548.3L545.5,548.7L546.5,549.0L547.4,549.4L548.4,549.7L549.4,550.0L550.4,550.2L551.4,550.5L552.4,550.8L553.4,551.0L554.4,551.3L555.4,551.5L556.3,551.7L557.3,551.9L558.3,552.1L559.3,552.3L560.3,552.5L561.3,552.6L562.3,552.8L563.3,552.9L564.3,553.1L565.2,553.2L566.2,553.3L567.2,553.5L568.2,553.6L569.2,553.7L570.2,553.8L571.2,553.9L572.2,554.0L573.2,554.1L574.1,554.2L575.1,554.3L576.1,554.4L577.1,554.5L578.1,554.6L579.1,554.7L580.1,554.7L581.1,554.8L582.0,554.9L583.0,555.0L584.0,555.0L585.0,555.1L586.0,555.2L587.0,555.3L588.0,555.3L589.0,555.4L590.0,555.4L590.9,555.5L591.9,555.6L592.9,555.6L593.9,555.7L594.9,555.7L595.9,555.8L596.9,555.9L597.9,555.9L598.9,556.0L599.8,556.0L600.8,556.1L601.8,556.1L602.8,556.2" stroke="#0a80ff" stroke-width="2.6" fill="none" stroke-linejoin="round" stroke-linecap="round" opacity="1"/>
<path d="M449.9,556.8L451.1,555.8L452.4,556.5L453.6,556.4L454.8,555.9L456.1,555.4L457.3,556.6L458.5,556.7L459.8,556.1L461.0,556.7L462.3,555.7L463.5,553.6L464.7,555.4L466.0,553.8L467.2,554.7L468.4,551.6L469.7,549.4L470.9,545.9L472.1,541.5L473.4,536.4L474.6,534.6L475.8,531.4L477.1,529.3L478.3,523.3L479.6,520.9L480.8,515.8L482.0,514.2L483.3,508.4L484.5,512.4L485.7,506.9L487.0,502.4L488.2,502.7L489.4,501.7L490.7,499.1L491.9,499.9L493.1,495.5L494.4,489.4L495.6,490.9L496.9,494.7L498.1,493.1L499.3,491.1L500.6,487.0L501.8,490.1L503.0,489.0L504.3,484.6L505.5,483.8L506.7,485.9L508.0,486.8L509.2,487.0L510.4,484.2L511.7,486.9L512.9,478.7L514.2,480.9L515.4,477.0L516.6,472.3L517.9,472.7L519.1,477.2L520.3,470.6L521.6,468.4L522.8,471.9L524.0,471.0L525.3,467.2L526.5,469.8L527.7,459.7L529.0,468.7L530.2,462.9L531.4,458.3L532.7,455.9L533.9,452.6L535.2,450.5L536.4,450.6L537.6,445.5L538.9,455.3L540.1,448.3L541.3,450.3L542.6,447.5L543.8,447.1L545.0,450.6L546.3,450.0L547.5,446.2L548.7,448.5L550.0,452.7L551.2,445.7L552.5,446.2L553.7,458.7L554.9,454.6L556.2,449.3L557.4,455.4L558.6,458.2L559.9,460.6L561.1,462.8L562.3,463.2L563.6,465.5L564.8,463.4L566.0,468.1L567.3,470.0L568.5,474.0L569.8,473.1L571.0,477.6L572.2,478.2L573.5,477.6L574.7,481.6L575.9,483.5L577.2,485.9L578.4,488.6L579.6,491.0L580.9,493.4L582.1,493.1L583.3,498.9L584.6,495.8L585.8,500.3L587.1,503.6L588.3,504.8L589.5,506.8L590.8,506.8L592.0,509.9L593.2,508.1L594.5,512.9L595.7,516.8L596.9,515.5L598.2,518.9L599.4,517.0L600.6,516.6L601.9,518.5L603.1,522.8L604.4,523.1L605.6,520.6L606.8,524.0L608.1,525.7L609.3,525.4L610.5,524.7L611.8,527.5L613.0,530.1L614.2,531.0L615.5,531.7L616.7,534.2L617.9,535.7L619.2,535.3L620.4,537.3L621.6,537.1L622.9,537.7L624.1,536.0L625.4,540.4L626.6,540.3L627.8,541.1L629.1,541.2L630.3,541.2L631.5,543.5L632.8,544.5L634.0,545.9L635.2,545.8L636.5,544.9L637.7,546.0L638.9,547.5L640.2,547.4L641.4,547.4L642.7,547.4L643.9,548.9L645.1,548.9L646.4,550.7L647.6,550.5L648.8,548.4L650.1,552.0L651.3,550.7L652.5,550.5L653.8,551.3L655.0,552.0L656.2,551.6L657.5,551.9L658.7,552.2L660.0,554.0L661.2,552.8L662.4,553.6L663.7,553.7L664.9,553.3L666.1,553.2L667.4,553.3L668.6,554.6L669.8,553.7L671.1,553.8L672.3,554.0" stroke="#bdbdbd" stroke-width="2.8" fill="none" stroke-linejoin="round" stroke-linecap="round" opacity="1"/>
<path d="M480.4,555.4L481.5,555.7L482.6,555.1L483.7,553.9L484.8,554.7L485.9,553.0L487.0,552.7L488.2,551.7L489.3,551.6L490.4,549.7L491.5,547.5L492.6,545.1L493.7,543.1L494.8,541.9L495.9,539.6L497.1,537.4L498.2,533.1L499.3,530.3L500.4,525.7L501.5,520.4L502.6,518.5L503.7,516.4L504.8,511.5L506.0,508.2L507.1,503.1L508.2,493.7L509.3,490.0L510.4,487.7L511.5,478.2L512.6,472.0L513.7,471.2L514.9,468.3L516.0,463.9L517.1,458.8L518.2,454.4L519.3,449.8L520.4,446.9L521.5,444.7L522.6,442.7L523.7,443.8L524.9,449.7L526.0,446.8L527.1,446.8L528.2,450.0L529.3,448.5L530.4,453.5L531.5,456.7L532.6,452.7L533.8,456.3L534.9,458.8L536.0,458.7L537.1,459.9L538.2,463.1L539.3,470.9L540.4,468.5L541.5,469.6L542.7,472.4L543.8,471.7L544.9,471.4L546.0,476.8L547.1,480.0L548.2,475.9L549.3,483.2L550.4,487.2L551.5,487.0L552.7,489.2L553.8,493.6L554.9,493.2L556.0,497.4L557.1,500.1L558.2,500.2L559.3,501.2L560.4,505.2L561.6,505.5L562.7,507.9L563.8,505.4L564.9,512.2L566.0,511.0L567.1,514.7L568.2,516.4L569.3,517.0L570.5,518.6L571.6,519.9L572.7,522.8L573.8,525.6L574.9,527.1L576.0,527.5L577.1,529.0L578.2,529.5L579.3,531.9L580.5,532.4L581.6,533.0L582.7,535.3L583.8,537.8L584.9,538.4L586.0,539.5L587.1,537.6L588.2,540.6L589.4,539.5L590.5,540.8L591.6,540.5L592.7,541.8L593.8,543.4L594.9,544.1L596.0,544.4L597.1,544.8L598.3,545.9L599.4,546.0L600.5,545.1L601.6,548.1L602.7,547.0L603.8,548.2L604.9,547.8L606.0,547.6L607.2,548.6L608.3,548.3L609.4,550.4L610.5,548.7L611.6,550.2L612.7,549.7L613.8,550.3L614.9,552.5L616.0,551.5L617.2,551.1L618.3,550.5L619.4,551.7L620.5,552.0L621.6,553.5L622.7,551.9L623.8,551.9L624.9,553.4L626.1,553.9L627.2,555.1L628.3,553.8L629.4,552.9L630.5,554.5L631.6,554.4L632.7,555.2L633.8,556.4L635.0,555.3" stroke="#ffe800" stroke-width="2.6" fill="none" stroke-linejoin="round" stroke-linecap="round" opacity="1"/>
<path d="M512.0,521.3L513.3,518.7L514.5,516.5L515.7,514.2L517.0,512.8L518.2,511.0L519.4,510.1L520.7,508.8L521.9,505.8L523.1,504.5L524.4,503.0L525.6,500.9L526.8,498.0L528.1,497.0L529.3,493.9L530.6,491.3L531.8,486.5L533.0,483.2L534.3,478.4L535.5,479.3L536.7,475.7L538.0,471.4L539.2,470.5L540.4,468.5L541.7,463.9L542.9,464.4L544.1,463.6L545.4,462.0L546.6,458.1L547.9,456.5L549.1,457.2L550.3,455.2L551.6,451.6L552.8,450.2L554.0,450.5L555.3,447.5L556.5,446.6L557.7,449.1L559.0,446.2L560.2,444.6L561.4,445.8L562.7,448.4L563.9,446.4L565.1,445.9L566.4,445.7L567.6,452.2L568.9,447.0L570.1,453.9L571.3,452.9L572.6,454.5L573.8,456.9L575.0,459.9L576.3,463.3L577.5,462.7L578.7,466.0L580.0,469.7L581.2,464.6L582.4,468.7L583.7,468.9L584.9,473.6L586.2,472.4L587.4,473.9L588.6,475.6L589.9,479.2L591.1,482.4L592.3,483.3L593.6,487.6L594.8,489.3L596.0,489.7L597.3,493.1L598.5,494.5L599.7,496.7L601.0,496.9L602.2,499.4L603.5,502.4L604.7,503.1L605.9,506.5L607.2,507.7L608.4,508.3L609.6,511.6L610.9,512.4L612.1,514.6L613.3,515.0L614.6,515.3L615.8,518.4L617.0,519.1L618.3,521.2L619.5,522.7L620.8,524.0L622.0,523.6L623.2,524.3L624.5,526.8L625.7,528.8L626.9,529.2L628.2,531.0L629.4,531.6L630.6,533.1L631.9,534.2L633.1,535.2L634.3,536.9L635.6,537.8L636.8,539.5L638.0,539.8L639.3,541.2L640.5,541.4L641.8,542.6L643.0,542.8L644.2,543.4L645.5,545.0L646.7,545.4L647.9,546.1L649.2,546.0L650.4,546.3L651.6,547.3L652.9,548.3L654.1,548.2L655.3,549.9L656.6,549.2L657.8,550.5L659.1,551.8L660.3,550.1L661.5,550.9L662.8,552.3L664.0,552.1L665.2,552.6L666.5,552.7L667.7,553.6L668.9,553.5L670.2,553.4L671.4,553.7L672.6,553.6L673.9,554.2L675.1,553.6L676.4,554.8L677.6,554.7L678.8,555.6L680.1,555.5L681.3,554.7L682.5,555.6L683.8,555.2L685.0,555.5L686.2,556.0L687.5,555.8L688.7,555.9L689.9,556.0L691.2,555.7L692.4,555.8L693.7,556.3L694.9,556.4" stroke="#ff6a0a" stroke-width="2.6" fill="none" stroke-linejoin="round" stroke-linecap="round" opacity="1"/>
 <rect x="426" y="421.8" width="270.9" height="134.6" fill="none" stroke="#000" stroke-width="3.2"/>
 <g stroke="#000" stroke-width="2.5">
  <line x1="420.5" y1="444.4" x2="426" y2="444.4"/>
  <line x1="420.5" y1="556.4" x2="426" y2="556.4"/>
  <line x1="449.8" y1="556.4" x2="449.8" y2="561"/>
  <line x1="511.6" y1="556.4" x2="511.6" y2="561"/>
  <line x1="573.3" y1="556.4" x2="573.3" y2="561"/>
  <line x1="635.1" y1="556.4" x2="635.1" y2="561"/>
  <line x1="696.9" y1="556.4" x2="696.9" y2="561"/>
 </g>
 <g class="b" font-size="19.4" text-anchor="end">
  <text x="415.6" y="449.4">1</text>
  <text x="416.8" y="561.7">0</text>
 </g>
 <g class="b" font-size="19.4" text-anchor="middle">
  <text x="450.2" y="579.2">400</text>
  <text x="512" y="579.2">500</text>
  <text x="573.7" y="579.2">600</text>
  <text x="635.5" y="579.2">700</text>
  <text x="696.8" y="579.2">800</text>
 </g>
 <text x="475.25" y="605.2" class="b" font-size="21.4">Wavelength (nm)</text>
 <text transform="translate(377.2,551.6) rotate(-90)" class="b" font-size="21.4">Normalized</text>
 <text transform="translate(401.2,517.2) rotate(-90)" class="b" font-size="20.7">CPL</text>
</g>
</svg>
</body></html>
